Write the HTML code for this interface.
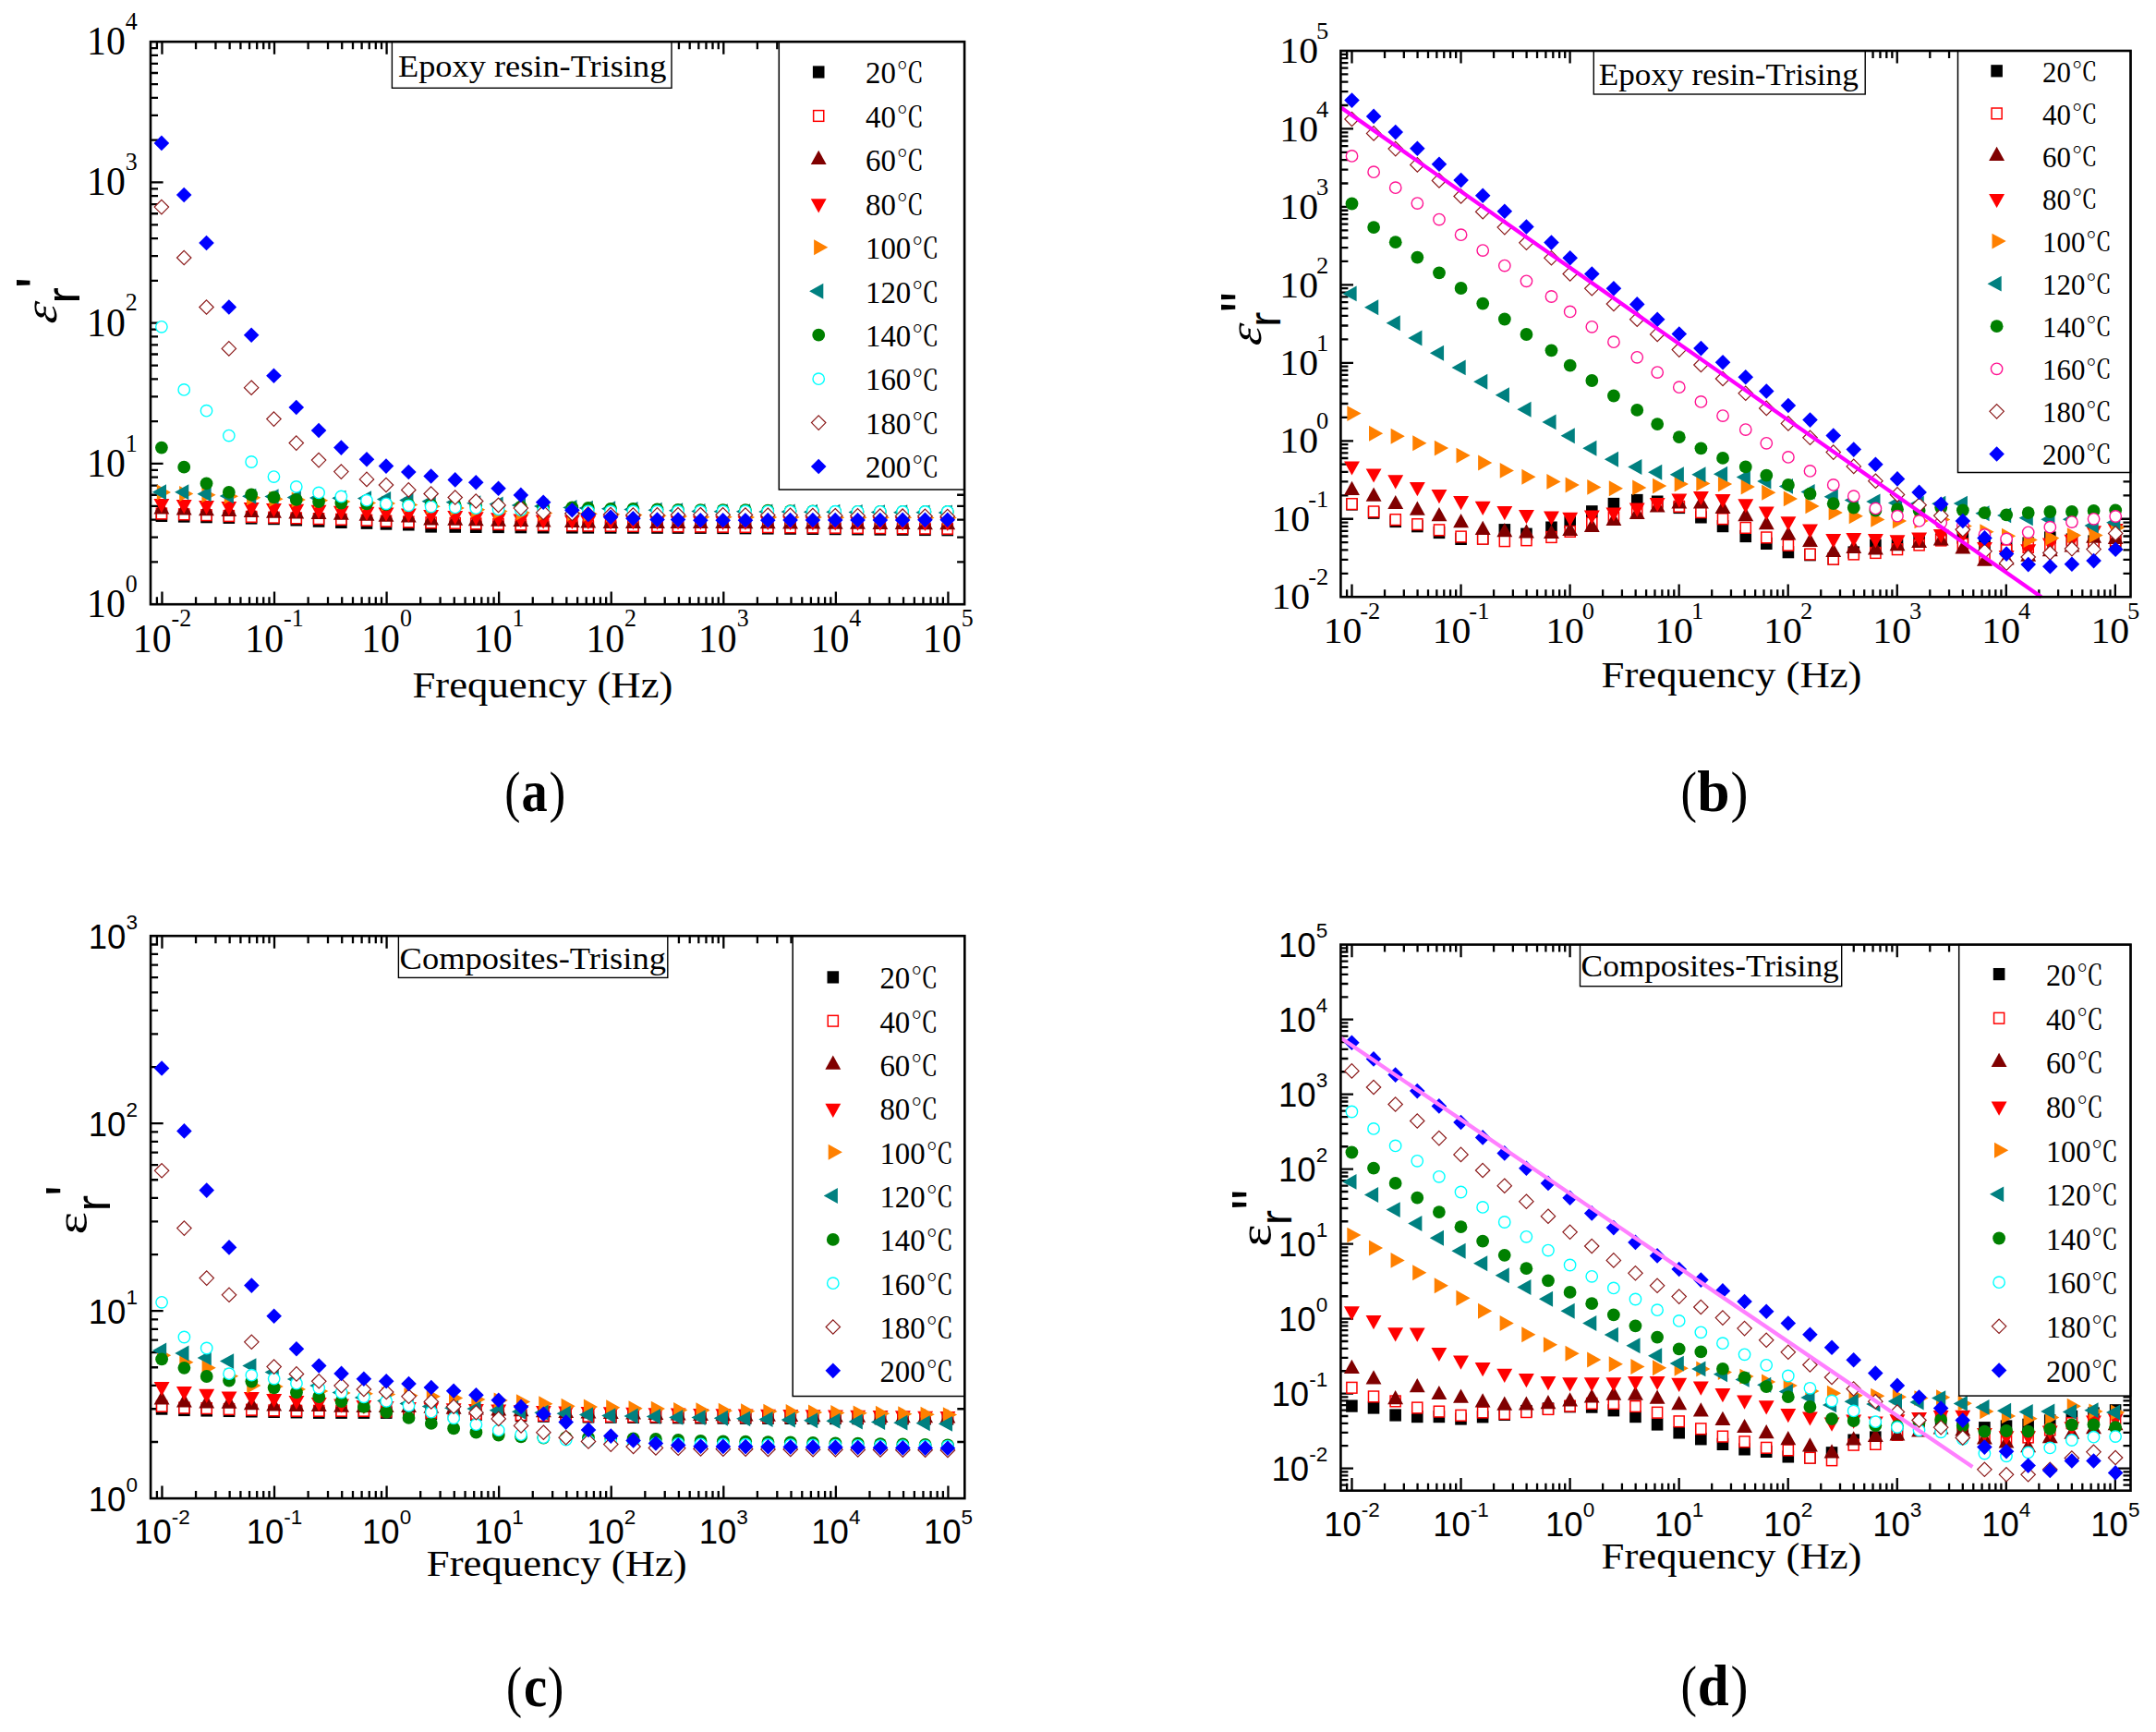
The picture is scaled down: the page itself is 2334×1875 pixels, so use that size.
<!DOCTYPE html>
<html lang="en"><head><meta charset="utf-8"><title>Dielectric spectra of epoxy resin and composites</title>
<style>html,body{margin:0;padding:0;background:#fff}svg{display:block}text{fill:#000}</style></head><body>
<svg xmlns="http://www.w3.org/2000/svg" width="2334" height="1875" viewBox="0 0 2334 1875">
<rect width="2334" height="1875" fill="#fff"/>
<g>
<path d="M169.89 654.2v-8M169.89 45.2v8M175.45 654.2v-13.6M175.45 45.2v13.6M212.05 654.2v-8M212.05 45.2v8M233.45 654.2v-8M233.45 45.2v8M248.64 654.2v-8M248.64 45.2v8M260.42 654.2v-8M260.42 45.2v8M270.05 654.2v-8M270.05 45.2v8M278.19 654.2v-8M278.19 45.2v8M285.24 654.2v-8M285.24 45.2v8M291.46 654.2v-8M291.46 45.2v8M297.02 654.2v-13.6M297.02 45.2v13.6M333.62 654.2v-8M333.62 45.2v8M355.02 654.2v-8M355.02 45.2v8M370.21 654.2v-8M370.21 45.2v8M381.99 654.2v-8M381.99 45.2v8M391.62 654.2v-8M391.62 45.2v8M399.76 654.2v-8M399.76 45.2v8M406.81 654.2v-8M406.81 45.2v8M413.03 654.2v-8M413.03 45.2v8M418.59 654.2v-13.6M418.59 45.2v13.6M455.19 654.2v-8M455.19 45.2v8M476.59 654.2v-8M476.59 45.2v8M491.78 654.2v-8M491.78 45.2v8M503.56 654.2v-8M503.56 45.2v8M513.19 654.2v-8M513.19 45.2v8M521.33 654.2v-8M521.33 45.2v8M528.38 654.2v-8M528.38 45.2v8M534.6 654.2v-8M534.6 45.2v8M540.16 654.2v-13.6M540.16 45.2v13.6M576.76 654.2v-8M576.76 45.2v8M598.16 654.2v-8M598.16 45.2v8M613.35 654.2v-8M613.35 45.2v8M625.13 654.2v-8M625.13 45.2v8M634.76 654.2v-8M634.76 45.2v8M642.9 654.2v-8M642.9 45.2v8M649.95 654.2v-8M649.95 45.2v8M656.17 654.2v-8M656.17 45.2v8M661.73 654.2v-13.6M661.73 45.2v13.6M698.33 654.2v-8M698.33 45.2v8M719.73 654.2v-8M719.73 45.2v8M734.92 654.2v-8M734.92 45.2v8M746.7 654.2v-8M746.7 45.2v8M756.33 654.2v-8M756.33 45.2v8M764.47 654.2v-8M764.47 45.2v8M771.52 654.2v-8M771.52 45.2v8M777.74 654.2v-8M777.74 45.2v8M783.3 654.2v-13.6M783.3 45.2v13.6M819.9 654.2v-8M819.9 45.2v8M841.3 654.2v-8M841.3 45.2v8M856.49 654.2v-8M856.49 45.2v8M868.27 654.2v-8M868.27 45.2v8M877.9 654.2v-8M877.9 45.2v8M886.04 654.2v-8M886.04 45.2v8M893.09 654.2v-8M893.09 45.2v8M899.31 654.2v-8M899.31 45.2v8M904.87 654.2v-13.6M904.87 45.2v13.6M941.47 654.2v-8M941.47 45.2v8M962.87 654.2v-8M962.87 45.2v8M978.06 654.2v-8M978.06 45.2v8M989.84 654.2v-8M989.84 45.2v8M999.47 654.2v-8M999.47 45.2v8M1007.61 654.2v-8M1007.61 45.2v8M1014.66 654.2v-8M1014.66 45.2v8M1020.88 654.2v-8M1020.88 45.2v8M1026.44 654.2v-13.6M1026.44 45.2v13.6M163 608.37h8M1044.1 608.37h-8M163 581.56h8M1044.1 581.56h-8M163 562.54h8M1044.1 562.54h-8M163 547.78h8M1044.1 547.78h-8M163 535.73h8M1044.1 535.73h-8M163 525.53h8M1044.1 525.53h-8M163 516.7h8M1044.1 516.7h-8M163 508.92h8M1044.1 508.92h-8M163 501.95h13.6M1044.1 501.95h-13.6M163 456.12h8M1044.1 456.12h-8M163 429.31h8M1044.1 429.31h-8M163 410.29h8M1044.1 410.29h-8M163 395.53h8M1044.1 395.53h-8M163 383.48h8M1044.1 383.48h-8M163 373.28h8M1044.1 373.28h-8M163 364.45h8M1044.1 364.45h-8M163 356.67h8M1044.1 356.67h-8M163 349.7h13.6M1044.1 349.7h-13.6M163 303.87h8M1044.1 303.87h-8M163 277.06h8M1044.1 277.06h-8M163 258.04h8M1044.1 258.04h-8M163 243.28h8M1044.1 243.28h-8M163 231.23h8M1044.1 231.23h-8M163 221.03h8M1044.1 221.03h-8M163 212.2h8M1044.1 212.2h-8M163 204.42h8M1044.1 204.42h-8M163 197.45h13.6M1044.1 197.45h-13.6M163 151.62h8M1044.1 151.62h-8M163 124.81h8M1044.1 124.81h-8M163 105.79h8M1044.1 105.79h-8M163 91.03h8M1044.1 91.03h-8M163 78.98h8M1044.1 78.98h-8M163 68.78h8M1044.1 68.78h-8M163 59.95h8M1044.1 59.95h-8M163 52.17h8M1044.1 52.17h-8" stroke="#000" stroke-width="2.3" fill="none"/>
<g><rect x="168.6" y="551.78" width="12.6" height="13.23" fill="#000000"/><rect x="192.91" y="552.42" width="12.6" height="13.23" fill="#000000"/><rect x="217.22" y="553.06" width="12.6" height="13.23" fill="#000000"/><rect x="241.53" y="553.71" width="12.6" height="13.23" fill="#000000"/><rect x="265.84" y="554.35" width="12.6" height="13.23" fill="#000000"/><rect x="290.15" y="554.99" width="12.6" height="13.23" fill="#000000"/><rect x="314.46" y="556.25" width="12.6" height="13.23" fill="#000000"/><rect x="338.77" y="557.52" width="12.6" height="13.23" fill="#000000"/><rect x="363.08" y="558.78" width="12.6" height="13.23" fill="#000000"/><rect x="390.69" y="559.62" width="12.6" height="13.23" fill="#000000"/><rect x="411.7" y="560.45" width="12.6" height="13.23" fill="#000000"/><rect x="436.01" y="561.28" width="12.6" height="13.23" fill="#000000"/><rect x="460.32" y="563.38" width="12.6" height="13.23" fill="#000000"/><rect x="486.43" y="563.56" width="12.6" height="13.23" fill="#000000"/><rect x="508.94" y="563.75" width="12.6" height="13.23" fill="#000000"/><rect x="533.25" y="563.92" width="12.6" height="13.23" fill="#000000"/><rect x="557.56" y="564.11" width="12.6" height="13.23" fill="#000000"/><rect x="581.87" y="564.28" width="12.6" height="13.23" fill="#000000"/><rect x="613.08" y="564.34" width="12.6" height="13.23" fill="#000000"/><rect x="630.49" y="564.4" width="12.6" height="13.23" fill="#000000"/><rect x="654.8" y="564.46" width="12.6" height="13.23" fill="#000000"/><rect x="679.11" y="564.51" width="12.6" height="13.23" fill="#000000"/><rect x="705.22" y="564.57" width="12.6" height="13.23" fill="#000000"/><rect x="727.73" y="564.63" width="12.6" height="13.23" fill="#000000"/><rect x="752.04" y="564.68" width="12.6" height="13.23" fill="#000000"/><rect x="776.35" y="564.9" width="12.6" height="13.23" fill="#000000"/><rect x="800.66" y="565.12" width="12.6" height="13.23" fill="#000000"/><rect x="824.97" y="565.34" width="12.6" height="13.23" fill="#000000"/><rect x="849.28" y="565.56" width="12.6" height="13.23" fill="#000000"/><rect x="873.59" y="565.78" width="12.6" height="13.23" fill="#000000"/><rect x="897.9" y="565.99" width="12.6" height="13.23" fill="#000000"/><rect x="922.21" y="566.21" width="12.6" height="13.23" fill="#000000"/><rect x="946.52" y="566.43" width="12.6" height="13.23" fill="#000000"/><rect x="970.83" y="566.65" width="12.6" height="13.23" fill="#000000"/><rect x="995.14" y="566.87" width="12.6" height="13.23" fill="#000000"/><rect x="1019.45" y="567.09" width="12.6" height="13.23" fill="#000000"/></g>
<g><rect x="169.35" y="550.13" width="11.1" height="11.73" fill="#fff" stroke="#ff0000" stroke-width="1.5"/><rect x="193.66" y="550.98" width="11.1" height="11.73" fill="#fff" stroke="#ff0000" stroke-width="1.5"/><rect x="217.97" y="551.82" width="11.1" height="11.73" fill="#fff" stroke="#ff0000" stroke-width="1.5"/><rect x="242.28" y="552.65" width="11.1" height="11.73" fill="#fff" stroke="#ff0000" stroke-width="1.5"/><rect x="266.59" y="553.5" width="11.1" height="11.73" fill="#fff" stroke="#ff0000" stroke-width="1.5"/><rect x="290.9" y="554.34" width="11.1" height="11.73" fill="#fff" stroke="#ff0000" stroke-width="1.5"/><rect x="315.21" y="555.03" width="11.1" height="11.73" fill="#fff" stroke="#ff0000" stroke-width="1.5"/><rect x="339.52" y="555.74" width="11.1" height="11.73" fill="#fff" stroke="#ff0000" stroke-width="1.5"/><rect x="363.83" y="556.43" width="11.1" height="11.73" fill="#fff" stroke="#ff0000" stroke-width="1.5"/><rect x="391.44" y="557.33" width="11.1" height="11.73" fill="#fff" stroke="#ff0000" stroke-width="1.5"/><rect x="412.45" y="558.24" width="11.1" height="11.73" fill="#fff" stroke="#ff0000" stroke-width="1.5"/><rect x="436.76" y="559.13" width="11.1" height="11.73" fill="#fff" stroke="#ff0000" stroke-width="1.5"/><rect x="461.07" y="559.93" width="11.1" height="11.73" fill="#fff" stroke="#ff0000" stroke-width="1.5"/><rect x="487.18" y="560.5" width="11.1" height="11.73" fill="#fff" stroke="#ff0000" stroke-width="1.5"/><rect x="509.69" y="561.05" width="11.1" height="11.73" fill="#fff" stroke="#ff0000" stroke-width="1.5"/><rect x="534" y="561.62" width="11.1" height="11.73" fill="#fff" stroke="#ff0000" stroke-width="1.5"/><rect x="558.31" y="562.17" width="11.1" height="11.73" fill="#fff" stroke="#ff0000" stroke-width="1.5"/><rect x="582.62" y="562.74" width="11.1" height="11.73" fill="#fff" stroke="#ff0000" stroke-width="1.5"/><rect x="613.83" y="562.97" width="11.1" height="11.73" fill="#fff" stroke="#ff0000" stroke-width="1.5"/><rect x="631.24" y="563.2" width="11.1" height="11.73" fill="#fff" stroke="#ff0000" stroke-width="1.5"/><rect x="655.55" y="563.43" width="11.1" height="11.73" fill="#fff" stroke="#ff0000" stroke-width="1.5"/><rect x="679.86" y="563.61" width="11.1" height="11.73" fill="#fff" stroke="#ff0000" stroke-width="1.5"/><rect x="705.97" y="563.78" width="11.1" height="11.73" fill="#fff" stroke="#ff0000" stroke-width="1.5"/><rect x="728.48" y="563.96" width="11.1" height="11.73" fill="#fff" stroke="#ff0000" stroke-width="1.5"/><rect x="752.79" y="564.13" width="11.1" height="11.73" fill="#fff" stroke="#ff0000" stroke-width="1.5"/><rect x="777.1" y="564.34" width="11.1" height="11.73" fill="#fff" stroke="#ff0000" stroke-width="1.5"/><rect x="801.41" y="564.55" width="11.1" height="11.73" fill="#fff" stroke="#ff0000" stroke-width="1.5"/><rect x="825.72" y="564.76" width="11.1" height="11.73" fill="#fff" stroke="#ff0000" stroke-width="1.5"/><rect x="850.03" y="564.97" width="11.1" height="11.73" fill="#fff" stroke="#ff0000" stroke-width="1.5"/><rect x="874.34" y="565.18" width="11.1" height="11.73" fill="#fff" stroke="#ff0000" stroke-width="1.5"/><rect x="898.65" y="565.39" width="11.1" height="11.73" fill="#fff" stroke="#ff0000" stroke-width="1.5"/><rect x="922.96" y="565.6" width="11.1" height="11.73" fill="#fff" stroke="#ff0000" stroke-width="1.5"/><rect x="947.27" y="565.81" width="11.1" height="11.73" fill="#fff" stroke="#ff0000" stroke-width="1.5"/><rect x="971.58" y="566.02" width="11.1" height="11.73" fill="#fff" stroke="#ff0000" stroke-width="1.5"/><rect x="995.89" y="566.23" width="11.1" height="11.73" fill="#fff" stroke="#ff0000" stroke-width="1.5"/><rect x="1020.2" y="566.43" width="11.1" height="11.73" fill="#fff" stroke="#ff0000" stroke-width="1.5"/></g>
<g><path d="M174.9 541.4L183.35 556.6L166.45 556.6Z" fill="#800000"/><path d="M199.21 542.22L207.66 557.42L190.76 557.42Z" fill="#800000"/><path d="M223.52 543.04L231.97 558.24L215.07 558.24Z" fill="#800000"/><path d="M247.83 543.86L256.28 559.06L239.38 559.06Z" fill="#800000"/><path d="M272.14 544.68L280.59 559.88L263.69 559.88Z" fill="#800000"/><path d="M296.45 545.5L304.9 560.7L288 560.7Z" fill="#800000"/><path d="M320.76 546.2L329.21 561.4L312.31 561.4Z" fill="#800000"/><path d="M345.07 546.9L353.52 562.1L336.62 562.1Z" fill="#800000"/><path d="M369.38 547.6L377.83 562.8L360.93 562.8Z" fill="#800000"/><path d="M396.99 548.53L405.44 563.73L388.54 563.73Z" fill="#800000"/><path d="M418 549.47L426.45 564.67L409.55 564.67Z" fill="#800000"/><path d="M442.31 550.4L450.76 565.6L433.86 565.6Z" fill="#800000"/><path d="M466.62 553.2L475.07 568.4L458.17 568.4Z" fill="#800000"/><path d="M492.73 553.62L501.18 568.82L484.28 568.82Z" fill="#800000"/><path d="M515.24 554.04L523.69 569.24L506.79 569.24Z" fill="#800000"/><path d="M539.55 554.46L548 569.66L531.1 569.66Z" fill="#800000"/><path d="M563.86 554.88L572.31 570.08L555.41 570.08Z" fill="#800000"/><path d="M588.17 555.3L596.62 570.5L579.72 570.5Z" fill="#800000"/><path d="M619.38 555.77L627.83 570.97L610.93 570.97Z" fill="#800000"/><path d="M636.79 556.23L645.24 571.43L628.34 571.43Z" fill="#800000"/><path d="M661.1 556.7L669.55 571.9L652.65 571.9Z" fill="#800000"/><path d="M685.41 556.7L693.86 571.9L676.96 571.9Z" fill="#800000"/><path d="M711.52 556.7L719.97 571.9L703.07 571.9Z" fill="#800000"/><path d="M734.03 556.7L742.48 571.9L725.58 571.9Z" fill="#800000"/><path d="M758.34 556.7L766.79 571.9L749.89 571.9Z" fill="#800000"/><path d="M782.65 556.83L791.1 572.03L774.2 572.03Z" fill="#800000"/><path d="M806.96 556.95L815.41 572.15L798.51 572.15Z" fill="#800000"/><path d="M831.27 557.08L839.72 572.28L822.82 572.28Z" fill="#800000"/><path d="M855.58 557.21L864.03 572.41L847.13 572.41Z" fill="#800000"/><path d="M879.89 557.34L888.34 572.54L871.44 572.54Z" fill="#800000"/><path d="M904.2 557.46L912.65 572.66L895.75 572.66Z" fill="#800000"/><path d="M928.51 557.59L936.96 572.79L920.06 572.79Z" fill="#800000"/><path d="M952.82 557.72L961.27 572.92L944.37 572.92Z" fill="#800000"/><path d="M977.13 557.85L985.58 573.05L968.68 573.05Z" fill="#800000"/><path d="M1001.44 557.97L1009.89 573.17L992.99 573.17Z" fill="#800000"/><path d="M1025.75 558.1L1034.2 573.3L1017.3 573.3Z" fill="#800000"/></g>
<g><path d="M174.9 555.3L183.35 540.1L166.45 540.1Z" fill="#ff0000"/><path d="M199.21 556.26L207.66 541.06L190.76 541.06Z" fill="#ff0000"/><path d="M223.52 557.22L231.97 542.02L215.07 542.02Z" fill="#ff0000"/><path d="M247.83 558.18L256.28 542.98L239.38 542.98Z" fill="#ff0000"/><path d="M272.14 559.14L280.59 543.94L263.69 543.94Z" fill="#ff0000"/><path d="M296.45 560.1L304.9 544.9L288 544.9Z" fill="#ff0000"/><path d="M320.76 561.07L329.21 545.87L312.31 545.87Z" fill="#ff0000"/><path d="M345.07 562.03L353.52 546.83L336.62 546.83Z" fill="#ff0000"/><path d="M369.38 563L377.83 547.8L360.93 547.8Z" fill="#ff0000"/><path d="M396.99 563.9L405.44 548.7L388.54 548.7Z" fill="#ff0000"/><path d="M418 564.8L426.45 549.6L409.55 549.6Z" fill="#ff0000"/><path d="M442.31 565.7L450.76 550.5L433.86 550.5Z" fill="#ff0000"/><path d="M466.62 567.1L475.07 551.9L458.17 551.9Z" fill="#ff0000"/><path d="M492.73 568.22L501.18 553.02L484.28 553.02Z" fill="#ff0000"/><path d="M515.24 569.34L523.69 554.14L506.79 554.14Z" fill="#ff0000"/><path d="M539.55 570.46L548 555.26L531.1 555.26Z" fill="#ff0000"/><path d="M563.86 571.58L572.31 556.38L555.41 556.38Z" fill="#ff0000"/><path d="M588.17 572.7L596.62 557.5L579.72 557.5Z" fill="#ff0000"/><path d="M619.38 572.93L627.83 557.73L610.93 557.73Z" fill="#ff0000"/><path d="M636.79 573.17L645.24 557.97L628.34 557.97Z" fill="#ff0000"/><path d="M661.1 573.4L669.55 558.2L652.65 558.2Z" fill="#ff0000"/><path d="M685.41 573.51L693.86 558.31L676.96 558.31Z" fill="#ff0000"/><path d="M711.52 573.63L719.97 558.43L703.07 558.43Z" fill="#ff0000"/><path d="M734.03 573.74L742.48 558.54L725.58 558.54Z" fill="#ff0000"/><path d="M758.34 573.85L766.79 558.65L749.89 558.65Z" fill="#ff0000"/><path d="M782.65 573.97L791.1 558.77L774.2 558.77Z" fill="#ff0000"/><path d="M806.96 574.08L815.41 558.88L798.51 558.88Z" fill="#ff0000"/><path d="M831.27 574.19L839.72 558.99L822.82 558.99Z" fill="#ff0000"/><path d="M855.58 574.31L864.03 559.11L847.13 559.11Z" fill="#ff0000"/><path d="M879.89 574.42L888.34 559.22L871.44 559.22Z" fill="#ff0000"/><path d="M904.2 574.53L912.65 559.33L895.75 559.33Z" fill="#ff0000"/><path d="M928.51 574.65L936.96 559.45L920.06 559.45Z" fill="#ff0000"/><path d="M952.82 574.76L961.27 559.56L944.37 559.56Z" fill="#ff0000"/><path d="M977.13 574.87L985.58 559.67L968.68 559.67Z" fill="#ff0000"/><path d="M1001.44 574.99L1009.89 559.79L992.99 559.79Z" fill="#ff0000"/><path d="M1025.75 575.1L1034.2 559.9L1017.3 559.9Z" fill="#ff0000"/></g>
<g><path d="M185 533L169.8 524.55L169.8 541.45Z" fill="#ff8000"/><path d="M209.31 534.43L194.11 525.98L194.11 542.88Z" fill="#ff8000"/><path d="M233.62 535.87L218.42 527.42L218.42 544.32Z" fill="#ff8000"/><path d="M257.93 537.3L242.73 528.85L242.73 545.75Z" fill="#ff8000"/><path d="M282.24 538.8L267.04 530.35L267.04 547.25Z" fill="#ff8000"/><path d="M306.55 540.3L291.35 531.85L291.35 548.75Z" fill="#ff8000"/><path d="M330.86 541L315.66 532.55L315.66 549.45Z" fill="#ff8000"/><path d="M355.17 541.7L339.97 533.25L339.97 550.15Z" fill="#ff8000"/><path d="M379.48 543.1L364.28 534.65L364.28 551.55Z" fill="#ff8000"/><path d="M407.09 544.5L391.89 536.05L391.89 552.95Z" fill="#ff8000"/><path d="M428.1 545L412.9 536.55L412.9 553.45Z" fill="#ff8000"/><path d="M452.41 546.6L437.21 538.15L437.21 555.05Z" fill="#ff8000"/><path d="M476.72 548.33L461.52 539.88L461.52 556.78Z" fill="#ff8000"/><path d="M502.83 550.05L487.63 541.6L487.63 558.5Z" fill="#ff8000"/><path d="M525.34 551.77L510.14 543.32L510.14 560.23Z" fill="#ff8000"/><path d="M549.65 553.5L534.45 545.05L534.45 561.95Z" fill="#ff8000"/><path d="M573.96 555L558.76 546.55L558.76 563.45Z" fill="#ff8000"/><path d="M598.27 555.42L583.07 546.97L583.07 563.88Z" fill="#ff8000"/><path d="M629.48 555.85L614.28 547.4L614.28 564.3Z" fill="#ff8000"/><path d="M646.89 556.28L631.69 547.83L631.69 564.73Z" fill="#ff8000"/><path d="M671.2 556.7L656 548.25L656 565.15Z" fill="#ff8000"/><path d="M695.51 557.48L680.31 549.02L680.31 565.93Z" fill="#ff8000"/><path d="M721.62 558.25L706.42 549.8L706.42 566.7Z" fill="#ff8000"/><path d="M744.13 559.02L728.93 550.57L728.93 567.48Z" fill="#ff8000"/><path d="M768.44 559.8L753.24 551.35L753.24 568.25Z" fill="#ff8000"/><path d="M792.75 559.86L777.55 551.41L777.55 568.31Z" fill="#ff8000"/><path d="M817.06 559.93L801.86 551.48L801.86 568.38Z" fill="#ff8000"/><path d="M841.37 559.99L826.17 551.54L826.17 568.44Z" fill="#ff8000"/><path d="M865.68 560.05L850.48 551.6L850.48 568.5Z" fill="#ff8000"/><path d="M889.99 560.12L874.79 551.67L874.79 568.57Z" fill="#ff8000"/><path d="M914.3 560.18L899.1 551.73L899.1 568.63Z" fill="#ff8000"/><path d="M938.61 560.25L923.41 551.8L923.41 568.7Z" fill="#ff8000"/><path d="M962.92 560.31L947.72 551.86L947.72 568.76Z" fill="#ff8000"/><path d="M987.23 560.37L972.03 551.92L972.03 568.82Z" fill="#ff8000"/><path d="M1011.54 560.44L996.34 551.99L996.34 568.89Z" fill="#ff8000"/><path d="M1035.85 560.5L1020.65 552.05L1020.65 568.95Z" fill="#ff8000"/></g>
<g><path d="M164.8 532.7L180 524.25L180 541.15Z" fill="#008080"/><path d="M189.11 532.7L204.31 524.25L204.31 541.15Z" fill="#008080"/><path d="M213.42 534.8L228.62 526.35L228.62 543.25Z" fill="#008080"/><path d="M237.73 536.9L252.93 528.45L252.93 545.35Z" fill="#008080"/><path d="M262.04 537.2L277.24 528.75L277.24 545.65Z" fill="#008080"/><path d="M286.35 537.6L301.55 529.15L301.55 546.05Z" fill="#008080"/><path d="M310.66 538.5L325.86 530.05L325.86 546.95Z" fill="#008080"/><path d="M334.97 539L350.17 530.55L350.17 547.45Z" fill="#008080"/><path d="M359.28 539.3L374.48 530.85L374.48 547.75Z" fill="#008080"/><path d="M386.89 539.6L402.09 531.15L402.09 548.05Z" fill="#008080"/><path d="M407.9 540.5L423.1 532.05L423.1 548.95Z" fill="#008080"/><path d="M432.21 541.57L447.41 533.12L447.41 550.02Z" fill="#008080"/><path d="M456.52 542.64L471.72 534.19L471.72 551.09Z" fill="#008080"/><path d="M482.63 543.71L497.83 535.26L497.83 552.16Z" fill="#008080"/><path d="M505.14 544.79L520.34 536.34L520.34 553.24Z" fill="#008080"/><path d="M529.45 545.86L544.65 537.41L544.65 554.31Z" fill="#008080"/><path d="M553.76 546.93L568.96 538.48L568.96 555.38Z" fill="#008080"/><path d="M578.07 548L593.27 539.55L593.27 556.45Z" fill="#008080"/><path d="M609.28 549.4L624.48 540.95L624.48 557.85Z" fill="#008080"/><path d="M626.69 550.08L641.89 541.63L641.89 558.53Z" fill="#008080"/><path d="M651 550.77L666.2 542.32L666.2 559.22Z" fill="#008080"/><path d="M675.31 551.45L690.51 543L690.51 559.9Z" fill="#008080"/><path d="M701.42 552.13L716.62 543.68L716.62 560.58Z" fill="#008080"/><path d="M723.93 552.82L739.13 544.37L739.13 561.27Z" fill="#008080"/><path d="M748.24 553.5L763.44 545.05L763.44 561.95Z" fill="#008080"/><path d="M772.55 553.64L787.75 545.19L787.75 562.09Z" fill="#008080"/><path d="M796.86 553.77L812.06 545.32L812.06 562.22Z" fill="#008080"/><path d="M821.17 553.91L836.37 545.46L836.37 562.36Z" fill="#008080"/><path d="M845.48 554.05L860.68 545.6L860.68 562.5Z" fill="#008080"/><path d="M869.79 554.18L884.99 545.73L884.99 562.63Z" fill="#008080"/><path d="M894.1 554.32L909.3 545.87L909.3 562.77Z" fill="#008080"/><path d="M918.41 554.45L933.61 546L933.61 562.9Z" fill="#008080"/><path d="M942.72 554.59L957.92 546.14L957.92 563.04Z" fill="#008080"/><path d="M967.03 554.73L982.23 546.28L982.23 563.18Z" fill="#008080"/><path d="M991.34 554.86L1006.54 546.41L1006.54 563.31Z" fill="#008080"/><path d="M1015.65 555L1030.85 546.55L1030.85 563.45Z" fill="#008080"/></g>
<g><circle cx="174.9" cy="484.6" r="6.9" fill="#008000"/><circle cx="199.21" cy="505.7" r="6.9" fill="#008000"/><circle cx="223.52" cy="523.4" r="6.9" fill="#008000"/><circle cx="247.83" cy="532.9" r="6.9" fill="#008000"/><circle cx="272.14" cy="535.5" r="6.9" fill="#008000"/><circle cx="296.45" cy="538.3" r="6.9" fill="#008000"/><circle cx="320.76" cy="540.9" r="6.9" fill="#008000"/><circle cx="345.07" cy="543" r="6.9" fill="#008000"/><circle cx="369.38" cy="544.5" r="6.9" fill="#008000"/><circle cx="396.99" cy="545.3" r="6.9" fill="#008000"/><circle cx="418" cy="546" r="6.9" fill="#008000"/><circle cx="442.31" cy="546.3" r="6.9" fill="#008000"/><circle cx="466.62" cy="546.6" r="6.9" fill="#008000"/><circle cx="492.73" cy="547.2" r="6.9" fill="#008000"/><circle cx="515.24" cy="547.8" r="6.9" fill="#008000"/><circle cx="539.55" cy="548.2" r="6.9" fill="#008000"/><circle cx="563.86" cy="548.7" r="6.9" fill="#008000"/><circle cx="588.17" cy="549" r="6.9" fill="#008000"/><circle cx="619.38" cy="549.4" r="6.9" fill="#008000"/><circle cx="636.79" cy="550" r="6.9" fill="#008000"/><circle cx="661.1" cy="550.8" r="6.9" fill="#008000"/><circle cx="685.41" cy="550.8" r="6.9" fill="#008000"/><circle cx="711.52" cy="551.5" r="6.9" fill="#008000"/><circle cx="734.03" cy="551.8" r="6.9" fill="#008000"/><circle cx="758.34" cy="552.2" r="6.9" fill="#008000"/><circle cx="782.65" cy="552.2" r="6.9" fill="#008000"/><circle cx="806.96" cy="552.2" r="6.9" fill="#008000"/><circle cx="831.27" cy="552.63" r="6.9" fill="#008000"/><circle cx="855.58" cy="553.07" r="6.9" fill="#008000"/><circle cx="879.89" cy="553.5" r="6.9" fill="#008000"/><circle cx="904.2" cy="554" r="6.9" fill="#008000"/><circle cx="928.51" cy="554" r="6.9" fill="#008000"/><circle cx="952.82" cy="554" r="6.9" fill="#008000"/><circle cx="977.13" cy="554" r="6.9" fill="#008000"/><circle cx="1001.44" cy="554" r="6.9" fill="#008000"/><circle cx="1025.75" cy="554" r="6.9" fill="#008000"/></g>
<g><circle cx="174.9" cy="353.8" r="6.2" fill="#fff" stroke="#00ffff" stroke-width="1.4"/><circle cx="199.21" cy="421.9" r="6.2" fill="#fff" stroke="#00ffff" stroke-width="1.4"/><circle cx="223.52" cy="444.7" r="6.2" fill="#fff" stroke="#00ffff" stroke-width="1.4"/><circle cx="247.83" cy="471.6" r="6.2" fill="#fff" stroke="#00ffff" stroke-width="1.4"/><circle cx="272.14" cy="500" r="6.2" fill="#fff" stroke="#00ffff" stroke-width="1.4"/><circle cx="296.45" cy="516.1" r="6.2" fill="#fff" stroke="#00ffff" stroke-width="1.4"/><circle cx="320.76" cy="526.9" r="6.2" fill="#fff" stroke="#00ffff" stroke-width="1.4"/><circle cx="345.07" cy="533.4" r="6.2" fill="#fff" stroke="#00ffff" stroke-width="1.4"/><circle cx="369.38" cy="537.5" r="6.2" fill="#fff" stroke="#00ffff" stroke-width="1.4"/><circle cx="396.99" cy="541.7" r="6.2" fill="#fff" stroke="#00ffff" stroke-width="1.4"/><circle cx="418" cy="545.3" r="6.2" fill="#fff" stroke="#00ffff" stroke-width="1.4"/><circle cx="442.31" cy="547.3" r="6.2" fill="#fff" stroke="#00ffff" stroke-width="1.4"/><circle cx="466.62" cy="548.5" r="6.2" fill="#fff" stroke="#00ffff" stroke-width="1.4"/><circle cx="492.73" cy="549.4" r="6.2" fill="#fff" stroke="#00ffff" stroke-width="1.4"/><circle cx="515.24" cy="550.2" r="6.2" fill="#fff" stroke="#00ffff" stroke-width="1.4"/><circle cx="539.55" cy="551.4" r="6.2" fill="#fff" stroke="#00ffff" stroke-width="1.4"/><circle cx="563.86" cy="552" r="6.2" fill="#fff" stroke="#00ffff" stroke-width="1.4"/><circle cx="588.17" cy="553" r="6.2" fill="#fff" stroke="#00ffff" stroke-width="1.4"/><circle cx="619.38" cy="553.3" r="6.2" fill="#fff" stroke="#00ffff" stroke-width="1.4"/><circle cx="636.79" cy="553.5" r="6.2" fill="#fff" stroke="#00ffff" stroke-width="1.4"/><circle cx="661.1" cy="553.48" r="6.2" fill="#fff" stroke="#00ffff" stroke-width="1.4"/><circle cx="685.41" cy="553.46" r="6.2" fill="#fff" stroke="#00ffff" stroke-width="1.4"/><circle cx="711.52" cy="553.44" r="6.2" fill="#fff" stroke="#00ffff" stroke-width="1.4"/><circle cx="734.03" cy="553.42" r="6.2" fill="#fff" stroke="#00ffff" stroke-width="1.4"/><circle cx="758.34" cy="553.4" r="6.2" fill="#fff" stroke="#00ffff" stroke-width="1.4"/><circle cx="782.65" cy="553.45" r="6.2" fill="#fff" stroke="#00ffff" stroke-width="1.4"/><circle cx="806.96" cy="553.51" r="6.2" fill="#fff" stroke="#00ffff" stroke-width="1.4"/><circle cx="831.27" cy="553.56" r="6.2" fill="#fff" stroke="#00ffff" stroke-width="1.4"/><circle cx="855.58" cy="553.62" r="6.2" fill="#fff" stroke="#00ffff" stroke-width="1.4"/><circle cx="879.89" cy="553.67" r="6.2" fill="#fff" stroke="#00ffff" stroke-width="1.4"/><circle cx="904.2" cy="553.73" r="6.2" fill="#fff" stroke="#00ffff" stroke-width="1.4"/><circle cx="928.51" cy="553.78" r="6.2" fill="#fff" stroke="#00ffff" stroke-width="1.4"/><circle cx="952.82" cy="553.84" r="6.2" fill="#fff" stroke="#00ffff" stroke-width="1.4"/><circle cx="977.13" cy="553.89" r="6.2" fill="#fff" stroke="#00ffff" stroke-width="1.4"/><circle cx="1001.44" cy="553.95" r="6.2" fill="#fff" stroke="#00ffff" stroke-width="1.4"/><circle cx="1025.75" cy="554" r="6.2" fill="#fff" stroke="#00ffff" stroke-width="1.4"/></g>
<g><path d="M174.9 216.4L182.6 224.1L174.9 231.8L167.2 224.1Z" fill="#fff" stroke="#8b1a1a" stroke-width="1.2"/><path d="M199.21 271.3L206.91 279L199.21 286.7L191.51 279Z" fill="#fff" stroke="#8b1a1a" stroke-width="1.2"/><path d="M223.52 324.8L231.22 332.5L223.52 340.2L215.82 332.5Z" fill="#fff" stroke="#8b1a1a" stroke-width="1.2"/><path d="M247.83 369.7L255.53 377.4L247.83 385.1L240.13 377.4Z" fill="#fff" stroke="#8b1a1a" stroke-width="1.2"/><path d="M272.14 412L279.84 419.7L272.14 427.4L264.44 419.7Z" fill="#fff" stroke="#8b1a1a" stroke-width="1.2"/><path d="M296.45 445.9L304.15 453.6L296.45 461.3L288.75 453.6Z" fill="#fff" stroke="#8b1a1a" stroke-width="1.2"/><path d="M320.76 471.9L328.46 479.6L320.76 487.3L313.06 479.6Z" fill="#fff" stroke="#8b1a1a" stroke-width="1.2"/><path d="M345.07 490.4L352.77 498.1L345.07 505.8L337.37 498.1Z" fill="#fff" stroke="#8b1a1a" stroke-width="1.2"/><path d="M369.38 502.9L377.08 510.6L369.38 518.3L361.68 510.6Z" fill="#fff" stroke="#8b1a1a" stroke-width="1.2"/><path d="M396.99 511.2L404.69 518.9L396.99 526.6L389.29 518.9Z" fill="#fff" stroke="#8b1a1a" stroke-width="1.2"/><path d="M418 517.3L425.7 525L418 532.7L410.3 525Z" fill="#fff" stroke="#8b1a1a" stroke-width="1.2"/><path d="M442.31 522.7L450.01 530.4L442.31 538.1L434.61 530.4Z" fill="#fff" stroke="#8b1a1a" stroke-width="1.2"/><path d="M466.62 526.8L474.32 534.5L466.62 542.2L458.92 534.5Z" fill="#fff" stroke="#8b1a1a" stroke-width="1.2"/><path d="M492.73 530.8L500.43 538.5L492.73 546.2L485.03 538.5Z" fill="#fff" stroke="#8b1a1a" stroke-width="1.2"/><path d="M515.24 534.8L522.94 542.5L515.24 550.2L507.54 542.5Z" fill="#fff" stroke="#8b1a1a" stroke-width="1.2"/><path d="M539.55 539.2L547.25 546.9L539.55 554.6L531.85 546.9Z" fill="#fff" stroke="#8b1a1a" stroke-width="1.2"/><path d="M563.86 542.4L571.56 550.1L563.86 557.8L556.16 550.1Z" fill="#fff" stroke="#8b1a1a" stroke-width="1.2"/><path d="M588.17 547.2L595.87 554.9L588.17 562.6L580.47 554.9Z" fill="#fff" stroke="#8b1a1a" stroke-width="1.2"/><path d="M619.38 548.3L627.08 556L619.38 563.7L611.68 556Z" fill="#fff" stroke="#8b1a1a" stroke-width="1.2"/><path d="M636.79 548.8L644.49 556.5L636.79 564.2L629.09 556.5Z" fill="#fff" stroke="#8b1a1a" stroke-width="1.2"/><path d="M661.1 549.3L668.8 557L661.1 564.7L653.4 557Z" fill="#fff" stroke="#8b1a1a" stroke-width="1.2"/><path d="M685.41 549.8L693.11 557.5L685.41 565.2L677.71 557.5Z" fill="#fff" stroke="#8b1a1a" stroke-width="1.2"/><path d="M711.52 549.7L719.22 557.4L711.52 565.1L703.82 557.4Z" fill="#fff" stroke="#8b1a1a" stroke-width="1.2"/><path d="M734.03 549.6L741.73 557.3L734.03 565L726.33 557.3Z" fill="#fff" stroke="#8b1a1a" stroke-width="1.2"/><path d="M758.34 549.5L766.04 557.2L758.34 564.9L750.64 557.2Z" fill="#fff" stroke="#8b1a1a" stroke-width="1.2"/><path d="M782.65 549.66L790.35 557.36L782.65 565.06L774.95 557.36Z" fill="#fff" stroke="#8b1a1a" stroke-width="1.2"/><path d="M806.96 549.83L814.66 557.53L806.96 565.23L799.26 557.53Z" fill="#fff" stroke="#8b1a1a" stroke-width="1.2"/><path d="M831.27 549.99L838.97 557.69L831.27 565.39L823.57 557.69Z" fill="#fff" stroke="#8b1a1a" stroke-width="1.2"/><path d="M855.58 550.15L863.28 557.85L855.58 565.55L847.88 557.85Z" fill="#fff" stroke="#8b1a1a" stroke-width="1.2"/><path d="M879.89 550.32L887.59 558.02L879.89 565.72L872.19 558.02Z" fill="#fff" stroke="#8b1a1a" stroke-width="1.2"/><path d="M904.2 550.48L911.9 558.18L904.2 565.88L896.5 558.18Z" fill="#fff" stroke="#8b1a1a" stroke-width="1.2"/><path d="M928.51 550.65L936.21 558.35L928.51 566.05L920.81 558.35Z" fill="#fff" stroke="#8b1a1a" stroke-width="1.2"/><path d="M952.82 550.81L960.52 558.51L952.82 566.21L945.12 558.51Z" fill="#fff" stroke="#8b1a1a" stroke-width="1.2"/><path d="M977.13 550.97L984.83 558.67L977.13 566.37L969.43 558.67Z" fill="#fff" stroke="#8b1a1a" stroke-width="1.2"/><path d="M1001.44 551.14L1009.14 558.84L1001.44 566.54L993.74 558.84Z" fill="#fff" stroke="#8b1a1a" stroke-width="1.2"/><path d="M1025.75 551.3L1033.45 559L1025.75 566.7L1018.05 559Z" fill="#fff" stroke="#8b1a1a" stroke-width="1.2"/></g>
<g><path d="M174.9 146.6L183.2 154.9L174.9 163.2L166.6 154.9Z" fill="#0000ff"/><path d="M199.21 202.7L207.51 211L199.21 219.3L190.91 211Z" fill="#0000ff"/><path d="M223.52 254.7L231.82 263L223.52 271.3L215.22 263Z" fill="#0000ff"/><path d="M247.83 324.2L256.13 332.5L247.83 340.8L239.53 332.5Z" fill="#0000ff"/><path d="M272.14 354.4L280.44 362.7L272.14 371L263.84 362.7Z" fill="#0000ff"/><path d="M296.45 398.4L304.75 406.7L296.45 415L288.15 406.7Z" fill="#0000ff"/><path d="M320.76 432.7L329.06 441L320.76 449.3L312.46 441Z" fill="#0000ff"/><path d="M345.07 457.7L353.37 466L345.07 474.3L336.77 466Z" fill="#0000ff"/><path d="M369.38 476.3L377.68 484.6L369.38 492.9L361.08 484.6Z" fill="#0000ff"/><path d="M396.99 488.9L405.29 497.2L396.99 505.5L388.69 497.2Z" fill="#0000ff"/><path d="M418 496.3L426.3 504.6L418 512.9L409.7 504.6Z" fill="#0000ff"/><path d="M442.31 502.7L450.61 511L442.31 519.3L434.01 511Z" fill="#0000ff"/><path d="M466.62 507.2L474.92 515.5L466.62 523.8L458.32 515.5Z" fill="#0000ff"/><path d="M492.73 511.1L501.03 519.4L492.73 527.7L484.43 519.4Z" fill="#0000ff"/><path d="M515.24 513.9L523.54 522.2L515.24 530.5L506.94 522.2Z" fill="#0000ff"/><path d="M539.55 520.5L547.85 528.8L539.55 537.1L531.25 528.8Z" fill="#0000ff"/><path d="M563.86 527.6L572.16 535.9L563.86 544.2L555.56 535.9Z" fill="#0000ff"/><path d="M588.17 535.5L596.47 543.8L588.17 552.1L579.87 543.8Z" fill="#0000ff"/><path d="M619.38 543.9L627.68 552.2L619.38 560.5L611.08 552.2Z" fill="#0000ff"/><path d="M636.79 548.7L645.09 557L636.79 565.3L628.49 557Z" fill="#0000ff"/><path d="M661.1 551.5L669.4 559.8L661.1 568.1L652.8 559.8Z" fill="#0000ff"/><path d="M685.41 552.9L693.71 561.2L685.41 569.5L677.11 561.2Z" fill="#0000ff"/><path d="M711.52 554.3L719.82 562.6L711.52 570.9L703.22 562.6Z" fill="#0000ff"/><path d="M734.03 554.3L742.33 562.6L734.03 570.9L725.73 562.6Z" fill="#0000ff"/><path d="M758.34 555L766.64 563.3L758.34 571.6L750.04 563.3Z" fill="#0000ff"/><path d="M782.65 554.95L790.95 563.25L782.65 571.55L774.35 563.25Z" fill="#0000ff"/><path d="M806.96 554.91L815.26 563.21L806.96 571.51L798.66 563.21Z" fill="#0000ff"/><path d="M831.27 554.86L839.57 563.16L831.27 571.46L822.97 563.16Z" fill="#0000ff"/><path d="M855.58 554.82L863.88 563.12L855.58 571.42L847.28 563.12Z" fill="#0000ff"/><path d="M879.89 554.77L888.19 563.07L879.89 571.37L871.59 563.07Z" fill="#0000ff"/><path d="M904.2 554.73L912.5 563.03L904.2 571.33L895.9 563.03Z" fill="#0000ff"/><path d="M928.51 554.68L936.81 562.98L928.51 571.28L920.21 562.98Z" fill="#0000ff"/><path d="M952.82 554.64L961.12 562.94L952.82 571.24L944.52 562.94Z" fill="#0000ff"/><path d="M977.13 554.59L985.43 562.89L977.13 571.19L968.83 562.89Z" fill="#0000ff"/><path d="M1001.44 554.55L1009.74 562.85L1001.44 571.15L993.14 562.85Z" fill="#0000ff"/><path d="M1025.75 554.5L1034.05 562.8L1025.75 571.1L1017.45 562.8Z" fill="#0000ff"/></g>
<rect x="424.4" y="45.2" width="302.6" height="50.1" fill="#fff" stroke="#000" stroke-width="1.4"/>
<text x="431" y="82.9" font-family='"Liberation Serif", serif' font-size="34.5" textLength="290.4" lengthAdjust="spacingAndGlyphs">Epoxy resin-Trising</text>
<rect x="843.3" y="45.2" width="200.8" height="484.8" fill="#fff" stroke="#000" stroke-width="1.5"/>
<rect x="879.9" y="71.39" width="12.6" height="13.23" fill="#000000"/>
<text transform="translate(937,90.3) scale(0.95,1)" font-family='"Liberation Serif", serif' font-size="34.6">20</text>
<text x="970.57" y="89.4" font-family='"Liberation Serif", "Noto Serif CJK SC", serif' font-size="29.7">℃</text>
<rect x="880.65" y="119.59" width="11.1" height="11.73" fill="#fff" stroke="#ff0000" stroke-width="1.5"/>
<text transform="translate(937,137.75) scale(0.95,1)" font-family='"Liberation Serif", serif' font-size="34.6">40</text>
<text x="970.57" y="136.85" font-family='"Liberation Serif", "Noto Serif CJK SC", serif' font-size="29.7">℃</text>
<path d="M886.2 162.8L894.65 178L877.75 178Z" fill="#800000"/>
<text transform="translate(937,185.2) scale(0.95,1)" font-family='"Liberation Serif", serif' font-size="34.6">60</text>
<text x="970.57" y="184.3" font-family='"Liberation Serif", "Noto Serif CJK SC", serif' font-size="29.7">℃</text>
<path d="M886.2 230.45L894.65 215.25L877.75 215.25Z" fill="#ff0000"/>
<text transform="translate(937,232.65) scale(0.95,1)" font-family='"Liberation Serif", serif' font-size="34.6">80</text>
<text x="970.57" y="231.75" font-family='"Liberation Serif", "Noto Serif CJK SC", serif' font-size="29.7">℃</text>
<path d="M896.3 267.8L881.1 259.35L881.1 276.25Z" fill="#ff8000"/>
<text transform="translate(937,280.1) scale(0.95,1)" font-family='"Liberation Serif", serif' font-size="34.6">100</text>
<text x="987" y="279.2" font-family='"Liberation Serif", "Noto Serif CJK SC", serif' font-size="29.7">℃</text>
<path d="M876.1 315.25L891.3 306.8L891.3 323.7Z" fill="#008080"/>
<text transform="translate(937,327.55) scale(0.95,1)" font-family='"Liberation Serif", serif' font-size="34.6">120</text>
<text x="987" y="326.65" font-family='"Liberation Serif", "Noto Serif CJK SC", serif' font-size="29.7">℃</text>
<circle cx="886.2" cy="362.7" r="6.9" fill="#008000"/>
<text transform="translate(937,375) scale(0.95,1)" font-family='"Liberation Serif", serif' font-size="34.6">140</text>
<text x="987" y="374.1" font-family='"Liberation Serif", "Noto Serif CJK SC", serif' font-size="29.7">℃</text>
<circle cx="886.2" cy="410.15" r="6.2" fill="#fff" stroke="#00ffff" stroke-width="1.4"/>
<text transform="translate(937,422.45) scale(0.95,1)" font-family='"Liberation Serif", serif' font-size="34.6">160</text>
<text x="987" y="421.55" font-family='"Liberation Serif", "Noto Serif CJK SC", serif' font-size="29.7">℃</text>
<path d="M886.2 449.9L893.9 457.6L886.2 465.3L878.5 457.6Z" fill="#fff" stroke="#8b1a1a" stroke-width="1.2"/>
<text transform="translate(937,469.9) scale(0.95,1)" font-family='"Liberation Serif", serif' font-size="34.6">180</text>
<text x="987" y="469" font-family='"Liberation Serif", "Noto Serif CJK SC", serif' font-size="29.7">℃</text>
<path d="M886.2 496.75L894.5 505.05L886.2 513.35L877.9 505.05Z" fill="#0000ff"/>
<text transform="translate(937,517.35) scale(0.95,1)" font-family='"Liberation Serif", serif' font-size="34.6">200</text>
<text x="987" y="516.45" font-family='"Liberation Serif", "Noto Serif CJK SC", serif' font-size="29.7">℃</text>
<rect x="163" y="45.2" width="881.1" height="609" fill="none" stroke="#000" stroke-width="2.6"/>
<text transform="translate(175.45,705.5) scale(0.96,1)" text-anchor="middle" font-family='"Liberation Serif", serif' font-size="43.5">10<tspan dx="0" dy="-27.3" font-size="27">-2</tspan></text>
<text transform="translate(297.02,705.5) scale(0.96,1)" text-anchor="middle" font-family='"Liberation Serif", serif' font-size="43.5">10<tspan dx="0" dy="-27.3" font-size="27">-1</tspan></text>
<text transform="translate(418.59,705.5) scale(0.96,1)" text-anchor="middle" font-family='"Liberation Serif", serif' font-size="43.5">10<tspan dx="0" dy="-27.3" font-size="27">0</tspan></text>
<text transform="translate(540.16,705.5) scale(0.96,1)" text-anchor="middle" font-family='"Liberation Serif", serif' font-size="43.5">10<tspan dx="0" dy="-27.3" font-size="27">1</tspan></text>
<text transform="translate(661.73,705.5) scale(0.96,1)" text-anchor="middle" font-family='"Liberation Serif", serif' font-size="43.5">10<tspan dx="0" dy="-27.3" font-size="27">2</tspan></text>
<text transform="translate(783.3,705.5) scale(0.96,1)" text-anchor="middle" font-family='"Liberation Serif", serif' font-size="43.5">10<tspan dx="0" dy="-27.3" font-size="27">3</tspan></text>
<text transform="translate(904.87,705.5) scale(0.96,1)" text-anchor="middle" font-family='"Liberation Serif", serif' font-size="43.5">10<tspan dx="0" dy="-27.3" font-size="27">4</tspan></text>
<text transform="translate(1026.44,705.5) scale(0.96,1)" text-anchor="middle" font-family='"Liberation Serif", serif' font-size="43.5">10<tspan dx="0" dy="-27.3" font-size="27">5</tspan></text>
<text transform="translate(148.8,668.2) scale(0.96,1)" text-anchor="end" font-family='"Liberation Serif", serif' font-size="43.5">10<tspan dx="0" dy="-27.3" font-size="27">0</tspan></text>
<text transform="translate(148.8,515.95) scale(0.96,1)" text-anchor="end" font-family='"Liberation Serif", serif' font-size="43.5">10<tspan dx="0" dy="-27.3" font-size="27">1</tspan></text>
<text transform="translate(148.8,363.7) scale(0.96,1)" text-anchor="end" font-family='"Liberation Serif", serif' font-size="43.5">10<tspan dx="0" dy="-27.3" font-size="27">2</tspan></text>
<text transform="translate(148.8,211.45) scale(0.96,1)" text-anchor="end" font-family='"Liberation Serif", serif' font-size="43.5">10<tspan dx="0" dy="-27.3" font-size="27">3</tspan></text>
<text transform="translate(148.8,59.2) scale(0.96,1)" text-anchor="end" font-family='"Liberation Serif", serif' font-size="43.5">10<tspan dx="0" dy="-27.3" font-size="27">4</tspan></text>
<text x="446.5" y="754.9" font-family='"Liberation Serif", serif' font-size="40" textLength="281.9" lengthAdjust="spacingAndGlyphs">Frequency (Hz)</text>
<text transform="translate(61,351.5) rotate(-90) skewX(-12) scale(1.08,1)" font-family='"Liberation Serif", serif' font-size="50" font-style="italic">ε</text>
<text transform="translate(85.8,328.5) rotate(-90)" font-family='"Liberation Sans", sans-serif' font-size="52">r</text>
<text transform="translate(63.9,312.4) rotate(-90)" font-family='"Liberation Sans", sans-serif' font-size="67">'</text>
<text transform="translate(546.14,877.5) scale(0.844,1)" font-family='"Liberation Serif", serif' font-size="61">(</text>
<text transform="translate(564.6,877.5) scale(0.904,1)" font-family='"Liberation Serif", serif' font-size="62.5" font-weight="bold">a</text>
<text transform="translate(594.4,877.5) scale(0.876,1)" font-family='"Liberation Serif", serif' font-size="61">)</text>
</g>
<g>
<path d="M1458.1 646.2v-8M1458.1 55v8M1463.5 646.2v-13.6M1463.5 55v13.6M1499.04 646.2v-8M1499.04 55v8M1519.82 646.2v-8M1519.82 55v8M1534.57 646.2v-8M1534.57 55v8M1546.01 646.2v-8M1546.01 55v8M1555.36 646.2v-8M1555.36 55v8M1563.26 646.2v-8M1563.26 55v8M1570.11 646.2v-8M1570.11 55v8M1576.15 646.2v-8M1576.15 55v8M1581.55 646.2v-13.6M1581.55 55v13.6M1617.09 646.2v-8M1617.09 55v8M1637.87 646.2v-8M1637.87 55v8M1652.62 646.2v-8M1652.62 55v8M1664.06 646.2v-8M1664.06 55v8M1673.41 646.2v-8M1673.41 55v8M1681.31 646.2v-8M1681.31 55v8M1688.16 646.2v-8M1688.16 55v8M1694.2 646.2v-8M1694.2 55v8M1699.6 646.2v-13.6M1699.6 55v13.6M1735.14 646.2v-8M1735.14 55v8M1755.92 646.2v-8M1755.92 55v8M1770.67 646.2v-8M1770.67 55v8M1782.11 646.2v-8M1782.11 55v8M1791.46 646.2v-8M1791.46 55v8M1799.36 646.2v-8M1799.36 55v8M1806.21 646.2v-8M1806.21 55v8M1812.25 646.2v-8M1812.25 55v8M1817.65 646.2v-13.6M1817.65 55v13.6M1853.19 646.2v-8M1853.19 55v8M1873.97 646.2v-8M1873.97 55v8M1888.72 646.2v-8M1888.72 55v8M1900.16 646.2v-8M1900.16 55v8M1909.51 646.2v-8M1909.51 55v8M1917.41 646.2v-8M1917.41 55v8M1924.26 646.2v-8M1924.26 55v8M1930.3 646.2v-8M1930.3 55v8M1935.7 646.2v-13.6M1935.7 55v13.6M1971.24 646.2v-8M1971.24 55v8M1992.02 646.2v-8M1992.02 55v8M2006.77 646.2v-8M2006.77 55v8M2018.21 646.2v-8M2018.21 55v8M2027.56 646.2v-8M2027.56 55v8M2035.46 646.2v-8M2035.46 55v8M2042.31 646.2v-8M2042.31 55v8M2048.35 646.2v-8M2048.35 55v8M2053.75 646.2v-13.6M2053.75 55v13.6M2089.29 646.2v-8M2089.29 55v8M2110.07 646.2v-8M2110.07 55v8M2124.82 646.2v-8M2124.82 55v8M2136.26 646.2v-8M2136.26 55v8M2145.61 646.2v-8M2145.61 55v8M2153.51 646.2v-8M2153.51 55v8M2160.36 646.2v-8M2160.36 55v8M2166.4 646.2v-8M2166.4 55v8M2171.8 646.2v-13.6M2171.8 55v13.6M2207.34 646.2v-8M2207.34 55v8M2228.12 646.2v-8M2228.12 55v8M2242.87 646.2v-8M2242.87 55v8M2254.31 646.2v-8M2254.31 55v8M2263.66 646.2v-8M2263.66 55v8M2271.56 646.2v-8M2271.56 55v8M2278.41 646.2v-8M2278.41 55v8M2284.45 646.2v-8M2284.45 55v8M2289.85 646.2v-13.6M2289.85 55v13.6M1451.4 620.78h8M2306.5 620.78h-8M1451.4 605.9h8M2306.5 605.9h-8M1451.4 595.35h8M2306.5 595.35h-8M1451.4 587.16h8M2306.5 587.16h-8M1451.4 580.48h8M2306.5 580.48h-8M1451.4 574.82h8M2306.5 574.82h-8M1451.4 569.93h8M2306.5 569.93h-8M1451.4 565.6h8M2306.5 565.6h-8M1451.4 561.74h13.6M2306.5 561.74h-13.6M1451.4 536.32h8M2306.5 536.32h-8M1451.4 521.44h8M2306.5 521.44h-8M1451.4 510.89h8M2306.5 510.89h-8M1451.4 502.7h8M2306.5 502.7h-8M1451.4 496.02h8M2306.5 496.02h-8M1451.4 490.36h8M2306.5 490.36h-8M1451.4 485.47h8M2306.5 485.47h-8M1451.4 481.14h8M2306.5 481.14h-8M1451.4 477.28h13.6M2306.5 477.28h-13.6M1451.4 451.86h8M2306.5 451.86h-8M1451.4 436.98h8M2306.5 436.98h-8M1451.4 426.43h8M2306.5 426.43h-8M1451.4 418.24h8M2306.5 418.24h-8M1451.4 411.56h8M2306.5 411.56h-8M1451.4 405.9h8M2306.5 405.9h-8M1451.4 401.01h8M2306.5 401.01h-8M1451.4 396.68h8M2306.5 396.68h-8M1451.4 392.82h13.6M2306.5 392.82h-13.6M1451.4 367.4h8M2306.5 367.4h-8M1451.4 352.52h8M2306.5 352.52h-8M1451.4 341.97h8M2306.5 341.97h-8M1451.4 333.78h8M2306.5 333.78h-8M1451.4 327.1h8M2306.5 327.1h-8M1451.4 321.44h8M2306.5 321.44h-8M1451.4 316.55h8M2306.5 316.55h-8M1451.4 312.22h8M2306.5 312.22h-8M1451.4 308.36h13.6M2306.5 308.36h-13.6M1451.4 282.94h8M2306.5 282.94h-8M1451.4 268.06h8M2306.5 268.06h-8M1451.4 257.51h8M2306.5 257.51h-8M1451.4 249.32h8M2306.5 249.32h-8M1451.4 242.64h8M2306.5 242.64h-8M1451.4 236.98h8M2306.5 236.98h-8M1451.4 232.09h8M2306.5 232.09h-8M1451.4 227.76h8M2306.5 227.76h-8M1451.4 223.9h13.6M2306.5 223.9h-13.6M1451.4 198.48h8M2306.5 198.48h-8M1451.4 183.6h8M2306.5 183.6h-8M1451.4 173.05h8M2306.5 173.05h-8M1451.4 164.86h8M2306.5 164.86h-8M1451.4 158.18h8M2306.5 158.18h-8M1451.4 152.52h8M2306.5 152.52h-8M1451.4 147.63h8M2306.5 147.63h-8M1451.4 143.3h8M2306.5 143.3h-8M1451.4 139.44h13.6M2306.5 139.44h-13.6M1451.4 114.02h8M2306.5 114.02h-8M1451.4 99.14h8M2306.5 99.14h-8M1451.4 88.59h8M2306.5 88.59h-8M1451.4 80.4h8M2306.5 80.4h-8M1451.4 73.72h8M2306.5 73.72h-8M1451.4 68.06h8M2306.5 68.06h-8M1451.4 63.17h8M2306.5 63.17h-8M1451.4 58.84h8M2306.5 58.84h-8" stroke="#000" stroke-width="2.3" fill="none"/>
<g><rect x="1457.2" y="539.38" width="12.6" height="13.23" fill="#000000"/><rect x="1480.82" y="548.59" width="12.6" height="13.23" fill="#000000"/><rect x="1504.44" y="557.88" width="12.6" height="13.23" fill="#000000"/><rect x="1528.06" y="563.09" width="12.6" height="13.23" fill="#000000"/><rect x="1551.68" y="569.88" width="12.6" height="13.23" fill="#000000"/><rect x="1575.3" y="576.78" width="12.6" height="13.23" fill="#000000"/><rect x="1598.92" y="576.38" width="12.6" height="13.23" fill="#000000"/><rect x="1622.54" y="567.09" width="12.6" height="13.23" fill="#000000"/><rect x="1646.16" y="571.59" width="12.6" height="13.23" fill="#000000"/><rect x="1673.18" y="564.49" width="12.6" height="13.23" fill="#000000"/><rect x="1693.4" y="558.88" width="12.6" height="13.23" fill="#000000"/><rect x="1717.02" y="547.18" width="12.6" height="13.23" fill="#000000"/><rect x="1740.64" y="538.88" width="12.6" height="13.23" fill="#000000"/><rect x="1765.96" y="534.88" width="12.6" height="13.23" fill="#000000"/><rect x="1787.88" y="536.49" width="12.6" height="13.23" fill="#000000"/><rect x="1811.5" y="542.88" width="12.6" height="13.23" fill="#000000"/><rect x="1835.12" y="553.28" width="12.6" height="13.23" fill="#000000"/><rect x="1858.74" y="562.99" width="12.6" height="13.23" fill="#000000"/><rect x="1883.46" y="573.88" width="12.6" height="13.23" fill="#000000"/><rect x="1905.98" y="581.78" width="12.6" height="13.23" fill="#000000"/><rect x="1929.6" y="591.09" width="12.6" height="13.23" fill="#000000"/><rect x="1953.22" y="594.09" width="12.6" height="13.23" fill="#000000"/><rect x="1978.44" y="598.38" width="12.6" height="13.23" fill="#000000"/><rect x="2000.46" y="591.38" width="12.6" height="13.23" fill="#000000"/><rect x="2024.08" y="583.59" width="12.6" height="13.23" fill="#000000"/><rect x="2047.7" y="583.38" width="12.6" height="13.23" fill="#000000"/><rect x="2071.32" y="579.38" width="12.6" height="13.23" fill="#000000"/><rect x="2094.94" y="577.38" width="12.6" height="13.23" fill="#000000"/><rect x="2118.56" y="575.38" width="12.6" height="13.23" fill="#000000"/><rect x="2142.18" y="582.38" width="12.6" height="13.23" fill="#000000"/><rect x="2165.8" y="583.38" width="12.6" height="13.23" fill="#000000"/><rect x="2189.42" y="581.38" width="12.6" height="13.23" fill="#000000"/><rect x="2213.04" y="575.38" width="12.6" height="13.23" fill="#000000"/><rect x="2236.66" y="577.38" width="12.6" height="13.23" fill="#000000"/><rect x="2260.28" y="579.38" width="12.6" height="13.23" fill="#000000"/><rect x="2283.9" y="580.18" width="12.6" height="13.23" fill="#000000"/></g>
<g><rect x="1457.95" y="539.74" width="11.1" height="11.73" fill="#fff" stroke="#ff0000" stroke-width="1.5"/><rect x="1481.57" y="548.03" width="11.1" height="11.73" fill="#fff" stroke="#ff0000" stroke-width="1.5"/><rect x="1505.19" y="556.74" width="11.1" height="11.73" fill="#fff" stroke="#ff0000" stroke-width="1.5"/><rect x="1528.81" y="561.74" width="11.1" height="11.73" fill="#fff" stroke="#ff0000" stroke-width="1.5"/><rect x="1552.43" y="567.93" width="11.1" height="11.73" fill="#fff" stroke="#ff0000" stroke-width="1.5"/><rect x="1576.05" y="575.13" width="11.1" height="11.73" fill="#fff" stroke="#ff0000" stroke-width="1.5"/><rect x="1599.67" y="577.34" width="11.1" height="11.73" fill="#fff" stroke="#ff0000" stroke-width="1.5"/><rect x="1623.29" y="579.84" width="11.1" height="11.73" fill="#fff" stroke="#ff0000" stroke-width="1.5"/><rect x="1646.91" y="578.93" width="11.1" height="11.73" fill="#fff" stroke="#ff0000" stroke-width="1.5"/><rect x="1673.93" y="575.63" width="11.1" height="11.73" fill="#fff" stroke="#ff0000" stroke-width="1.5"/><rect x="1694.15" y="569.53" width="11.1" height="11.73" fill="#fff" stroke="#ff0000" stroke-width="1.5"/><rect x="1717.77" y="560.34" width="11.1" height="11.73" fill="#fff" stroke="#ff0000" stroke-width="1.5"/><rect x="1741.39" y="554.63" width="11.1" height="11.73" fill="#fff" stroke="#ff0000" stroke-width="1.5"/><rect x="1766.71" y="547.34" width="11.1" height="11.73" fill="#fff" stroke="#ff0000" stroke-width="1.5"/><rect x="1788.63" y="540.93" width="11.1" height="11.73" fill="#fff" stroke="#ff0000" stroke-width="1.5"/><rect x="1812.25" y="542.43" width="11.1" height="11.73" fill="#fff" stroke="#ff0000" stroke-width="1.5"/><rect x="1835.87" y="548.74" width="11.1" height="11.73" fill="#fff" stroke="#ff0000" stroke-width="1.5"/><rect x="1859.49" y="555.84" width="11.1" height="11.73" fill="#fff" stroke="#ff0000" stroke-width="1.5"/><rect x="1884.21" y="565.53" width="11.1" height="11.73" fill="#fff" stroke="#ff0000" stroke-width="1.5"/><rect x="1906.73" y="576.03" width="11.1" height="11.73" fill="#fff" stroke="#ff0000" stroke-width="1.5"/><rect x="1930.35" y="584.34" width="11.1" height="11.73" fill="#fff" stroke="#ff0000" stroke-width="1.5"/><rect x="1953.97" y="594.13" width="11.1" height="11.73" fill="#fff" stroke="#ff0000" stroke-width="1.5"/><rect x="1979.19" y="599.34" width="11.1" height="11.73" fill="#fff" stroke="#ff0000" stroke-width="1.5"/><rect x="2001.21" y="594.13" width="11.1" height="11.73" fill="#fff" stroke="#ff0000" stroke-width="1.5"/><rect x="2024.83" y="592.63" width="11.1" height="11.73" fill="#fff" stroke="#ff0000" stroke-width="1.5"/><rect x="2048.45" y="588.84" width="11.1" height="11.73" fill="#fff" stroke="#ff0000" stroke-width="1.5"/><rect x="2072.07" y="584.13" width="11.1" height="11.73" fill="#fff" stroke="#ff0000" stroke-width="1.5"/><rect x="2095.69" y="579.13" width="11.1" height="11.73" fill="#fff" stroke="#ff0000" stroke-width="1.5"/><rect x="2119.31" y="583.13" width="11.1" height="11.73" fill="#fff" stroke="#ff0000" stroke-width="1.5"/><rect x="2142.93" y="597.63" width="11.1" height="11.73" fill="#fff" stroke="#ff0000" stroke-width="1.5"/><rect x="2166.55" y="589.84" width="11.1" height="11.73" fill="#fff" stroke="#ff0000" stroke-width="1.5"/><rect x="2190.17" y="586.53" width="11.1" height="11.73" fill="#fff" stroke="#ff0000" stroke-width="1.5"/><rect x="2213.79" y="584.13" width="11.1" height="11.73" fill="#fff" stroke="#ff0000" stroke-width="1.5"/><rect x="2237.41" y="584.13" width="11.1" height="11.73" fill="#fff" stroke="#ff0000" stroke-width="1.5"/><rect x="2261.03" y="583.13" width="11.1" height="11.73" fill="#fff" stroke="#ff0000" stroke-width="1.5"/><rect x="2284.65" y="579.13" width="11.1" height="11.73" fill="#fff" stroke="#ff0000" stroke-width="1.5"/></g>
<g><path d="M1463.5 520.7L1471.95 535.9L1455.05 535.9Z" fill="#800000"/><path d="M1487.12 527.6L1495.57 542.8L1478.67 542.8Z" fill="#800000"/><path d="M1510.74 535.9L1519.19 551.1L1502.29 551.1Z" fill="#800000"/><path d="M1534.36 542.6L1542.81 557.8L1525.91 557.8Z" fill="#800000"/><path d="M1557.98 549.1L1566.43 564.3L1549.53 564.3Z" fill="#800000"/><path d="M1581.6 556L1590.05 571.2L1573.15 571.2Z" fill="#800000"/><path d="M1605.22 563.7L1613.67 578.9L1596.77 578.9Z" fill="#800000"/><path d="M1628.84 566L1637.29 581.2L1620.39 581.2Z" fill="#800000"/><path d="M1652.46 567.2L1660.91 582.4L1644.01 582.4Z" fill="#800000"/><path d="M1679.48 567.9L1687.93 583.1L1671.03 583.1Z" fill="#800000"/><path d="M1699.7 564.9L1708.15 580.1L1691.25 580.1Z" fill="#800000"/><path d="M1723.32 560.8L1731.77 576L1714.87 576Z" fill="#800000"/><path d="M1746.94 553.9L1755.39 569.1L1738.49 569.1Z" fill="#800000"/><path d="M1772.26 546.9L1780.71 562.1L1763.81 562.1Z" fill="#800000"/><path d="M1794.18 539.2L1802.63 554.4L1785.73 554.4Z" fill="#800000"/><path d="M1817.8 535.4L1826.25 550.6L1809.35 550.6Z" fill="#800000"/><path d="M1841.42 535.4L1849.87 550.6L1832.97 550.6Z" fill="#800000"/><path d="M1865.04 540.9L1873.49 556.1L1856.59 556.1Z" fill="#800000"/><path d="M1889.76 549.1L1898.21 564.3L1881.31 564.3Z" fill="#800000"/><path d="M1912.28 558.1L1920.73 573.3L1903.83 573.3Z" fill="#800000"/><path d="M1935.9 569.4L1944.35 584.6L1927.45 584.6Z" fill="#800000"/><path d="M1959.52 576.9L1967.97 592.1L1951.07 592.1Z" fill="#800000"/><path d="M1984.74 587.9L1993.19 603.1L1976.29 603.1Z" fill="#800000"/><path d="M2006.76 583.7L2015.21 598.9L1998.31 598.9Z" fill="#800000"/><path d="M2030.38 585.2L2038.83 600.4L2021.93 600.4Z" fill="#800000"/><path d="M2054 581L2062.45 596.2L2045.55 596.2Z" fill="#800000"/><path d="M2077.62 577.7L2086.07 592.9L2069.17 592.9Z" fill="#800000"/><path d="M2101.24 575.4L2109.69 590.6L2092.79 590.6Z" fill="#800000"/><path d="M2124.86 584.2L2133.31 599.4L2116.41 599.4Z" fill="#800000"/><path d="M2148.48 597.6L2156.93 612.8L2140.03 612.8Z" fill="#800000"/><path d="M2172.1 596.4L2180.55 611.6L2163.65 611.6Z" fill="#800000"/><path d="M2195.72 592.6L2204.17 607.8L2187.27 607.8Z" fill="#800000"/><path d="M2219.34 587L2227.79 602.2L2210.89 602.2Z" fill="#800000"/><path d="M2242.96 582.4L2251.41 597.6L2234.51 597.6Z" fill="#800000"/><path d="M2266.58 572.6L2275.03 587.8L2258.13 587.8Z" fill="#800000"/><path d="M2290.2 573.7L2298.65 588.9L2281.75 588.9Z" fill="#800000"/></g>
<g><path d="M1463.5 514.6L1471.95 499.4L1455.05 499.4Z" fill="#ff0000"/><path d="M1487.12 522.6L1495.57 507.4L1478.67 507.4Z" fill="#ff0000"/><path d="M1510.74 529.4L1519.19 514.2L1502.29 514.2Z" fill="#ff0000"/><path d="M1534.36 537.2L1542.81 522L1525.91 522Z" fill="#ff0000"/><path d="M1557.98 545.2L1566.43 530L1549.53 530Z" fill="#ff0000"/><path d="M1581.6 552.3L1590.05 537.1L1573.15 537.1Z" fill="#ff0000"/><path d="M1605.22 557.9L1613.67 542.7L1596.77 542.7Z" fill="#ff0000"/><path d="M1628.84 563.3L1637.29 548.1L1620.39 548.1Z" fill="#ff0000"/><path d="M1652.46 567.3L1660.91 552.1L1644.01 552.1Z" fill="#ff0000"/><path d="M1679.48 568.8L1687.93 553.6L1671.03 553.6Z" fill="#ff0000"/><path d="M1699.7 570L1708.15 554.8L1691.25 554.8Z" fill="#ff0000"/><path d="M1723.32 567.6L1731.77 552.4L1714.87 552.4Z" fill="#ff0000"/><path d="M1746.94 564.6L1755.39 549.4L1738.49 549.4Z" fill="#ff0000"/><path d="M1772.26 559.8L1780.71 544.6L1763.81 544.6Z" fill="#ff0000"/><path d="M1794.18 554.3L1802.63 539.1L1785.73 539.1Z" fill="#ff0000"/><path d="M1817.8 549.7L1826.25 534.5L1809.35 534.5Z" fill="#ff0000"/><path d="M1841.42 547.1L1849.87 531.9L1832.97 531.9Z" fill="#ff0000"/><path d="M1865.04 550.1L1873.49 534.9L1856.59 534.9Z" fill="#ff0000"/><path d="M1889.76 555.5L1898.21 540.3L1881.31 540.3Z" fill="#ff0000"/><path d="M1912.28 563.6L1920.73 548.4L1903.83 548.4Z" fill="#ff0000"/><path d="M1935.9 574.5L1944.35 559.3L1927.45 559.3Z" fill="#ff0000"/><path d="M1959.52 582.8L1967.97 567.6L1951.07 567.6Z" fill="#ff0000"/><path d="M1984.74 593.3L1993.19 578.1L1976.29 578.1Z" fill="#ff0000"/><path d="M2006.76 592.1L2015.21 576.9L1998.31 576.9Z" fill="#ff0000"/><path d="M2030.38 593.2L2038.83 578L2021.93 578Z" fill="#ff0000"/><path d="M2054 594.4L2062.45 579.2L2045.55 579.2Z" fill="#ff0000"/><path d="M2077.62 591.8L2086.07 576.6L2069.17 576.6Z" fill="#ff0000"/><path d="M2101.24 588.1L2109.69 572.9L2092.79 572.9Z" fill="#ff0000"/><path d="M2124.86 587.8L2133.31 572.6L2116.41 572.6Z" fill="#ff0000"/><path d="M2148.48 602.2L2156.93 587L2140.03 587Z" fill="#ff0000"/><path d="M2172.1 611.1L2180.55 595.9L2163.65 595.9Z" fill="#ff0000"/><path d="M2195.72 604.4L2204.17 589.2L2187.27 589.2Z" fill="#ff0000"/><path d="M2219.34 597.8L2227.79 582.6L2210.89 582.6Z" fill="#ff0000"/><path d="M2242.96 593.9L2251.41 578.7L2234.51 578.7Z" fill="#ff0000"/><path d="M2266.58 584.4L2275.03 569.2L2258.13 569.2Z" fill="#ff0000"/><path d="M2290.2 582.2L2298.65 567L2281.75 567Z" fill="#ff0000"/></g>
<g><path d="M1473.6 447.6L1458.4 439.15L1458.4 456.05Z" fill="#ff8000"/><path d="M1497.22 469.3L1482.02 460.85L1482.02 477.75Z" fill="#ff8000"/><path d="M1520.84 472.3L1505.64 463.85L1505.64 480.75Z" fill="#ff8000"/><path d="M1544.46 479.7L1529.26 471.25L1529.26 488.15Z" fill="#ff8000"/><path d="M1568.08 485.1L1552.88 476.65L1552.88 493.55Z" fill="#ff8000"/><path d="M1591.7 493.1L1576.5 484.65L1576.5 501.55Z" fill="#ff8000"/><path d="M1615.32 501L1600.12 492.55L1600.12 509.45Z" fill="#ff8000"/><path d="M1638.94 509.4L1623.74 500.95L1623.74 517.85Z" fill="#ff8000"/><path d="M1662.56 516.3L1647.36 507.85L1647.36 524.75Z" fill="#ff8000"/><path d="M1689.58 521.4L1674.38 512.95L1674.38 529.85Z" fill="#ff8000"/><path d="M1709.8 525L1694.6 516.55L1694.6 533.45Z" fill="#ff8000"/><path d="M1733.42 527.4L1718.22 518.95L1718.22 535.85Z" fill="#ff8000"/><path d="M1757.04 528.7L1741.84 520.25L1741.84 537.15Z" fill="#ff8000"/><path d="M1782.36 527.9L1767.16 519.45L1767.16 536.35Z" fill="#ff8000"/><path d="M1804.28 526.1L1789.08 517.65L1789.08 534.55Z" fill="#ff8000"/><path d="M1827.9 524L1812.7 515.55L1812.7 532.45Z" fill="#ff8000"/><path d="M1851.52 523.4L1836.32 514.95L1836.32 531.85Z" fill="#ff8000"/><path d="M1875.14 524.1L1859.94 515.65L1859.94 532.55Z" fill="#ff8000"/><path d="M1899.86 527.1L1884.66 518.65L1884.66 535.55Z" fill="#ff8000"/><path d="M1922.38 533.2L1907.18 524.75L1907.18 541.65Z" fill="#ff8000"/><path d="M1946 539.9L1930.8 531.45L1930.8 548.35Z" fill="#ff8000"/><path d="M1969.62 547.9L1954.42 539.45L1954.42 556.35Z" fill="#ff8000"/><path d="M1994.84 554.9L1979.64 546.45L1979.64 563.35Z" fill="#ff8000"/><path d="M2016.86 558.7L2001.66 550.25L2001.66 567.15Z" fill="#ff8000"/><path d="M2040.48 562.4L2025.28 553.95L2025.28 570.85Z" fill="#ff8000"/><path d="M2064.1 563.9L2048.9 555.45L2048.9 572.35Z" fill="#ff8000"/><path d="M2087.72 563.9L2072.52 555.45L2072.52 572.35Z" fill="#ff8000"/><path d="M2111.34 562.4L2096.14 553.95L2096.14 570.85Z" fill="#ff8000"/><path d="M2134.96 569.6L2119.76 561.15L2119.76 578.05Z" fill="#ff8000"/><path d="M2158.58 575.7L2143.38 567.25L2143.38 584.15Z" fill="#ff8000"/><path d="M2182.2 580.2L2167 571.75L2167 588.65Z" fill="#ff8000"/><path d="M2205.82 584.6L2190.62 576.15L2190.62 593.05Z" fill="#ff8000"/><path d="M2229.44 582.4L2214.24 573.95L2214.24 590.85Z" fill="#ff8000"/><path d="M2253.06 579.6L2237.86 571.15L2237.86 588.05Z" fill="#ff8000"/><path d="M2276.68 579.6L2261.48 571.15L2261.48 588.05Z" fill="#ff8000"/><path d="M2300.3 571.2L2285.1 562.75L2285.1 579.65Z" fill="#ff8000"/></g>
<g><path d="M1453.4 317.9L1468.6 309.45L1468.6 326.35Z" fill="#008080"/><path d="M1477.02 332.7L1492.22 324.25L1492.22 341.15Z" fill="#008080"/><path d="M1500.64 349.7L1515.84 341.25L1515.84 358.15Z" fill="#008080"/><path d="M1524.26 366L1539.46 357.55L1539.46 374.45Z" fill="#008080"/><path d="M1547.88 382.3L1563.08 373.85L1563.08 390.75Z" fill="#008080"/><path d="M1571.5 397.9L1586.7 389.45L1586.7 406.35Z" fill="#008080"/><path d="M1595.12 413.3L1610.32 404.85L1610.32 421.75Z" fill="#008080"/><path d="M1618.74 427.8L1633.94 419.35L1633.94 436.25Z" fill="#008080"/><path d="M1642.36 443.3L1657.56 434.85L1657.56 451.75Z" fill="#008080"/><path d="M1669.38 456.9L1684.58 448.45L1684.58 465.35Z" fill="#008080"/><path d="M1689.6 471.7L1704.8 463.25L1704.8 480.15Z" fill="#008080"/><path d="M1713.22 485.3L1728.42 476.85L1728.42 493.75Z" fill="#008080"/><path d="M1736.84 497.3L1752.04 488.85L1752.04 505.75Z" fill="#008080"/><path d="M1762.16 505.5L1777.36 497.05L1777.36 513.95Z" fill="#008080"/><path d="M1784.08 511.2L1799.28 502.75L1799.28 519.65Z" fill="#008080"/><path d="M1807.7 513.8L1822.9 505.35L1822.9 522.25Z" fill="#008080"/><path d="M1831.32 513.7L1846.52 505.25L1846.52 522.15Z" fill="#008080"/><path d="M1854.94 513.3L1870.14 504.85L1870.14 521.75Z" fill="#008080"/><path d="M1879.66 516.6L1894.86 508.15L1894.86 525.05Z" fill="#008080"/><path d="M1902.18 521.1L1917.38 512.65L1917.38 529.55Z" fill="#008080"/><path d="M1925.8 526.4L1941 517.95L1941 534.85Z" fill="#008080"/><path d="M1949.42 532.4L1964.62 523.95L1964.62 540.85Z" fill="#008080"/><path d="M1974.64 537.7L1989.84 529.25L1989.84 546.15Z" fill="#008080"/><path d="M1996.66 541.4L2011.86 532.95L2011.86 549.85Z" fill="#008080"/><path d="M2020.28 542.9L2035.48 534.45L2035.48 551.35Z" fill="#008080"/><path d="M2043.9 544.4L2059.1 535.95L2059.1 552.85Z" fill="#008080"/><path d="M2067.52 545.2L2082.72 536.75L2082.72 553.65Z" fill="#008080"/><path d="M2091.14 545.2L2106.34 536.75L2106.34 553.65Z" fill="#008080"/><path d="M2114.76 545.1L2129.96 536.65L2129.96 553.55Z" fill="#008080"/><path d="M2138.38 555.7L2153.58 547.25L2153.58 564.15Z" fill="#008080"/><path d="M2162 557.9L2177.2 549.45L2177.2 566.35Z" fill="#008080"/><path d="M2185.62 560.7L2200.82 552.25L2200.82 569.15Z" fill="#008080"/><path d="M2209.24 562.3L2224.44 553.85L2224.44 570.75Z" fill="#008080"/><path d="M2232.86 562.3L2248.06 553.85L2248.06 570.75Z" fill="#008080"/><path d="M2256.48 569L2271.68 560.55L2271.68 577.45Z" fill="#008080"/><path d="M2280.1 565.7L2295.3 557.25L2295.3 574.15Z" fill="#008080"/></g>
<g><circle cx="1463.5" cy="220.5" r="6.9" fill="#008000"/><circle cx="1487.12" cy="246.1" r="6.9" fill="#008000"/><circle cx="1510.74" cy="262.2" r="6.9" fill="#008000"/><circle cx="1534.36" cy="278.6" r="6.9" fill="#008000"/><circle cx="1557.98" cy="295.3" r="6.9" fill="#008000"/><circle cx="1581.6" cy="312" r="6.9" fill="#008000"/><circle cx="1605.22" cy="328.6" r="6.9" fill="#008000"/><circle cx="1628.84" cy="345.5" r="6.9" fill="#008000"/><circle cx="1652.46" cy="362" r="6.9" fill="#008000"/><circle cx="1679.48" cy="379.3" r="6.9" fill="#008000"/><circle cx="1699.7" cy="395.7" r="6.9" fill="#008000"/><circle cx="1723.32" cy="412" r="6.9" fill="#008000"/><circle cx="1746.94" cy="428.5" r="6.9" fill="#008000"/><circle cx="1772.26" cy="443.9" r="6.9" fill="#008000"/><circle cx="1794.18" cy="459.1" r="6.9" fill="#008000"/><circle cx="1817.8" cy="473.2" r="6.9" fill="#008000"/><circle cx="1841.42" cy="485.3" r="6.9" fill="#008000"/><circle cx="1865.04" cy="495.9" r="6.9" fill="#008000"/><circle cx="1889.76" cy="505.4" r="6.9" fill="#008000"/><circle cx="1912.28" cy="514.7" r="6.9" fill="#008000"/><circle cx="1935.9" cy="524.9" r="6.9" fill="#008000"/><circle cx="1959.52" cy="534.7" r="6.9" fill="#008000"/><circle cx="1984.74" cy="545.2" r="6.9" fill="#008000"/><circle cx="2006.76" cy="549.7" r="6.9" fill="#008000"/><circle cx="2030.38" cy="552.7" r="6.9" fill="#008000"/><circle cx="2054" cy="551.2" r="6.9" fill="#008000"/><circle cx="2077.62" cy="552.7" r="6.9" fill="#008000"/><circle cx="2101.24" cy="549.5" r="6.9" fill="#008000"/><circle cx="2124.86" cy="552.3" r="6.9" fill="#008000"/><circle cx="2148.48" cy="555.1" r="6.9" fill="#008000"/><circle cx="2172.1" cy="557.3" r="6.9" fill="#008000"/><circle cx="2195.72" cy="555.1" r="6.9" fill="#008000"/><circle cx="2219.34" cy="554" r="6.9" fill="#008000"/><circle cx="2242.96" cy="554" r="6.9" fill="#008000"/><circle cx="2266.58" cy="552.9" r="6.9" fill="#008000"/><circle cx="2290.2" cy="552.3" r="6.9" fill="#008000"/></g>
<g><circle cx="1463.5" cy="168.9" r="6.2" fill="#fff" stroke="#ff1493" stroke-width="1.4"/><circle cx="1487.12" cy="186.2" r="6.2" fill="#fff" stroke="#ff1493" stroke-width="1.4"/><circle cx="1510.74" cy="203.2" r="6.2" fill="#fff" stroke="#ff1493" stroke-width="1.4"/><circle cx="1534.36" cy="220.1" r="6.2" fill="#fff" stroke="#ff1493" stroke-width="1.4"/><circle cx="1557.98" cy="237.6" r="6.2" fill="#fff" stroke="#ff1493" stroke-width="1.4"/><circle cx="1581.6" cy="254.2" r="6.2" fill="#fff" stroke="#ff1493" stroke-width="1.4"/><circle cx="1605.22" cy="271.1" r="6.2" fill="#fff" stroke="#ff1493" stroke-width="1.4"/><circle cx="1628.84" cy="287.6" r="6.2" fill="#fff" stroke="#ff1493" stroke-width="1.4"/><circle cx="1652.46" cy="304.3" r="6.2" fill="#fff" stroke="#ff1493" stroke-width="1.4"/><circle cx="1679.48" cy="321" r="6.2" fill="#fff" stroke="#ff1493" stroke-width="1.4"/><circle cx="1699.7" cy="337.4" r="6.2" fill="#fff" stroke="#ff1493" stroke-width="1.4"/><circle cx="1723.32" cy="353.8" r="6.2" fill="#fff" stroke="#ff1493" stroke-width="1.4"/><circle cx="1746.94" cy="370.2" r="6.2" fill="#fff" stroke="#ff1493" stroke-width="1.4"/><circle cx="1772.26" cy="386.8" r="6.2" fill="#fff" stroke="#ff1493" stroke-width="1.4"/><circle cx="1794.18" cy="403.1" r="6.2" fill="#fff" stroke="#ff1493" stroke-width="1.4"/><circle cx="1817.8" cy="419.2" r="6.2" fill="#fff" stroke="#ff1493" stroke-width="1.4"/><circle cx="1841.42" cy="434.9" r="6.2" fill="#fff" stroke="#ff1493" stroke-width="1.4"/><circle cx="1865.04" cy="450.1" r="6.2" fill="#fff" stroke="#ff1493" stroke-width="1.4"/><circle cx="1889.76" cy="465.1" r="6.2" fill="#fff" stroke="#ff1493" stroke-width="1.4"/><circle cx="1912.28" cy="479.8" r="6.2" fill="#fff" stroke="#ff1493" stroke-width="1.4"/><circle cx="1935.9" cy="494.9" r="6.2" fill="#fff" stroke="#ff1493" stroke-width="1.4"/><circle cx="1959.52" cy="509.9" r="6.2" fill="#fff" stroke="#ff1493" stroke-width="1.4"/><circle cx="1984.74" cy="524.9" r="6.2" fill="#fff" stroke="#ff1493" stroke-width="1.4"/><circle cx="2006.76" cy="537.2" r="6.2" fill="#fff" stroke="#ff1493" stroke-width="1.4"/><circle cx="2030.38" cy="550.4" r="6.2" fill="#fff" stroke="#ff1493" stroke-width="1.4"/><circle cx="2054" cy="558.7" r="6.2" fill="#fff" stroke="#ff1493" stroke-width="1.4"/><circle cx="2077.62" cy="563.9" r="6.2" fill="#fff" stroke="#ff1493" stroke-width="1.4"/><circle cx="2101.24" cy="565.8" r="6.2" fill="#fff" stroke="#ff1493" stroke-width="1.4"/><circle cx="2124.86" cy="569" r="6.2" fill="#fff" stroke="#ff1493" stroke-width="1.4"/><circle cx="2148.48" cy="579" r="6.2" fill="#fff" stroke="#ff1493" stroke-width="1.4"/><circle cx="2172.1" cy="583.5" r="6.2" fill="#fff" stroke="#ff1493" stroke-width="1.4"/><circle cx="2195.72" cy="576.3" r="6.2" fill="#fff" stroke="#ff1493" stroke-width="1.4"/><circle cx="2219.34" cy="570.7" r="6.2" fill="#fff" stroke="#ff1493" stroke-width="1.4"/><circle cx="2242.96" cy="565.1" r="6.2" fill="#fff" stroke="#ff1493" stroke-width="1.4"/><circle cx="2266.58" cy="561.8" r="6.2" fill="#fff" stroke="#ff1493" stroke-width="1.4"/><circle cx="2290.2" cy="559" r="6.2" fill="#fff" stroke="#ff1493" stroke-width="1.4"/></g>
<g><path d="M1463.5 121.3L1471.2 129L1463.5 136.7L1455.8 129Z" fill="#fff" stroke="#8b1a1a" stroke-width="1.2"/><path d="M1487.12 136.7L1494.82 144.4L1487.12 152.1L1479.42 144.4Z" fill="#fff" stroke="#8b1a1a" stroke-width="1.2"/><path d="M1510.74 153.4L1518.44 161.1L1510.74 168.8L1503.04 161.1Z" fill="#fff" stroke="#8b1a1a" stroke-width="1.2"/><path d="M1534.36 170.7L1542.06 178.4L1534.36 186.1L1526.66 178.4Z" fill="#fff" stroke="#8b1a1a" stroke-width="1.2"/><path d="M1557.98 187.7L1565.68 195.4L1557.98 203.1L1550.28 195.4Z" fill="#fff" stroke="#8b1a1a" stroke-width="1.2"/><path d="M1581.6 204.8L1589.3 212.5L1581.6 220.2L1573.9 212.5Z" fill="#fff" stroke="#8b1a1a" stroke-width="1.2"/><path d="M1605.22 221.5L1612.92 229.2L1605.22 236.9L1597.52 229.2Z" fill="#fff" stroke="#8b1a1a" stroke-width="1.2"/><path d="M1628.84 238.4L1636.54 246.1L1628.84 253.8L1621.14 246.1Z" fill="#fff" stroke="#8b1a1a" stroke-width="1.2"/><path d="M1652.46 255.1L1660.16 262.8L1652.46 270.5L1644.76 262.8Z" fill="#fff" stroke="#8b1a1a" stroke-width="1.2"/><path d="M1679.48 271.6L1687.18 279.3L1679.48 287L1671.78 279.3Z" fill="#fff" stroke="#8b1a1a" stroke-width="1.2"/><path d="M1699.7 288.8L1707.4 296.5L1699.7 304.2L1692 296.5Z" fill="#fff" stroke="#8b1a1a" stroke-width="1.2"/><path d="M1723.32 304.6L1731.02 312.3L1723.32 320L1715.62 312.3Z" fill="#fff" stroke="#8b1a1a" stroke-width="1.2"/><path d="M1746.94 321.3L1754.64 329L1746.94 336.7L1739.24 329Z" fill="#fff" stroke="#8b1a1a" stroke-width="1.2"/><path d="M1772.26 338L1779.96 345.7L1772.26 353.4L1764.56 345.7Z" fill="#fff" stroke="#8b1a1a" stroke-width="1.2"/><path d="M1794.18 354.2L1801.88 361.9L1794.18 369.6L1786.48 361.9Z" fill="#fff" stroke="#8b1a1a" stroke-width="1.2"/><path d="M1817.8 370.9L1825.5 378.6L1817.8 386.3L1810.1 378.6Z" fill="#fff" stroke="#8b1a1a" stroke-width="1.2"/><path d="M1841.42 387.3L1849.12 395L1841.42 402.7L1833.72 395Z" fill="#fff" stroke="#8b1a1a" stroke-width="1.2"/><path d="M1865.04 402.3L1872.74 410L1865.04 417.7L1857.34 410Z" fill="#fff" stroke="#8b1a1a" stroke-width="1.2"/><path d="M1889.76 418.1L1897.46 425.8L1889.76 433.5L1882.06 425.8Z" fill="#fff" stroke="#8b1a1a" stroke-width="1.2"/><path d="M1912.28 434.2L1919.98 441.9L1912.28 449.6L1904.58 441.9Z" fill="#fff" stroke="#8b1a1a" stroke-width="1.2"/><path d="M1935.9 450.7L1943.6 458.4L1935.9 466.1L1928.2 458.4Z" fill="#fff" stroke="#8b1a1a" stroke-width="1.2"/><path d="M1959.52 466.1L1967.22 473.8L1959.52 481.5L1951.82 473.8Z" fill="#fff" stroke="#8b1a1a" stroke-width="1.2"/><path d="M1984.74 481.9L1992.44 489.6L1984.74 497.3L1977.04 489.6Z" fill="#fff" stroke="#8b1a1a" stroke-width="1.2"/><path d="M2006.76 497.2L2014.46 504.9L2006.76 512.6L1999.06 504.9Z" fill="#fff" stroke="#8b1a1a" stroke-width="1.2"/><path d="M2030.38 513L2038.08 520.7L2030.38 528.4L2022.68 520.7Z" fill="#fff" stroke="#8b1a1a" stroke-width="1.2"/><path d="M2054 527.7L2061.7 535.4L2054 543.1L2046.3 535.4Z" fill="#fff" stroke="#8b1a1a" stroke-width="1.2"/><path d="M2077.62 539L2085.32 546.7L2077.62 554.4L2069.92 546.7Z" fill="#fff" stroke="#8b1a1a" stroke-width="1.2"/><path d="M2101.24 550.6L2108.94 558.3L2101.24 566L2093.54 558.3Z" fill="#fff" stroke="#8b1a1a" stroke-width="1.2"/><path d="M2124.86 565.6L2132.56 573.3L2124.86 581L2117.16 573.3Z" fill="#fff" stroke="#8b1a1a" stroke-width="1.2"/><path d="M2148.48 589.1L2156.18 596.8L2148.48 604.5L2140.78 596.8Z" fill="#fff" stroke="#8b1a1a" stroke-width="1.2"/><path d="M2172.1 602L2179.8 609.7L2172.1 617.4L2164.4 609.7Z" fill="#fff" stroke="#8b1a1a" stroke-width="1.2"/><path d="M2195.72 595.3L2203.42 603L2195.72 610.7L2188.02 603Z" fill="#fff" stroke="#8b1a1a" stroke-width="1.2"/><path d="M2219.34 590.8L2227.04 598.5L2219.34 606.2L2211.64 598.5Z" fill="#fff" stroke="#8b1a1a" stroke-width="1.2"/><path d="M2242.96 586.4L2250.66 594.1L2242.96 601.8L2235.26 594.1Z" fill="#fff" stroke="#8b1a1a" stroke-width="1.2"/><path d="M2266.58 586.9L2274.28 594.6L2266.58 602.3L2258.88 594.6Z" fill="#fff" stroke="#8b1a1a" stroke-width="1.2"/><path d="M2290.2 569.7L2297.9 577.4L2290.2 585.1L2282.5 577.4Z" fill="#fff" stroke="#8b1a1a" stroke-width="1.2"/></g>
<g><path d="M1463.5 100.3L1471.8 108.6L1463.5 116.9L1455.2 108.6Z" fill="#0000ff"/><path d="M1487.12 117.6L1495.42 125.9L1487.12 134.2L1478.82 125.9Z" fill="#0000ff"/><path d="M1510.74 134.8L1519.04 143.1L1510.74 151.4L1502.44 143.1Z" fill="#0000ff"/><path d="M1534.36 152.4L1542.66 160.7L1534.36 169L1526.06 160.7Z" fill="#0000ff"/><path d="M1557.98 169.5L1566.28 177.8L1557.98 186.1L1549.68 177.8Z" fill="#0000ff"/><path d="M1581.6 186.8L1589.9 195.1L1581.6 203.4L1573.3 195.1Z" fill="#0000ff"/><path d="M1605.22 203.5L1613.52 211.8L1605.22 220.1L1596.92 211.8Z" fill="#0000ff"/><path d="M1628.84 220.5L1637.14 228.8L1628.84 237.1L1620.54 228.8Z" fill="#0000ff"/><path d="M1652.46 237.2L1660.76 245.5L1652.46 253.8L1644.16 245.5Z" fill="#0000ff"/><path d="M1679.48 254.3L1687.78 262.6L1679.48 270.9L1671.18 262.6Z" fill="#0000ff"/><path d="M1699.7 271L1708 279.3L1699.7 287.6L1691.4 279.3Z" fill="#0000ff"/><path d="M1723.32 288.2L1731.62 296.5L1723.32 304.8L1715.02 296.5Z" fill="#0000ff"/><path d="M1746.94 304L1755.24 312.3L1746.94 320.6L1738.64 312.3Z" fill="#0000ff"/><path d="M1772.26 321.1L1780.56 329.4L1772.26 337.7L1763.96 329.4Z" fill="#0000ff"/><path d="M1794.18 337.4L1802.48 345.7L1794.18 354L1785.88 345.7Z" fill="#0000ff"/><path d="M1817.8 353.2L1826.1 361.5L1817.8 369.8L1809.5 361.5Z" fill="#0000ff"/><path d="M1841.42 368.8L1849.72 377.1L1841.42 385.4L1833.12 377.1Z" fill="#0000ff"/><path d="M1865.04 384L1873.34 392.3L1865.04 400.6L1856.74 392.3Z" fill="#0000ff"/><path d="M1889.76 399.9L1898.06 408.2L1889.76 416.5L1881.46 408.2Z" fill="#0000ff"/><path d="M1912.28 415.2L1920.58 423.5L1912.28 431.8L1903.98 423.5Z" fill="#0000ff"/><path d="M1935.9 430.7L1944.2 439L1935.9 447.3L1927.6 439Z" fill="#0000ff"/><path d="M1959.52 446.3L1967.82 454.6L1959.52 462.9L1951.22 454.6Z" fill="#0000ff"/><path d="M1984.74 463.3L1993.04 471.6L1984.74 479.9L1976.44 471.6Z" fill="#0000ff"/><path d="M2006.76 478.3L2015.06 486.6L2006.76 494.9L1998.46 486.6Z" fill="#0000ff"/><path d="M2030.38 494.5L2038.68 502.8L2030.38 511.1L2022.08 502.8Z" fill="#0000ff"/><path d="M2054 510.1L2062.3 518.4L2054 526.7L2045.7 518.4Z" fill="#0000ff"/><path d="M2077.62 524.6L2085.92 532.9L2077.62 541.2L2069.32 532.9Z" fill="#0000ff"/><path d="M2101.24 537.5L2109.54 545.8L2101.24 554.1L2092.94 545.8Z" fill="#0000ff"/><path d="M2124.86 555.7L2133.16 564L2124.86 572.3L2116.56 564Z" fill="#0000ff"/><path d="M2148.48 574.1L2156.78 582.4L2148.48 590.7L2140.18 582.4Z" fill="#0000ff"/><path d="M2172.1 591.3L2180.4 599.6L2172.1 607.9L2163.8 599.6Z" fill="#0000ff"/><path d="M2195.72 602.8L2204.02 611.1L2195.72 619.4L2187.42 611.1Z" fill="#0000ff"/><path d="M2219.34 605L2227.64 613.3L2219.34 621.6L2211.04 613.3Z" fill="#0000ff"/><path d="M2242.96 602.5L2251.26 610.8L2242.96 619.1L2234.66 610.8Z" fill="#0000ff"/><path d="M2266.58 598.8L2274.88 607.1L2266.58 615.4L2258.28 607.1Z" fill="#0000ff"/><path d="M2290.2 586.5L2298.5 594.8L2290.2 603.1L2281.9 594.8Z" fill="#0000ff"/></g>
<line x1="1451.4" y1="116.3" x2="2209.8" y2="646.2" stroke="#ff00ff" stroke-width="4.2"/>
<rect x="1725.3" y="55" width="293.9" height="47" fill="#fff" stroke="#000" stroke-width="1.4"/>
<text x="1730.8" y="91.8" font-family='"Liberation Serif", serif' font-size="33.5" textLength="281" lengthAdjust="spacingAndGlyphs">Epoxy resin-Trising</text>
<rect x="2119.5" y="55" width="187" height="456.5" fill="#fff" stroke="#000" stroke-width="1.5"/>
<rect x="2155.3" y="70.19" width="12.6" height="13.23" fill="#000000"/>
<text transform="translate(2211.1,88.6) scale(0.95,1)" font-family='"Liberation Serif", serif' font-size="32.5">20</text>
<text x="2242.67" y="87.7" font-family='"Liberation Serif", "Noto Serif CJK SC", serif' font-size="28">℃</text>
<rect x="2156.05" y="117.01" width="11.1" height="11.73" fill="#fff" stroke="#ff0000" stroke-width="1.5"/>
<text transform="translate(2211.1,134.67) scale(0.95,1)" font-family='"Liberation Serif", serif' font-size="32.5">40</text>
<text x="2242.67" y="133.77" font-family='"Liberation Serif", "Noto Serif CJK SC", serif' font-size="28">℃</text>
<path d="M2161.6 158.84L2170.05 174.04L2153.15 174.04Z" fill="#800000"/>
<text transform="translate(2211.1,180.74) scale(0.95,1)" font-family='"Liberation Serif", serif' font-size="32.5">60</text>
<text x="2242.67" y="179.84" font-family='"Liberation Serif", "Noto Serif CJK SC", serif' font-size="28">℃</text>
<path d="M2161.6 225.11L2170.05 209.91L2153.15 209.91Z" fill="#ff0000"/>
<text transform="translate(2211.1,226.81) scale(0.95,1)" font-family='"Liberation Serif", serif' font-size="32.5">80</text>
<text x="2242.67" y="225.91" font-family='"Liberation Serif", "Noto Serif CJK SC", serif' font-size="28">℃</text>
<path d="M2171.7 261.08L2156.5 252.63L2156.5 269.53Z" fill="#ff8000"/>
<text transform="translate(2211.1,272.88) scale(0.95,1)" font-family='"Liberation Serif", serif' font-size="32.5">100</text>
<text x="2258.11" y="271.98" font-family='"Liberation Serif", "Noto Serif CJK SC", serif' font-size="28">℃</text>
<path d="M2151.5 307.15L2166.7 298.7L2166.7 315.6Z" fill="#008080"/>
<text transform="translate(2211.1,318.95) scale(0.95,1)" font-family='"Liberation Serif", serif' font-size="32.5">120</text>
<text x="2258.11" y="318.05" font-family='"Liberation Serif", "Noto Serif CJK SC", serif' font-size="28">℃</text>
<circle cx="2161.6" cy="353.22" r="6.9" fill="#008000"/>
<text transform="translate(2211.1,365.02) scale(0.95,1)" font-family='"Liberation Serif", serif' font-size="32.5">140</text>
<text x="2258.11" y="364.12" font-family='"Liberation Serif", "Noto Serif CJK SC", serif' font-size="28">℃</text>
<circle cx="2161.6" cy="399.29" r="6.2" fill="#fff" stroke="#ff1493" stroke-width="1.4"/>
<text transform="translate(2211.1,411.09) scale(0.95,1)" font-family='"Liberation Serif", serif' font-size="32.5">160</text>
<text x="2258.11" y="410.19" font-family='"Liberation Serif", "Noto Serif CJK SC", serif' font-size="28">℃</text>
<path d="M2161.6 437.66L2169.3 445.36L2161.6 453.06L2153.9 445.36Z" fill="#fff" stroke="#8b1a1a" stroke-width="1.2"/>
<text transform="translate(2211.1,457.16) scale(0.95,1)" font-family='"Liberation Serif", serif' font-size="32.5">180</text>
<text x="2258.11" y="456.26" font-family='"Liberation Serif", "Noto Serif CJK SC", serif' font-size="28">℃</text>
<path d="M2161.6 483.13L2169.9 491.43L2161.6 499.73L2153.3 491.43Z" fill="#0000ff"/>
<text transform="translate(2211.1,503.23) scale(0.95,1)" font-family='"Liberation Serif", serif' font-size="32.5">200</text>
<text x="2258.11" y="502.33" font-family='"Liberation Serif", "Noto Serif CJK SC", serif' font-size="28">℃</text>
<rect x="1451.4" y="55" width="855.1" height="591.2" fill="none" stroke="#000" stroke-width="2.6"/>
<text transform="translate(1463.5,696.4) scale(1.026,1)" text-anchor="middle" font-family='"Liberation Serif", serif' font-size="40.7">10<tspan dx="-2" dy="-26" font-size="25.8">-2</tspan></text>
<text transform="translate(1581.55,696.4) scale(1.026,1)" text-anchor="middle" font-family='"Liberation Serif", serif' font-size="40.7">10<tspan dx="-2" dy="-26" font-size="25.8">-1</tspan></text>
<text transform="translate(1699.6,696.4) scale(1.026,1)" text-anchor="middle" font-family='"Liberation Serif", serif' font-size="40.7">10<tspan dx="-2" dy="-26" font-size="25.8">0</tspan></text>
<text transform="translate(1817.65,696.4) scale(1.026,1)" text-anchor="middle" font-family='"Liberation Serif", serif' font-size="40.7">10<tspan dx="-2" dy="-26" font-size="25.8">1</tspan></text>
<text transform="translate(1935.7,696.4) scale(1.026,1)" text-anchor="middle" font-family='"Liberation Serif", serif' font-size="40.7">10<tspan dx="-2" dy="-26" font-size="25.8">2</tspan></text>
<text transform="translate(2053.75,696.4) scale(1.026,1)" text-anchor="middle" font-family='"Liberation Serif", serif' font-size="40.7">10<tspan dx="-2" dy="-26" font-size="25.8">3</tspan></text>
<text transform="translate(2171.8,696.4) scale(1.026,1)" text-anchor="middle" font-family='"Liberation Serif", serif' font-size="40.7">10<tspan dx="-2" dy="-26" font-size="25.8">4</tspan></text>
<text transform="translate(2289.85,696.4) scale(1.026,1)" text-anchor="middle" font-family='"Liberation Serif", serif' font-size="40.7">10<tspan dx="-2" dy="-26" font-size="25.8">5</tspan></text>
<text transform="translate(1438.2,659.4) scale(1.026,1)" text-anchor="end" font-family='"Liberation Serif", serif' font-size="40.7">10<tspan dx="-2" dy="-26" font-size="25.8">-2</tspan></text>
<text transform="translate(1438.2,574.94) scale(1.026,1)" text-anchor="end" font-family='"Liberation Serif", serif' font-size="40.7">10<tspan dx="-2" dy="-26" font-size="25.8">-1</tspan></text>
<text transform="translate(1438.2,490.48) scale(1.026,1)" text-anchor="end" font-family='"Liberation Serif", serif' font-size="40.7">10<tspan dx="-2" dy="-26" font-size="25.8">0</tspan></text>
<text transform="translate(1438.2,406.02) scale(1.026,1)" text-anchor="end" font-family='"Liberation Serif", serif' font-size="40.7">10<tspan dx="-2" dy="-26" font-size="25.8">1</tspan></text>
<text transform="translate(1438.2,321.56) scale(1.026,1)" text-anchor="end" font-family='"Liberation Serif", serif' font-size="40.7">10<tspan dx="-2" dy="-26" font-size="25.8">2</tspan></text>
<text transform="translate(1438.2,237.1) scale(1.026,1)" text-anchor="end" font-family='"Liberation Serif", serif' font-size="40.7">10<tspan dx="-2" dy="-26" font-size="25.8">3</tspan></text>
<text transform="translate(1438.2,152.64) scale(1.026,1)" text-anchor="end" font-family='"Liberation Serif", serif' font-size="40.7">10<tspan dx="-2" dy="-26" font-size="25.8">4</tspan></text>
<text transform="translate(1438.2,68.18) scale(1.026,1)" text-anchor="end" font-family='"Liberation Serif", serif' font-size="40.7">10<tspan dx="-2" dy="-26" font-size="25.8">5</tspan></text>
<text x="1733.5" y="744.3" font-family='"Liberation Serif", serif' font-size="40" textLength="282" lengthAdjust="spacingAndGlyphs">Frequency (Hz)</text>
<text transform="translate(1364.5,375.2) rotate(-90) skewX(-12) scale(1.08,1)" font-family='"Liberation Serif", serif' font-size="50" font-style="italic">ε</text>
<text transform="translate(1386.4,353.7) rotate(-90)" font-family='"Liberation Sans", sans-serif' font-size="48">r</text>
<text transform="translate(1370.6,337.9) rotate(-90) scale(0.88,1)" font-family='"Liberation Sans", sans-serif' font-size="70">"</text>
<text transform="translate(1819.4,877.7) scale(0.862,1)" font-family='"Liberation Serif", serif' font-size="61">(</text>
<text transform="translate(1837.36,877.7) scale(1.016,1)" font-family='"Liberation Serif", serif' font-size="62.5" font-weight="bold">b</text>
<text transform="translate(1873.39,877.7) scale(0.933,1)" font-family='"Liberation Serif", serif' font-size="61">)</text>
</g>
<g>
<path d="M169.89 1622.1v-8M169.89 1013.2v8M175.45 1622.1v-13.6M175.45 1013.2v13.6M212.05 1622.1v-8M212.05 1013.2v8M233.45 1622.1v-8M233.45 1013.2v8M248.64 1622.1v-8M248.64 1013.2v8M260.42 1622.1v-8M260.42 1013.2v8M270.05 1622.1v-8M270.05 1013.2v8M278.19 1622.1v-8M278.19 1013.2v8M285.24 1622.1v-8M285.24 1013.2v8M291.46 1622.1v-8M291.46 1013.2v8M297.02 1622.1v-13.6M297.02 1013.2v13.6M333.62 1622.1v-8M333.62 1013.2v8M355.02 1622.1v-8M355.02 1013.2v8M370.21 1622.1v-8M370.21 1013.2v8M381.99 1622.1v-8M381.99 1013.2v8M391.62 1622.1v-8M391.62 1013.2v8M399.76 1622.1v-8M399.76 1013.2v8M406.81 1622.1v-8M406.81 1013.2v8M413.03 1622.1v-8M413.03 1013.2v8M418.59 1622.1v-13.6M418.59 1013.2v13.6M455.19 1622.1v-8M455.19 1013.2v8M476.59 1622.1v-8M476.59 1013.2v8M491.78 1622.1v-8M491.78 1013.2v8M503.56 1622.1v-8M503.56 1013.2v8M513.19 1622.1v-8M513.19 1013.2v8M521.33 1622.1v-8M521.33 1013.2v8M528.38 1622.1v-8M528.38 1013.2v8M534.6 1622.1v-8M534.6 1013.2v8M540.16 1622.1v-13.6M540.16 1013.2v13.6M576.76 1622.1v-8M576.76 1013.2v8M598.16 1622.1v-8M598.16 1013.2v8M613.35 1622.1v-8M613.35 1013.2v8M625.13 1622.1v-8M625.13 1013.2v8M634.76 1622.1v-8M634.76 1013.2v8M642.9 1622.1v-8M642.9 1013.2v8M649.95 1622.1v-8M649.95 1013.2v8M656.17 1622.1v-8M656.17 1013.2v8M661.73 1622.1v-13.6M661.73 1013.2v13.6M698.33 1622.1v-8M698.33 1013.2v8M719.73 1622.1v-8M719.73 1013.2v8M734.92 1622.1v-8M734.92 1013.2v8M746.7 1622.1v-8M746.7 1013.2v8M756.33 1622.1v-8M756.33 1013.2v8M764.47 1622.1v-8M764.47 1013.2v8M771.52 1622.1v-8M771.52 1013.2v8M777.74 1622.1v-8M777.74 1013.2v8M783.3 1622.1v-13.6M783.3 1013.2v13.6M819.9 1622.1v-8M819.9 1013.2v8M841.3 1622.1v-8M841.3 1013.2v8M856.49 1622.1v-8M856.49 1013.2v8M868.27 1622.1v-8M868.27 1013.2v8M877.9 1622.1v-8M877.9 1013.2v8M886.04 1622.1v-8M886.04 1013.2v8M893.09 1622.1v-8M893.09 1013.2v8M899.31 1622.1v-8M899.31 1013.2v8M904.87 1622.1v-13.6M904.87 1013.2v13.6M941.47 1622.1v-8M941.47 1013.2v8M962.87 1622.1v-8M962.87 1013.2v8M978.06 1622.1v-8M978.06 1013.2v8M989.84 1622.1v-8M989.84 1013.2v8M999.47 1622.1v-8M999.47 1013.2v8M1007.61 1622.1v-8M1007.61 1013.2v8M1014.66 1622.1v-8M1014.66 1013.2v8M1020.88 1622.1v-8M1020.88 1013.2v8M1026.44 1622.1v-13.6M1026.44 1013.2v13.6M163.1 1561h8M1044.3 1561h-8M163.1 1525.26h8M1044.3 1525.26h-8M163.1 1499.9h8M1044.3 1499.9h-8M163.1 1480.23h8M1044.3 1480.23h-8M163.1 1464.16h8M1044.3 1464.16h-8M163.1 1450.57h8M1044.3 1450.57h-8M163.1 1438.8h8M1044.3 1438.8h-8M163.1 1428.42h8M1044.3 1428.42h-8M163.1 1419.13h13.6M1044.3 1419.13h-13.6M163.1 1358.03h8M1044.3 1358.03h-8M163.1 1322.29h8M1044.3 1322.29h-8M163.1 1296.93h8M1044.3 1296.93h-8M163.1 1277.26h8M1044.3 1277.26h-8M163.1 1261.19h8M1044.3 1261.19h-8M163.1 1247.6h8M1044.3 1247.6h-8M163.1 1235.83h8M1044.3 1235.83h-8M163.1 1225.45h8M1044.3 1225.45h-8M163.1 1216.16h13.6M1044.3 1216.16h-13.6M163.1 1155.06h8M1044.3 1155.06h-8M163.1 1119.32h8M1044.3 1119.32h-8M163.1 1093.96h8M1044.3 1093.96h-8M163.1 1074.29h8M1044.3 1074.29h-8M163.1 1058.22h8M1044.3 1058.22h-8M163.1 1044.63h8M1044.3 1044.63h-8M163.1 1032.86h8M1044.3 1032.86h-8M163.1 1022.48h8M1044.3 1022.48h-8" stroke="#000" stroke-width="2.3" fill="none"/>
<g><rect x="168.8" y="1518.48" width="12.6" height="13.23" fill="#000000"/><rect x="193.11" y="1519.88" width="12.6" height="13.23" fill="#000000"/><rect x="217.42" y="1520.35" width="12.6" height="13.23" fill="#000000"/><rect x="241.73" y="1520.82" width="12.6" height="13.23" fill="#000000"/><rect x="266.04" y="1521.29" width="12.6" height="13.23" fill="#000000"/><rect x="290.35" y="1521.75" width="12.6" height="13.23" fill="#000000"/><rect x="314.66" y="1522.22" width="12.6" height="13.23" fill="#000000"/><rect x="338.97" y="1522.68" width="12.6" height="13.23" fill="#000000"/><rect x="363.28" y="1522.68" width="12.6" height="13.23" fill="#000000"/><rect x="387.59" y="1522.68" width="12.6" height="13.23" fill="#000000"/><rect x="411.9" y="1522.68" width="12.6" height="13.23" fill="#000000"/><rect x="436.21" y="1523.23" width="12.6" height="13.23" fill="#000000"/><rect x="460.52" y="1523.79" width="12.6" height="13.23" fill="#000000"/><rect x="484.83" y="1524.34" width="12.6" height="13.23" fill="#000000"/><rect x="509.14" y="1524.88" width="12.6" height="13.23" fill="#000000"/><rect x="533.45" y="1525.43" width="12.6" height="13.23" fill="#000000"/><rect x="557.76" y="1525.98" width="12.6" height="13.23" fill="#000000"/><rect x="582.07" y="1526.54" width="12.6" height="13.23" fill="#000000"/><rect x="606.38" y="1527.09" width="12.6" height="13.23" fill="#000000"/><rect x="630.69" y="1527.3" width="12.6" height="13.23" fill="#000000"/><rect x="655" y="1527.52" width="12.6" height="13.23" fill="#000000"/><rect x="679.31" y="1527.73" width="12.6" height="13.23" fill="#000000"/><rect x="703.62" y="1527.95" width="12.6" height="13.23" fill="#000000"/><rect x="727.93" y="1528.17" width="12.6" height="13.23" fill="#000000"/><rect x="752.24" y="1528.38" width="12.6" height="13.23" fill="#000000"/><rect x="776.55" y="1528.48" width="12.6" height="13.23" fill="#000000"/><rect x="800.86" y="1528.57" width="12.6" height="13.23" fill="#000000"/><rect x="825.17" y="1528.66" width="12.6" height="13.23" fill="#000000"/><rect x="849.48" y="1528.75" width="12.6" height="13.23" fill="#000000"/><rect x="873.79" y="1528.84" width="12.6" height="13.23" fill="#000000"/><rect x="898.1" y="1528.93" width="12.6" height="13.23" fill="#000000"/><rect x="922.41" y="1529.02" width="12.6" height="13.23" fill="#000000"/><rect x="946.72" y="1529.11" width="12.6" height="13.23" fill="#000000"/><rect x="971.03" y="1529.2" width="12.6" height="13.23" fill="#000000"/><rect x="995.34" y="1529.29" width="12.6" height="13.23" fill="#000000"/><rect x="1019.65" y="1529.38" width="12.6" height="13.23" fill="#000000"/></g>
<g><rect x="169.55" y="1516.43" width="11.1" height="11.73" fill="#fff" stroke="#ff0000" stroke-width="1.5"/><rect x="193.86" y="1518.23" width="11.1" height="11.73" fill="#fff" stroke="#ff0000" stroke-width="1.5"/><rect x="218.17" y="1518.73" width="11.1" height="11.73" fill="#fff" stroke="#ff0000" stroke-width="1.5"/><rect x="242.48" y="1519.63" width="11.1" height="11.73" fill="#fff" stroke="#ff0000" stroke-width="1.5"/><rect x="266.79" y="1520.34" width="11.1" height="11.73" fill="#fff" stroke="#ff0000" stroke-width="1.5"/><rect x="291.1" y="1521.04" width="11.1" height="11.73" fill="#fff" stroke="#ff0000" stroke-width="1.5"/><rect x="315.41" y="1521.43" width="11.1" height="11.73" fill="#fff" stroke="#ff0000" stroke-width="1.5"/><rect x="339.72" y="1521.43" width="11.1" height="11.73" fill="#fff" stroke="#ff0000" stroke-width="1.5"/><rect x="364.03" y="1521.43" width="11.1" height="11.73" fill="#fff" stroke="#ff0000" stroke-width="1.5"/><rect x="388.34" y="1521.43" width="11.1" height="11.73" fill="#fff" stroke="#ff0000" stroke-width="1.5"/><rect x="412.65" y="1522.07" width="11.1" height="11.73" fill="#fff" stroke="#ff0000" stroke-width="1.5"/><rect x="436.96" y="1522.7" width="11.1" height="11.73" fill="#fff" stroke="#ff0000" stroke-width="1.5"/><rect x="461.27" y="1523.34" width="11.1" height="11.73" fill="#fff" stroke="#ff0000" stroke-width="1.5"/><rect x="485.58" y="1523.97" width="11.1" height="11.73" fill="#fff" stroke="#ff0000" stroke-width="1.5"/><rect x="509.89" y="1524.6" width="11.1" height="11.73" fill="#fff" stroke="#ff0000" stroke-width="1.5"/><rect x="534.2" y="1525.23" width="11.1" height="11.73" fill="#fff" stroke="#ff0000" stroke-width="1.5"/><rect x="558.51" y="1525.87" width="11.1" height="11.73" fill="#fff" stroke="#ff0000" stroke-width="1.5"/><rect x="582.82" y="1526.5" width="11.1" height="11.73" fill="#fff" stroke="#ff0000" stroke-width="1.5"/><rect x="607.13" y="1527.13" width="11.1" height="11.73" fill="#fff" stroke="#ff0000" stroke-width="1.5"/><rect x="631.44" y="1527.3" width="11.1" height="11.73" fill="#fff" stroke="#ff0000" stroke-width="1.5"/><rect x="655.75" y="1527.47" width="11.1" height="11.73" fill="#fff" stroke="#ff0000" stroke-width="1.5"/><rect x="680.06" y="1527.63" width="11.1" height="11.73" fill="#fff" stroke="#ff0000" stroke-width="1.5"/><rect x="704.37" y="1527.8" width="11.1" height="11.73" fill="#fff" stroke="#ff0000" stroke-width="1.5"/><rect x="728.68" y="1527.97" width="11.1" height="11.73" fill="#fff" stroke="#ff0000" stroke-width="1.5"/><rect x="752.99" y="1528.13" width="11.1" height="11.73" fill="#fff" stroke="#ff0000" stroke-width="1.5"/><rect x="777.3" y="1528.23" width="11.1" height="11.73" fill="#fff" stroke="#ff0000" stroke-width="1.5"/><rect x="801.61" y="1528.32" width="11.1" height="11.73" fill="#fff" stroke="#ff0000" stroke-width="1.5"/><rect x="825.92" y="1528.41" width="11.1" height="11.73" fill="#fff" stroke="#ff0000" stroke-width="1.5"/><rect x="850.23" y="1528.5" width="11.1" height="11.73" fill="#fff" stroke="#ff0000" stroke-width="1.5"/><rect x="874.54" y="1528.59" width="11.1" height="11.73" fill="#fff" stroke="#ff0000" stroke-width="1.5"/><rect x="898.85" y="1528.68" width="11.1" height="11.73" fill="#fff" stroke="#ff0000" stroke-width="1.5"/><rect x="923.16" y="1528.77" width="11.1" height="11.73" fill="#fff" stroke="#ff0000" stroke-width="1.5"/><rect x="947.47" y="1528.86" width="11.1" height="11.73" fill="#fff" stroke="#ff0000" stroke-width="1.5"/><rect x="971.78" y="1528.95" width="11.1" height="11.73" fill="#fff" stroke="#ff0000" stroke-width="1.5"/><rect x="996.09" y="1529.04" width="11.1" height="11.73" fill="#fff" stroke="#ff0000" stroke-width="1.5"/><rect x="1020.4" y="1529.13" width="11.1" height="11.73" fill="#fff" stroke="#ff0000" stroke-width="1.5"/></g>
<g><path d="M175.1 1505.4L183.55 1520.6L166.65 1520.6Z" fill="#800000"/><path d="M199.41 1508.2L207.86 1523.4L190.96 1523.4Z" fill="#800000"/><path d="M223.72 1509.3L232.17 1524.5L215.27 1524.5Z" fill="#800000"/><path d="M248.03 1509.6L256.48 1524.8L239.58 1524.8Z" fill="#800000"/><path d="M272.34 1511L280.79 1526.2L263.89 1526.2Z" fill="#800000"/><path d="M296.65 1512.4L305.1 1527.6L288.2 1527.6Z" fill="#800000"/><path d="M320.96 1512.7L329.41 1527.9L312.51 1527.9Z" fill="#800000"/><path d="M345.27 1512.7L353.72 1527.9L336.82 1527.9Z" fill="#800000"/><path d="M369.58 1513.5L378.03 1528.7L361.13 1528.7Z" fill="#800000"/><path d="M393.89 1513.8L402.34 1529L385.44 1529Z" fill="#800000"/><path d="M418.2 1513.8L426.65 1529L409.75 1529Z" fill="#800000"/><path d="M442.51 1513.8L450.96 1529L434.06 1529Z" fill="#800000"/><path d="M466.82 1514.67L475.27 1529.87L458.37 1529.87Z" fill="#800000"/><path d="M491.13 1515.54L499.58 1530.74L482.68 1530.74Z" fill="#800000"/><path d="M515.44 1516.41L523.89 1531.61L506.99 1531.61Z" fill="#800000"/><path d="M539.75 1517.29L548.2 1532.49L531.3 1532.49Z" fill="#800000"/><path d="M564.06 1518.16L572.51 1533.36L555.61 1533.36Z" fill="#800000"/><path d="M588.37 1519.03L596.82 1534.23L579.92 1534.23Z" fill="#800000"/><path d="M612.68 1519.9L621.13 1535.1L604.23 1535.1Z" fill="#800000"/><path d="M636.99 1520.4L645.44 1535.6L628.54 1535.6Z" fill="#800000"/><path d="M661.3 1520.9L669.75 1536.1L652.85 1536.1Z" fill="#800000"/><path d="M685.61 1521.4L694.06 1536.6L677.16 1536.6Z" fill="#800000"/><path d="M709.92 1521.9L718.37 1537.1L701.47 1537.1Z" fill="#800000"/><path d="M734.23 1522.4L742.68 1537.6L725.78 1537.6Z" fill="#800000"/><path d="M758.54 1522.9L766.99 1538.1L750.09 1538.1Z" fill="#800000"/><path d="M782.85 1523.13L791.3 1538.33L774.4 1538.33Z" fill="#800000"/><path d="M807.16 1523.35L815.61 1538.55L798.71 1538.55Z" fill="#800000"/><path d="M831.47 1523.58L839.92 1538.78L823.02 1538.78Z" fill="#800000"/><path d="M855.78 1523.81L864.23 1539.01L847.33 1539.01Z" fill="#800000"/><path d="M880.09 1524.04L888.54 1539.24L871.64 1539.24Z" fill="#800000"/><path d="M904.4 1524.26L912.85 1539.46L895.95 1539.46Z" fill="#800000"/><path d="M928.71 1524.49L937.16 1539.69L920.26 1539.69Z" fill="#800000"/><path d="M953.02 1524.72L961.47 1539.92L944.57 1539.92Z" fill="#800000"/><path d="M977.33 1524.95L985.78 1540.15L968.88 1540.15Z" fill="#800000"/><path d="M1001.64 1525.17L1010.09 1540.37L993.19 1540.37Z" fill="#800000"/><path d="M1025.95 1525.4L1034.4 1540.6L1017.5 1540.6Z" fill="#800000"/></g>
<g><path d="M175.1 1511.3L183.55 1496.1L166.65 1496.1Z" fill="#ff0000"/><path d="M199.41 1516.3L207.86 1501.1L190.96 1501.1Z" fill="#ff0000"/><path d="M223.72 1519L232.17 1503.8L215.27 1503.8Z" fill="#ff0000"/><path d="M248.03 1521.6L256.48 1506.4L239.58 1506.4Z" fill="#ff0000"/><path d="M272.34 1522.1L280.79 1506.9L263.89 1506.9Z" fill="#ff0000"/><path d="M296.65 1524.1L305.1 1508.9L288.2 1508.9Z" fill="#ff0000"/><path d="M320.96 1526.1L329.41 1510.9L312.51 1510.9Z" fill="#ff0000"/><path d="M345.27 1528.3L353.72 1513.1L336.82 1513.1Z" fill="#ff0000"/><path d="M369.58 1529.7L378.03 1514.5L361.13 1514.5Z" fill="#ff0000"/><path d="M393.89 1531.1L402.34 1515.9L385.44 1515.9Z" fill="#ff0000"/><path d="M418.2 1532.1L426.65 1516.9L409.75 1516.9Z" fill="#ff0000"/><path d="M442.51 1533.1L450.96 1517.9L434.06 1517.9Z" fill="#ff0000"/><path d="M466.82 1533.77L475.27 1518.57L458.37 1518.57Z" fill="#ff0000"/><path d="M491.13 1534.43L499.58 1519.23L482.68 1519.23Z" fill="#ff0000"/><path d="M515.44 1535.1L523.89 1519.9L506.99 1519.9Z" fill="#ff0000"/><path d="M539.75 1535.77L548.2 1520.57L531.3 1520.57Z" fill="#ff0000"/><path d="M564.06 1536.43L572.51 1521.23L555.61 1521.23Z" fill="#ff0000"/><path d="M588.37 1537.1L596.82 1521.9L579.92 1521.9Z" fill="#ff0000"/><path d="M612.68 1537.8L621.13 1522.6L604.23 1522.6Z" fill="#ff0000"/><path d="M636.99 1538.18L645.44 1522.98L628.54 1522.98Z" fill="#ff0000"/><path d="M661.3 1538.57L669.75 1523.37L652.85 1523.37Z" fill="#ff0000"/><path d="M685.61 1538.95L694.06 1523.75L677.16 1523.75Z" fill="#ff0000"/><path d="M709.92 1539.33L718.37 1524.13L701.47 1524.13Z" fill="#ff0000"/><path d="M734.23 1539.72L742.68 1524.52L725.78 1524.52Z" fill="#ff0000"/><path d="M758.54 1540.1L766.99 1524.9L750.09 1524.9Z" fill="#ff0000"/><path d="M782.85 1540.37L791.3 1525.17L774.4 1525.17Z" fill="#ff0000"/><path d="M807.16 1540.65L815.61 1525.45L798.71 1525.45Z" fill="#ff0000"/><path d="M831.47 1540.92L839.92 1525.72L823.02 1525.72Z" fill="#ff0000"/><path d="M855.78 1541.19L864.23 1525.99L847.33 1525.99Z" fill="#ff0000"/><path d="M880.09 1541.46L888.54 1526.26L871.64 1526.26Z" fill="#ff0000"/><path d="M904.4 1541.74L912.85 1526.54L895.95 1526.54Z" fill="#ff0000"/><path d="M928.71 1542.01L937.16 1526.81L920.26 1526.81Z" fill="#ff0000"/><path d="M953.02 1542.28L961.47 1527.08L944.57 1527.08Z" fill="#ff0000"/><path d="M977.33 1542.55L985.78 1527.35L968.88 1527.35Z" fill="#ff0000"/><path d="M1001.64 1542.83L1010.09 1527.63L993.19 1527.63Z" fill="#ff0000"/><path d="M1025.95 1543.1L1034.4 1527.9L1017.5 1527.9Z" fill="#ff0000"/></g>
<g><path d="M185.2 1467.2L170 1458.75L170 1475.65Z" fill="#ff8000"/><path d="M209.51 1474.7L194.31 1466.25L194.31 1483.15Z" fill="#ff8000"/><path d="M233.82 1480.8L218.62 1472.35L218.62 1489.25Z" fill="#ff8000"/><path d="M258.13 1489.7L242.93 1481.25L242.93 1498.15Z" fill="#ff8000"/><path d="M282.44 1500L267.24 1491.55L267.24 1508.45Z" fill="#ff8000"/><path d="M306.75 1501L291.55 1492.55L291.55 1509.45Z" fill="#ff8000"/><path d="M331.06 1504L315.86 1495.55L315.86 1512.45Z" fill="#ff8000"/><path d="M355.37 1506.1L340.17 1497.65L340.17 1514.55Z" fill="#ff8000"/><path d="M379.68 1507.9L364.48 1499.45L364.48 1516.35Z" fill="#ff8000"/><path d="M403.99 1508.8L388.79 1500.35L388.79 1517.25Z" fill="#ff8000"/><path d="M428.3 1509.6L413.1 1501.15L413.1 1518.05Z" fill="#ff8000"/><path d="M452.61 1510.7L437.41 1502.25L437.41 1519.15Z" fill="#ff8000"/><path d="M476.92 1511.7L461.72 1503.25L461.72 1520.15Z" fill="#ff8000"/><path d="M501.23 1513.5L486.03 1505.05L486.03 1521.95Z" fill="#ff8000"/><path d="M525.54 1514.9L510.34 1506.45L510.34 1523.35Z" fill="#ff8000"/><path d="M549.85 1516L534.65 1507.55L534.65 1524.45Z" fill="#ff8000"/><path d="M574.16 1517.6L558.96 1509.15L558.96 1526.05Z" fill="#ff8000"/><path d="M598.47 1519.8L583.27 1511.35L583.27 1528.25Z" fill="#ff8000"/><path d="M622.78 1522.3L607.58 1513.85L607.58 1530.75Z" fill="#ff8000"/><path d="M647.09 1522.9L631.89 1514.45L631.89 1531.35Z" fill="#ff8000"/><path d="M671.4 1523.7L656.2 1515.25L656.2 1532.15Z" fill="#ff8000"/><path d="M695.71 1524.7L680.51 1516.25L680.51 1533.15Z" fill="#ff8000"/><path d="M720.02 1525.1L704.82 1516.65L704.82 1533.55Z" fill="#ff8000"/><path d="M744.33 1526.5L729.13 1518.05L729.13 1534.95Z" fill="#ff8000"/><path d="M768.64 1526.8L753.44 1518.35L753.44 1535.25Z" fill="#ff8000"/><path d="M792.95 1527.24L777.75 1518.79L777.75 1535.69Z" fill="#ff8000"/><path d="M817.26 1527.67L802.06 1519.22L802.06 1536.12Z" fill="#ff8000"/><path d="M841.57 1528.11L826.37 1519.66L826.37 1536.56Z" fill="#ff8000"/><path d="M865.88 1528.55L850.68 1520.1L850.68 1537Z" fill="#ff8000"/><path d="M890.19 1528.98L874.99 1520.53L874.99 1537.43Z" fill="#ff8000"/><path d="M914.5 1529.42L899.3 1520.97L899.3 1537.87Z" fill="#ff8000"/><path d="M938.81 1529.85L923.61 1521.4L923.61 1538.3Z" fill="#ff8000"/><path d="M963.12 1530.29L947.92 1521.84L947.92 1538.74Z" fill="#ff8000"/><path d="M987.43 1530.73L972.23 1522.28L972.23 1539.18Z" fill="#ff8000"/><path d="M1011.74 1531.16L996.54 1522.71L996.54 1539.61Z" fill="#ff8000"/><path d="M1036.05 1531.6L1020.85 1523.15L1020.85 1540.05Z" fill="#ff8000"/></g>
<g><path d="M165 1462L180.2 1453.55L180.2 1470.45Z" fill="#008080"/><path d="M189.31 1465L204.51 1456.55L204.51 1473.45Z" fill="#008080"/><path d="M213.62 1469.9L228.82 1461.45L228.82 1478.35Z" fill="#008080"/><path d="M237.93 1473.6L253.13 1465.15L253.13 1482.05Z" fill="#008080"/><path d="M262.24 1478.6L277.44 1470.15L277.44 1487.05Z" fill="#008080"/><path d="M286.55 1485.6L301.75 1477.15L301.75 1494.05Z" fill="#008080"/><path d="M310.86 1493.1L326.06 1484.65L326.06 1501.55Z" fill="#008080"/><path d="M335.17 1500.1L350.37 1491.65L350.37 1508.55Z" fill="#008080"/><path d="M359.48 1507.5L374.68 1499.05L374.68 1515.95Z" fill="#008080"/><path d="M383.79 1513L398.99 1504.55L398.99 1521.45Z" fill="#008080"/><path d="M408.1 1516.5L423.3 1508.05L423.3 1524.95Z" fill="#008080"/><path d="M432.41 1519.6L447.61 1511.15L447.61 1528.05Z" fill="#008080"/><path d="M456.72 1522.6L471.92 1514.15L471.92 1531.05Z" fill="#008080"/><path d="M481.03 1524.3L496.23 1515.85L496.23 1532.75Z" fill="#008080"/><path d="M505.34 1525.1L520.54 1516.65L520.54 1533.55Z" fill="#008080"/><path d="M529.65 1526.8L544.85 1518.35L544.85 1535.25Z" fill="#008080"/><path d="M553.96 1528.2L569.16 1519.75L569.16 1536.65Z" fill="#008080"/><path d="M578.27 1529.3L593.47 1520.85L593.47 1537.75Z" fill="#008080"/><path d="M602.58 1530.2L617.78 1521.75L617.78 1538.65Z" fill="#008080"/><path d="M626.89 1531.6L642.09 1523.15L642.09 1540.05Z" fill="#008080"/><path d="M651.2 1532.6L666.4 1524.15L666.4 1541.05Z" fill="#008080"/><path d="M675.51 1533L690.71 1524.55L690.71 1541.45Z" fill="#008080"/><path d="M699.82 1533.4L715.02 1524.95L715.02 1541.85Z" fill="#008080"/><path d="M724.13 1534.4L739.33 1525.95L739.33 1542.85Z" fill="#008080"/><path d="M748.44 1534.6L763.64 1526.15L763.64 1543.05Z" fill="#008080"/><path d="M772.75 1535.22L787.95 1526.77L787.95 1543.67Z" fill="#008080"/><path d="M797.06 1535.84L812.26 1527.39L812.26 1544.29Z" fill="#008080"/><path d="M821.37 1536.45L836.57 1528L836.57 1544.9Z" fill="#008080"/><path d="M845.68 1537.07L860.88 1528.62L860.88 1545.52Z" fill="#008080"/><path d="M869.99 1537.69L885.19 1529.24L885.19 1546.14Z" fill="#008080"/><path d="M894.3 1538.31L909.5 1529.86L909.5 1546.76Z" fill="#008080"/><path d="M918.61 1538.93L933.81 1530.48L933.81 1547.38Z" fill="#008080"/><path d="M942.92 1539.55L958.12 1531.1L958.12 1548Z" fill="#008080"/><path d="M967.23 1540.16L982.43 1531.71L982.43 1548.61Z" fill="#008080"/><path d="M991.54 1540.78L1006.74 1532.33L1006.74 1549.23Z" fill="#008080"/><path d="M1015.85 1541.4L1031.05 1532.95L1031.05 1549.85Z" fill="#008080"/></g>
<g><circle cx="175.1" cy="1471.3" r="6.9" fill="#008000"/><circle cx="199.41" cy="1480.8" r="6.9" fill="#008000"/><circle cx="223.72" cy="1490" r="6.9" fill="#008000"/><circle cx="248.03" cy="1494.7" r="6.9" fill="#008000"/><circle cx="272.34" cy="1495.6" r="6.9" fill="#008000"/><circle cx="296.65" cy="1502.3" r="6.9" fill="#008000"/><circle cx="320.96" cy="1507.4" r="6.9" fill="#008000"/><circle cx="345.27" cy="1512" r="6.9" fill="#008000"/><circle cx="369.58" cy="1517.1" r="6.9" fill="#008000"/><circle cx="393.89" cy="1522.9" r="6.9" fill="#008000"/><circle cx="418.2" cy="1528.7" r="6.9" fill="#008000"/><circle cx="442.51" cy="1534.9" r="6.9" fill="#008000"/><circle cx="466.82" cy="1540.9" r="6.9" fill="#008000"/><circle cx="491.13" cy="1546.4" r="6.9" fill="#008000"/><circle cx="515.44" cy="1550.5" r="6.9" fill="#008000"/><circle cx="539.75" cy="1553.5" r="6.9" fill="#008000"/><circle cx="564.06" cy="1555.3" r="6.9" fill="#008000"/><circle cx="588.37" cy="1556.5" r="6.9" fill="#008000"/><circle cx="612.68" cy="1556.5" r="6.9" fill="#008000"/><circle cx="636.99" cy="1556.5" r="6.9" fill="#008000"/><circle cx="661.3" cy="1557" r="6.9" fill="#008000"/><circle cx="685.61" cy="1557.4" r="6.9" fill="#008000"/><circle cx="709.92" cy="1558" r="6.9" fill="#008000"/><circle cx="734.23" cy="1559" r="6.9" fill="#008000"/><circle cx="758.54" cy="1559.9" r="6.9" fill="#008000"/><circle cx="782.85" cy="1560.3" r="6.9" fill="#008000"/><circle cx="807.16" cy="1560.7" r="6.9" fill="#008000"/><circle cx="831.47" cy="1561.1" r="6.9" fill="#008000"/><circle cx="855.78" cy="1561.5" r="6.9" fill="#008000"/><circle cx="880.09" cy="1561.9" r="6.9" fill="#008000"/><circle cx="904.4" cy="1562.3" r="6.9" fill="#008000"/><circle cx="928.71" cy="1562.7" r="6.9" fill="#008000"/><circle cx="953.02" cy="1563.1" r="6.9" fill="#008000"/><circle cx="977.33" cy="1563.5" r="6.9" fill="#008000"/><circle cx="1001.64" cy="1563.9" r="6.9" fill="#008000"/><circle cx="1025.95" cy="1564.3" r="6.9" fill="#008000"/></g>
<g><circle cx="175.1" cy="1409.8" r="6.2" fill="#fff" stroke="#00ffff" stroke-width="1.4"/><circle cx="199.41" cy="1447.5" r="6.2" fill="#fff" stroke="#00ffff" stroke-width="1.4"/><circle cx="223.72" cy="1459.5" r="6.2" fill="#fff" stroke="#00ffff" stroke-width="1.4"/><circle cx="248.03" cy="1487.2" r="6.2" fill="#fff" stroke="#00ffff" stroke-width="1.4"/><circle cx="272.34" cy="1488.7" r="6.2" fill="#fff" stroke="#00ffff" stroke-width="1.4"/><circle cx="296.65" cy="1492.6" r="6.2" fill="#fff" stroke="#00ffff" stroke-width="1.4"/><circle cx="320.96" cy="1497.7" r="6.2" fill="#fff" stroke="#00ffff" stroke-width="1.4"/><circle cx="345.27" cy="1502.6" r="6.2" fill="#fff" stroke="#00ffff" stroke-width="1.4"/><circle cx="369.58" cy="1507.5" r="6.2" fill="#fff" stroke="#00ffff" stroke-width="1.4"/><circle cx="393.89" cy="1512.3" r="6.2" fill="#fff" stroke="#00ffff" stroke-width="1.4"/><circle cx="418.2" cy="1516.9" r="6.2" fill="#fff" stroke="#00ffff" stroke-width="1.4"/><circle cx="442.51" cy="1521.8" r="6.2" fill="#fff" stroke="#00ffff" stroke-width="1.4"/><circle cx="466.82" cy="1528.7" r="6.2" fill="#fff" stroke="#00ffff" stroke-width="1.4"/><circle cx="491.13" cy="1535.3" r="6.2" fill="#fff" stroke="#00ffff" stroke-width="1.4"/><circle cx="515.44" cy="1542.2" r="6.2" fill="#fff" stroke="#00ffff" stroke-width="1.4"/><circle cx="539.75" cy="1548.4" r="6.2" fill="#fff" stroke="#00ffff" stroke-width="1.4"/><circle cx="564.06" cy="1553.2" r="6.2" fill="#fff" stroke="#00ffff" stroke-width="1.4"/><circle cx="588.37" cy="1556.2" r="6.2" fill="#fff" stroke="#00ffff" stroke-width="1.4"/><circle cx="612.68" cy="1558.7" r="6.2" fill="#fff" stroke="#00ffff" stroke-width="1.4"/><circle cx="636.99" cy="1560" r="6.2" fill="#fff" stroke="#00ffff" stroke-width="1.4"/><circle cx="661.3" cy="1561" r="6.2" fill="#fff" stroke="#00ffff" stroke-width="1.4"/><circle cx="685.61" cy="1562" r="6.2" fill="#fff" stroke="#00ffff" stroke-width="1.4"/><circle cx="709.92" cy="1562.6" r="6.2" fill="#fff" stroke="#00ffff" stroke-width="1.4"/><circle cx="734.23" cy="1563" r="6.2" fill="#fff" stroke="#00ffff" stroke-width="1.4"/><circle cx="758.54" cy="1563.3" r="6.2" fill="#fff" stroke="#00ffff" stroke-width="1.4"/><circle cx="782.85" cy="1563.52" r="6.2" fill="#fff" stroke="#00ffff" stroke-width="1.4"/><circle cx="807.16" cy="1563.74" r="6.2" fill="#fff" stroke="#00ffff" stroke-width="1.4"/><circle cx="831.47" cy="1563.95" r="6.2" fill="#fff" stroke="#00ffff" stroke-width="1.4"/><circle cx="855.78" cy="1564.17" r="6.2" fill="#fff" stroke="#00ffff" stroke-width="1.4"/><circle cx="880.09" cy="1564.39" r="6.2" fill="#fff" stroke="#00ffff" stroke-width="1.4"/><circle cx="904.4" cy="1564.61" r="6.2" fill="#fff" stroke="#00ffff" stroke-width="1.4"/><circle cx="928.71" cy="1564.83" r="6.2" fill="#fff" stroke="#00ffff" stroke-width="1.4"/><circle cx="953.02" cy="1565.05" r="6.2" fill="#fff" stroke="#00ffff" stroke-width="1.4"/><circle cx="977.33" cy="1565.26" r="6.2" fill="#fff" stroke="#00ffff" stroke-width="1.4"/><circle cx="1001.64" cy="1565.48" r="6.2" fill="#fff" stroke="#00ffff" stroke-width="1.4"/><circle cx="1025.95" cy="1565.7" r="6.2" fill="#fff" stroke="#00ffff" stroke-width="1.4"/></g>
<g><path d="M175.1 1259.6L182.8 1267.3L175.1 1275L167.4 1267.3Z" fill="#fff" stroke="#8b1a1a" stroke-width="1.2"/><path d="M199.41 1321.9L207.11 1329.6L199.41 1337.3L191.71 1329.6Z" fill="#fff" stroke="#8b1a1a" stroke-width="1.2"/><path d="M223.72 1375.9L231.42 1383.6L223.72 1391.3L216.02 1383.6Z" fill="#fff" stroke="#8b1a1a" stroke-width="1.2"/><path d="M248.03 1394.1L255.73 1401.8L248.03 1409.5L240.33 1401.8Z" fill="#fff" stroke="#8b1a1a" stroke-width="1.2"/><path d="M272.34 1445.1L280.04 1452.8L272.34 1460.5L264.64 1452.8Z" fill="#fff" stroke="#8b1a1a" stroke-width="1.2"/><path d="M296.65 1471.9L304.35 1479.6L296.65 1487.3L288.95 1479.6Z" fill="#fff" stroke="#8b1a1a" stroke-width="1.2"/><path d="M320.96 1479.7L328.66 1487.4L320.96 1495.1L313.26 1487.4Z" fill="#fff" stroke="#8b1a1a" stroke-width="1.2"/><path d="M345.27 1487.6L352.97 1495.3L345.27 1503L337.57 1495.3Z" fill="#fff" stroke="#8b1a1a" stroke-width="1.2"/><path d="M369.58 1492.4L377.28 1500.1L369.58 1507.8L361.88 1500.1Z" fill="#fff" stroke="#8b1a1a" stroke-width="1.2"/><path d="M393.89 1496.3L401.59 1504L393.89 1511.7L386.19 1504Z" fill="#fff" stroke="#8b1a1a" stroke-width="1.2"/><path d="M418.2 1499.3L425.9 1507L418.2 1514.7L410.5 1507Z" fill="#fff" stroke="#8b1a1a" stroke-width="1.2"/><path d="M442.51 1504.1L450.21 1511.8L442.51 1519.5L434.81 1511.8Z" fill="#fff" stroke="#8b1a1a" stroke-width="1.2"/><path d="M466.82 1509.7L474.52 1517.4L466.82 1525.1L459.12 1517.4Z" fill="#fff" stroke="#8b1a1a" stroke-width="1.2"/><path d="M491.13 1515.1L498.83 1522.8L491.13 1530.5L483.43 1522.8Z" fill="#fff" stroke="#8b1a1a" stroke-width="1.2"/><path d="M515.44 1521.5L523.14 1529.2L515.44 1536.9L507.74 1529.2Z" fill="#fff" stroke="#8b1a1a" stroke-width="1.2"/><path d="M539.75 1528.2L547.45 1535.9L539.75 1543.6L532.05 1535.9Z" fill="#fff" stroke="#8b1a1a" stroke-width="1.2"/><path d="M564.06 1535.7L571.76 1543.4L564.06 1551.1L556.36 1543.4Z" fill="#fff" stroke="#8b1a1a" stroke-width="1.2"/><path d="M588.37 1543L596.07 1550.7L588.37 1558.4L580.67 1550.7Z" fill="#fff" stroke="#8b1a1a" stroke-width="1.2"/><path d="M612.68 1548.5L620.38 1556.2L612.68 1563.9L604.98 1556.2Z" fill="#fff" stroke="#8b1a1a" stroke-width="1.2"/><path d="M636.99 1552.7L644.69 1560.4L636.99 1568.1L629.29 1560.4Z" fill="#fff" stroke="#8b1a1a" stroke-width="1.2"/><path d="M661.3 1555.9L669 1563.6L661.3 1571.3L653.6 1563.6Z" fill="#fff" stroke="#8b1a1a" stroke-width="1.2"/><path d="M685.61 1558.3L693.31 1566L685.61 1573.7L677.91 1566Z" fill="#fff" stroke="#8b1a1a" stroke-width="1.2"/><path d="M709.92 1559.7L717.62 1567.4L709.92 1575.1L702.22 1567.4Z" fill="#fff" stroke="#8b1a1a" stroke-width="1.2"/><path d="M734.23 1560.1L741.93 1567.8L734.23 1575.5L726.53 1567.8Z" fill="#fff" stroke="#8b1a1a" stroke-width="1.2"/><path d="M758.54 1560.8L766.24 1568.5L758.54 1576.2L750.84 1568.5Z" fill="#fff" stroke="#8b1a1a" stroke-width="1.2"/><path d="M782.85 1560.93L790.55 1568.63L782.85 1576.33L775.15 1568.63Z" fill="#fff" stroke="#8b1a1a" stroke-width="1.2"/><path d="M807.16 1561.05L814.86 1568.75L807.16 1576.45L799.46 1568.75Z" fill="#fff" stroke="#8b1a1a" stroke-width="1.2"/><path d="M831.47 1561.18L839.17 1568.88L831.47 1576.58L823.77 1568.88Z" fill="#fff" stroke="#8b1a1a" stroke-width="1.2"/><path d="M855.78 1561.31L863.48 1569.01L855.78 1576.71L848.08 1569.01Z" fill="#fff" stroke="#8b1a1a" stroke-width="1.2"/><path d="M880.09 1561.44L887.79 1569.14L880.09 1576.84L872.39 1569.14Z" fill="#fff" stroke="#8b1a1a" stroke-width="1.2"/><path d="M904.4 1561.56L912.1 1569.26L904.4 1576.96L896.7 1569.26Z" fill="#fff" stroke="#8b1a1a" stroke-width="1.2"/><path d="M928.71 1561.69L936.41 1569.39L928.71 1577.09L921.01 1569.39Z" fill="#fff" stroke="#8b1a1a" stroke-width="1.2"/><path d="M953.02 1561.82L960.72 1569.52L953.02 1577.22L945.32 1569.52Z" fill="#fff" stroke="#8b1a1a" stroke-width="1.2"/><path d="M977.33 1561.95L985.03 1569.65L977.33 1577.35L969.63 1569.65Z" fill="#fff" stroke="#8b1a1a" stroke-width="1.2"/><path d="M1001.64 1562.07L1009.34 1569.77L1001.64 1577.47L993.94 1569.77Z" fill="#fff" stroke="#8b1a1a" stroke-width="1.2"/><path d="M1025.95 1562.2L1033.65 1569.9L1025.95 1577.6L1018.25 1569.9Z" fill="#fff" stroke="#8b1a1a" stroke-width="1.2"/></g>
<g><path d="M175.1 1148.2L183.4 1156.5L175.1 1164.8L166.8 1156.5Z" fill="#0000ff"/><path d="M199.41 1216.1L207.71 1224.4L199.41 1232.7L191.11 1224.4Z" fill="#0000ff"/><path d="M223.72 1280.3L232.02 1288.6L223.72 1296.9L215.42 1288.6Z" fill="#0000ff"/><path d="M248.03 1342.1L256.33 1350.4L248.03 1358.7L239.73 1350.4Z" fill="#0000ff"/><path d="M272.34 1383.3L280.64 1391.6L272.34 1399.9L264.04 1391.6Z" fill="#0000ff"/><path d="M296.65 1416.5L304.95 1424.8L296.65 1433.1L288.35 1424.8Z" fill="#0000ff"/><path d="M320.96 1451.9L329.26 1460.2L320.96 1468.5L312.66 1460.2Z" fill="#0000ff"/><path d="M345.27 1470.2L353.57 1478.5L345.27 1486.8L336.97 1478.5Z" fill="#0000ff"/><path d="M369.58 1478.6L377.88 1486.9L369.58 1495.2L361.28 1486.9Z" fill="#0000ff"/><path d="M393.89 1484.5L402.19 1492.8L393.89 1501.1L385.59 1492.8Z" fill="#0000ff"/><path d="M418.2 1487L426.5 1495.3L418.2 1503.6L409.9 1495.3Z" fill="#0000ff"/><path d="M442.51 1489.7L450.81 1498L442.51 1506.3L434.21 1498Z" fill="#0000ff"/><path d="M466.82 1493.7L475.12 1502L466.82 1510.3L458.52 1502Z" fill="#0000ff"/><path d="M491.13 1497.4L499.43 1505.7L491.13 1514L482.83 1505.7Z" fill="#0000ff"/><path d="M515.44 1501.9L523.74 1510.2L515.44 1518.5L507.14 1510.2Z" fill="#0000ff"/><path d="M539.75 1507.4L548.05 1515.7L539.75 1524L531.45 1515.7Z" fill="#0000ff"/><path d="M564.06 1514.6L572.36 1522.9L564.06 1531.2L555.76 1522.9Z" fill="#0000ff"/><path d="M588.37 1522.4L596.67 1530.7L588.37 1539L580.07 1530.7Z" fill="#0000ff"/><path d="M612.68 1531.3L620.98 1539.6L612.68 1547.9L604.38 1539.6Z" fill="#0000ff"/><path d="M636.99 1539.6L645.29 1547.9L636.99 1556.2L628.69 1547.9Z" fill="#0000ff"/><path d="M661.3 1546.3L669.6 1554.6L661.3 1562.9L653 1554.6Z" fill="#0000ff"/><path d="M685.61 1551.1L693.91 1559.4L685.61 1567.7L677.31 1559.4Z" fill="#0000ff"/><path d="M709.92 1554.2L718.22 1562.5L709.92 1570.8L701.62 1562.5Z" fill="#0000ff"/><path d="M734.23 1556.3L742.53 1564.6L734.23 1572.9L725.93 1564.6Z" fill="#0000ff"/><path d="M758.54 1557.4L766.84 1565.7L758.54 1574L750.24 1565.7Z" fill="#0000ff"/><path d="M782.85 1557.59L791.15 1565.89L782.85 1574.19L774.55 1565.89Z" fill="#0000ff"/><path d="M807.16 1557.78L815.46 1566.08L807.16 1574.38L798.86 1566.08Z" fill="#0000ff"/><path d="M831.47 1557.97L839.77 1566.27L831.47 1574.57L823.17 1566.27Z" fill="#0000ff"/><path d="M855.78 1558.16L864.08 1566.46L855.78 1574.76L847.48 1566.46Z" fill="#0000ff"/><path d="M880.09 1558.35L888.39 1566.65L880.09 1574.95L871.79 1566.65Z" fill="#0000ff"/><path d="M904.4 1558.55L912.7 1566.85L904.4 1575.15L896.1 1566.85Z" fill="#0000ff"/><path d="M928.71 1558.74L937.01 1567.04L928.71 1575.34L920.41 1567.04Z" fill="#0000ff"/><path d="M953.02 1558.93L961.32 1567.23L953.02 1575.53L944.72 1567.23Z" fill="#0000ff"/><path d="M977.33 1559.12L985.63 1567.42L977.33 1575.72L969.03 1567.42Z" fill="#0000ff"/><path d="M1001.64 1559.31L1009.94 1567.61L1001.64 1575.91L993.34 1567.61Z" fill="#0000ff"/><path d="M1025.95 1559.5L1034.25 1567.8L1025.95 1576.1L1017.65 1567.8Z" fill="#0000ff"/></g>
<rect x="431.4" y="1013.2" width="291.4" height="45.2" fill="#fff" stroke="#000" stroke-width="1.4"/>
<text x="432.6" y="1048.5" font-family='"Liberation Serif", serif' font-size="34.5" textLength="288.3" lengthAdjust="spacingAndGlyphs">Composites-Trising</text>
<rect x="858.2" y="1013.2" width="186.1" height="498.3" fill="#fff" stroke="#000" stroke-width="1.5"/>
<rect x="895.5" y="1051.29" width="12.6" height="13.23" fill="#000000"/>
<text transform="translate(952.4,1070.2) scale(0.95,1)" font-family='"Liberation Serif", serif' font-size="34.6">20</text>
<text x="985.97" y="1069.3" font-family='"Liberation Serif", "Noto Serif CJK SC", serif' font-size="29.7">℃</text>
<rect x="896.25" y="1099.37" width="11.1" height="11.73" fill="#fff" stroke="#ff0000" stroke-width="1.5"/>
<text transform="translate(952.4,1117.53) scale(0.95,1)" font-family='"Liberation Serif", serif' font-size="34.6">40</text>
<text x="985.97" y="1116.63" font-family='"Liberation Serif", "Noto Serif CJK SC", serif' font-size="29.7">℃</text>
<path d="M901.8 1142.46L910.25 1157.66L893.35 1157.66Z" fill="#800000"/>
<text transform="translate(952.4,1164.86) scale(0.95,1)" font-family='"Liberation Serif", serif' font-size="34.6">60</text>
<text x="985.97" y="1163.96" font-family='"Liberation Serif", "Noto Serif CJK SC", serif' font-size="29.7">℃</text>
<path d="M901.8 1209.99L910.25 1194.79L893.35 1194.79Z" fill="#ff0000"/>
<text transform="translate(952.4,1212.19) scale(0.95,1)" font-family='"Liberation Serif", serif' font-size="34.6">80</text>
<text x="985.97" y="1211.29" font-family='"Liberation Serif", "Noto Serif CJK SC", serif' font-size="29.7">℃</text>
<path d="M911.9 1247.22L896.7 1238.77L896.7 1255.67Z" fill="#ff8000"/>
<text transform="translate(952.4,1259.52) scale(0.95,1)" font-family='"Liberation Serif", serif' font-size="34.6">100</text>
<text x="1002.4" y="1258.62" font-family='"Liberation Serif", "Noto Serif CJK SC", serif' font-size="29.7">℃</text>
<path d="M891.7 1294.55L906.9 1286.1L906.9 1303Z" fill="#008080"/>
<text transform="translate(952.4,1306.85) scale(0.95,1)" font-family='"Liberation Serif", serif' font-size="34.6">120</text>
<text x="1002.4" y="1305.95" font-family='"Liberation Serif", "Noto Serif CJK SC", serif' font-size="29.7">℃</text>
<circle cx="901.8" cy="1341.88" r="6.9" fill="#008000"/>
<text transform="translate(952.4,1354.18) scale(0.95,1)" font-family='"Liberation Serif", serif' font-size="34.6">140</text>
<text x="1002.4" y="1353.28" font-family='"Liberation Serif", "Noto Serif CJK SC", serif' font-size="29.7">℃</text>
<circle cx="901.8" cy="1389.21" r="6.2" fill="#fff" stroke="#00ffff" stroke-width="1.4"/>
<text transform="translate(952.4,1401.51) scale(0.95,1)" font-family='"Liberation Serif", serif' font-size="34.6">160</text>
<text x="1002.4" y="1400.61" font-family='"Liberation Serif", "Noto Serif CJK SC", serif' font-size="29.7">℃</text>
<path d="M901.8 1428.84L909.5 1436.54L901.8 1444.24L894.1 1436.54Z" fill="#fff" stroke="#8b1a1a" stroke-width="1.2"/>
<text transform="translate(952.4,1448.84) scale(0.95,1)" font-family='"Liberation Serif", serif' font-size="34.6">180</text>
<text x="1002.4" y="1447.94" font-family='"Liberation Serif", "Noto Serif CJK SC", serif' font-size="29.7">℃</text>
<path d="M901.8 1475.57L910.1 1483.87L901.8 1492.17L893.5 1483.87Z" fill="#0000ff"/>
<text transform="translate(952.4,1496.17) scale(0.95,1)" font-family='"Liberation Serif", serif' font-size="34.6">200</text>
<text x="1002.4" y="1495.27" font-family='"Liberation Serif", "Noto Serif CJK SC", serif' font-size="29.7">℃</text>
<rect x="163.1" y="1013.2" width="881.2" height="608.9" fill="none" stroke="#000" stroke-width="2.6"/>
<text transform="translate(175.45,1670.8) scale(1.0,1)" text-anchor="middle" font-family='"Liberation Sans", sans-serif' font-size="36.5">10<tspan dx="0" dy="-21" font-size="22.5">-2</tspan></text>
<text transform="translate(297.02,1670.8) scale(1.0,1)" text-anchor="middle" font-family='"Liberation Sans", sans-serif' font-size="36.5">10<tspan dx="0" dy="-21" font-size="22.5">-1</tspan></text>
<text transform="translate(418.59,1670.8) scale(1.0,1)" text-anchor="middle" font-family='"Liberation Sans", sans-serif' font-size="36.5">10<tspan dx="0" dy="-21" font-size="22.5">0</tspan></text>
<text transform="translate(540.16,1670.8) scale(1.0,1)" text-anchor="middle" font-family='"Liberation Sans", sans-serif' font-size="36.5">10<tspan dx="0" dy="-21" font-size="22.5">1</tspan></text>
<text transform="translate(661.73,1670.8) scale(1.0,1)" text-anchor="middle" font-family='"Liberation Sans", sans-serif' font-size="36.5">10<tspan dx="0" dy="-21" font-size="22.5">2</tspan></text>
<text transform="translate(783.3,1670.8) scale(1.0,1)" text-anchor="middle" font-family='"Liberation Sans", sans-serif' font-size="36.5">10<tspan dx="0" dy="-21" font-size="22.5">3</tspan></text>
<text transform="translate(904.87,1670.8) scale(1.0,1)" text-anchor="middle" font-family='"Liberation Sans", sans-serif' font-size="36.5">10<tspan dx="0" dy="-21" font-size="22.5">4</tspan></text>
<text transform="translate(1026.44,1670.8) scale(1.0,1)" text-anchor="middle" font-family='"Liberation Sans", sans-serif' font-size="36.5">10<tspan dx="0" dy="-21" font-size="22.5">5</tspan></text>
<text transform="translate(148.9,1636.3) scale(1.0,1)" text-anchor="end" font-family='"Liberation Sans", sans-serif' font-size="36.5">10<tspan dx="0" dy="-21" font-size="22.5">0</tspan></text>
<text transform="translate(148.9,1433.33) scale(1.0,1)" text-anchor="end" font-family='"Liberation Sans", sans-serif' font-size="36.5">10<tspan dx="0" dy="-21" font-size="22.5">1</tspan></text>
<text transform="translate(148.9,1230.36) scale(1.0,1)" text-anchor="end" font-family='"Liberation Sans", sans-serif' font-size="36.5">10<tspan dx="0" dy="-21" font-size="22.5">2</tspan></text>
<text transform="translate(148.9,1027.39) scale(1.0,1)" text-anchor="end" font-family='"Liberation Sans", sans-serif' font-size="36.5">10<tspan dx="0" dy="-21" font-size="22.5">3</tspan></text>
<text x="461.8" y="1705.6" font-family='"Liberation Serif", serif' font-size="40" textLength="281.9" lengthAdjust="spacingAndGlyphs">Frequency (Hz)</text>
<text transform="translate(94.4,1336.4) rotate(-90) scale(1.175,1)" font-family='"Liberation Serif", serif' font-size="49.4">ε</text>
<text transform="translate(118.6,1311.5) rotate(-90)" font-family='"Liberation Sans", sans-serif' font-size="52.6">r</text>
<text transform="translate(99.3,1295.1) rotate(-90) scale(0.9,1)" font-family='"Liberation Sans", sans-serif' font-size="69.5">'</text>
<text transform="translate(548.04,1846.5) scale(0.844,1)" font-family='"Liberation Serif", serif' font-size="61">(</text>
<text transform="translate(566.9,1846.5) scale(0.907,1)" font-family='"Liberation Serif", serif' font-size="62.5" font-weight="bold">c</text>
<text transform="translate(592.82,1846.5) scale(0.864,1)" font-family='"Liberation Serif", serif' font-size="61">)</text>
</g>
<g>
<path d="M1458.1 1613.7v-8M1458.1 1022.6v8M1463.5 1613.7v-13.6M1463.5 1022.6v13.6M1499.04 1613.7v-8M1499.04 1022.6v8M1519.82 1613.7v-8M1519.82 1022.6v8M1534.57 1613.7v-8M1534.57 1022.6v8M1546.01 1613.7v-8M1546.01 1022.6v8M1555.36 1613.7v-8M1555.36 1022.6v8M1563.26 1613.7v-8M1563.26 1022.6v8M1570.11 1613.7v-8M1570.11 1022.6v8M1576.15 1613.7v-8M1576.15 1022.6v8M1581.55 1613.7v-13.6M1581.55 1022.6v13.6M1617.09 1613.7v-8M1617.09 1022.6v8M1637.87 1613.7v-8M1637.87 1022.6v8M1652.62 1613.7v-8M1652.62 1022.6v8M1664.06 1613.7v-8M1664.06 1022.6v8M1673.41 1613.7v-8M1673.41 1022.6v8M1681.31 1613.7v-8M1681.31 1022.6v8M1688.16 1613.7v-8M1688.16 1022.6v8M1694.2 1613.7v-8M1694.2 1022.6v8M1699.6 1613.7v-13.6M1699.6 1022.6v13.6M1735.14 1613.7v-8M1735.14 1022.6v8M1755.92 1613.7v-8M1755.92 1022.6v8M1770.67 1613.7v-8M1770.67 1022.6v8M1782.11 1613.7v-8M1782.11 1022.6v8M1791.46 1613.7v-8M1791.46 1022.6v8M1799.36 1613.7v-8M1799.36 1022.6v8M1806.21 1613.7v-8M1806.21 1022.6v8M1812.25 1613.7v-8M1812.25 1022.6v8M1817.65 1613.7v-13.6M1817.65 1022.6v13.6M1853.19 1613.7v-8M1853.19 1022.6v8M1873.97 1613.7v-8M1873.97 1022.6v8M1888.72 1613.7v-8M1888.72 1022.6v8M1900.16 1613.7v-8M1900.16 1022.6v8M1909.51 1613.7v-8M1909.51 1022.6v8M1917.41 1613.7v-8M1917.41 1022.6v8M1924.26 1613.7v-8M1924.26 1022.6v8M1930.3 1613.7v-8M1930.3 1022.6v8M1935.7 1613.7v-13.6M1935.7 1022.6v13.6M1971.24 1613.7v-8M1971.24 1022.6v8M1992.02 1613.7v-8M1992.02 1022.6v8M2006.77 1613.7v-8M2006.77 1022.6v8M2018.21 1613.7v-8M2018.21 1022.6v8M2027.56 1613.7v-8M2027.56 1022.6v8M2035.46 1613.7v-8M2035.46 1022.6v8M2042.31 1613.7v-8M2042.31 1022.6v8M2048.35 1613.7v-8M2048.35 1022.6v8M2053.75 1613.7v-13.6M2053.75 1022.6v13.6M2089.29 1613.7v-8M2089.29 1022.6v8M2110.07 1613.7v-8M2110.07 1022.6v8M2124.82 1613.7v-8M2124.82 1022.6v8M2136.26 1613.7v-8M2136.26 1022.6v8M2145.61 1613.7v-8M2145.61 1022.6v8M2153.51 1613.7v-8M2153.51 1022.6v8M2160.36 1613.7v-8M2160.36 1022.6v8M2166.4 1613.7v-8M2166.4 1022.6v8M2171.8 1613.7v-13.6M2171.8 1022.6v13.6M2207.34 1613.7v-8M2207.34 1022.6v8M2228.12 1613.7v-8M2228.12 1022.6v8M2242.87 1613.7v-8M2242.87 1022.6v8M2254.31 1613.7v-8M2254.31 1022.6v8M2263.66 1613.7v-8M2263.66 1022.6v8M2271.56 1613.7v-8M2271.56 1022.6v8M2278.41 1613.7v-8M2278.41 1022.6v8M2284.45 1613.7v-8M2284.45 1022.6v8M2289.85 1613.7v-13.6M2289.85 1022.6v13.6M1451.4 1607.57h8M2306.5 1607.57h-8M1451.4 1602.15h8M2306.5 1602.15h-8M1451.4 1597.45h8M2306.5 1597.45h-8M1451.4 1593.31h8M2306.5 1593.31h-8M1451.4 1589.6h13.6M2306.5 1589.6h-13.6M1451.4 1565.22h8M2306.5 1565.22h-8M1451.4 1550.96h8M2306.5 1550.96h-8M1451.4 1540.84h8M2306.5 1540.84h-8M1451.4 1532.99h8M2306.5 1532.99h-8M1451.4 1526.58h8M2306.5 1526.58h-8M1451.4 1521.16h8M2306.5 1521.16h-8M1451.4 1516.46h8M2306.5 1516.46h-8M1451.4 1512.32h8M2306.5 1512.32h-8M1451.4 1508.61h13.6M2306.5 1508.61h-13.6M1451.4 1484.23h8M2306.5 1484.23h-8M1451.4 1469.97h8M2306.5 1469.97h-8M1451.4 1459.85h8M2306.5 1459.85h-8M1451.4 1452h8M2306.5 1452h-8M1451.4 1445.59h8M2306.5 1445.59h-8M1451.4 1440.17h8M2306.5 1440.17h-8M1451.4 1435.47h8M2306.5 1435.47h-8M1451.4 1431.33h8M2306.5 1431.33h-8M1451.4 1427.62h13.6M2306.5 1427.62h-13.6M1451.4 1403.24h8M2306.5 1403.24h-8M1451.4 1388.98h8M2306.5 1388.98h-8M1451.4 1378.86h8M2306.5 1378.86h-8M1451.4 1371.01h8M2306.5 1371.01h-8M1451.4 1364.6h8M2306.5 1364.6h-8M1451.4 1359.18h8M2306.5 1359.18h-8M1451.4 1354.48h8M2306.5 1354.48h-8M1451.4 1350.34h8M2306.5 1350.34h-8M1451.4 1346.63h13.6M2306.5 1346.63h-13.6M1451.4 1322.25h8M2306.5 1322.25h-8M1451.4 1307.99h8M2306.5 1307.99h-8M1451.4 1297.87h8M2306.5 1297.87h-8M1451.4 1290.02h8M2306.5 1290.02h-8M1451.4 1283.61h8M2306.5 1283.61h-8M1451.4 1278.19h8M2306.5 1278.19h-8M1451.4 1273.49h8M2306.5 1273.49h-8M1451.4 1269.35h8M2306.5 1269.35h-8M1451.4 1265.64h13.6M2306.5 1265.64h-13.6M1451.4 1241.26h8M2306.5 1241.26h-8M1451.4 1227h8M2306.5 1227h-8M1451.4 1216.88h8M2306.5 1216.88h-8M1451.4 1209.03h8M2306.5 1209.03h-8M1451.4 1202.62h8M2306.5 1202.62h-8M1451.4 1197.2h8M2306.5 1197.2h-8M1451.4 1192.5h8M2306.5 1192.5h-8M1451.4 1188.36h8M2306.5 1188.36h-8M1451.4 1184.65h13.6M2306.5 1184.65h-13.6M1451.4 1160.27h8M2306.5 1160.27h-8M1451.4 1146.01h8M2306.5 1146.01h-8M1451.4 1135.89h8M2306.5 1135.89h-8M1451.4 1128.04h8M2306.5 1128.04h-8M1451.4 1121.63h8M2306.5 1121.63h-8M1451.4 1116.21h8M2306.5 1116.21h-8M1451.4 1111.51h8M2306.5 1111.51h-8M1451.4 1107.37h8M2306.5 1107.37h-8M1451.4 1103.66h13.6M2306.5 1103.66h-13.6M1451.4 1079.28h8M2306.5 1079.28h-8M1451.4 1065.02h8M2306.5 1065.02h-8M1451.4 1054.9h8M2306.5 1054.9h-8M1451.4 1047.05h8M2306.5 1047.05h-8M1451.4 1040.64h8M2306.5 1040.64h-8M1451.4 1035.22h8M2306.5 1035.22h-8M1451.4 1030.52h8M2306.5 1030.52h-8M1451.4 1026.38h8M2306.5 1026.38h-8" stroke="#000" stroke-width="2.3" fill="none"/>
<g><rect x="1457.1" y="1515.48" width="12.6" height="13.23" fill="#000000"/><rect x="1480.72" y="1517.38" width="12.6" height="13.23" fill="#000000"/><rect x="1504.34" y="1525.38" width="12.6" height="13.23" fill="#000000"/><rect x="1527.96" y="1526.98" width="12.6" height="13.23" fill="#000000"/><rect x="1551.58" y="1526.98" width="12.6" height="13.23" fill="#000000"/><rect x="1575.2" y="1529.38" width="12.6" height="13.23" fill="#000000"/><rect x="1598.82" y="1527.18" width="12.6" height="13.23" fill="#000000"/><rect x="1622.44" y="1524.79" width="12.6" height="13.23" fill="#000000"/><rect x="1646.06" y="1521.09" width="12.6" height="13.23" fill="#000000"/><rect x="1669.68" y="1518.38" width="12.6" height="13.23" fill="#000000"/><rect x="1693.3" y="1516.09" width="12.6" height="13.23" fill="#000000"/><rect x="1716.92" y="1516.48" width="12.6" height="13.23" fill="#000000"/><rect x="1740.54" y="1520.18" width="12.6" height="13.23" fill="#000000"/><rect x="1764.16" y="1526.98" width="12.6" height="13.23" fill="#000000"/><rect x="1787.78" y="1535.38" width="12.6" height="13.23" fill="#000000"/><rect x="1811.4" y="1544.29" width="12.6" height="13.23" fill="#000000"/><rect x="1835.02" y="1551.18" width="12.6" height="13.23" fill="#000000"/><rect x="1858.64" y="1556.79" width="12.6" height="13.23" fill="#000000"/><rect x="1882.26" y="1562.29" width="12.6" height="13.23" fill="#000000"/><rect x="1905.88" y="1564.79" width="12.6" height="13.23" fill="#000000"/><rect x="1929.5" y="1570.29" width="12.6" height="13.23" fill="#000000"/><rect x="1953.12" y="1571.38" width="12.6" height="13.23" fill="#000000"/><rect x="1976.74" y="1566.18" width="12.6" height="13.23" fill="#000000"/><rect x="2000.36" y="1552.48" width="12.6" height="13.23" fill="#000000"/><rect x="2023.98" y="1549.38" width="12.6" height="13.23" fill="#000000"/><rect x="2047.6" y="1545.38" width="12.6" height="13.23" fill="#000000"/><rect x="2071.22" y="1541.38" width="12.6" height="13.23" fill="#000000"/><rect x="2094.84" y="1539.38" width="12.6" height="13.23" fill="#000000"/><rect x="2118.46" y="1539.18" width="12.6" height="13.23" fill="#000000"/><rect x="2142.08" y="1539.09" width="12.6" height="13.23" fill="#000000"/><rect x="2165.7" y="1537.38" width="12.6" height="13.23" fill="#000000"/><rect x="2189.32" y="1535.68" width="12.6" height="13.23" fill="#000000"/><rect x="2212.94" y="1531.29" width="12.6" height="13.23" fill="#000000"/><rect x="2236.56" y="1526.79" width="12.6" height="13.23" fill="#000000"/><rect x="2260.18" y="1523.38" width="12.6" height="13.23" fill="#000000"/><rect x="2283.8" y="1520.18" width="12.6" height="13.23" fill="#000000"/></g>
<g><rect x="1457.85" y="1496.43" width="11.1" height="11.73" fill="#fff" stroke="#ff0000" stroke-width="1.5"/><rect x="1481.47" y="1506.04" width="11.1" height="11.73" fill="#fff" stroke="#ff0000" stroke-width="1.5"/><rect x="1505.09" y="1511.04" width="11.1" height="11.73" fill="#fff" stroke="#ff0000" stroke-width="1.5"/><rect x="1528.71" y="1518.13" width="11.1" height="11.73" fill="#fff" stroke="#ff0000" stroke-width="1.5"/><rect x="1552.33" y="1522.23" width="11.1" height="11.73" fill="#fff" stroke="#ff0000" stroke-width="1.5"/><rect x="1575.95" y="1526.43" width="11.1" height="11.73" fill="#fff" stroke="#ff0000" stroke-width="1.5"/><rect x="1599.57" y="1523.13" width="11.1" height="11.73" fill="#fff" stroke="#ff0000" stroke-width="1.5"/><rect x="1623.19" y="1524.63" width="11.1" height="11.73" fill="#fff" stroke="#ff0000" stroke-width="1.5"/><rect x="1646.81" y="1522.73" width="11.1" height="11.73" fill="#fff" stroke="#ff0000" stroke-width="1.5"/><rect x="1670.43" y="1519.63" width="11.1" height="11.73" fill="#fff" stroke="#ff0000" stroke-width="1.5"/><rect x="1694.05" y="1516.23" width="11.1" height="11.73" fill="#fff" stroke="#ff0000" stroke-width="1.5"/><rect x="1717.67" y="1513.54" width="11.1" height="11.73" fill="#fff" stroke="#ff0000" stroke-width="1.5"/><rect x="1741.29" y="1513.54" width="11.1" height="11.73" fill="#fff" stroke="#ff0000" stroke-width="1.5"/><rect x="1764.91" y="1516.63" width="11.1" height="11.73" fill="#fff" stroke="#ff0000" stroke-width="1.5"/><rect x="1788.53" y="1523.34" width="11.1" height="11.73" fill="#fff" stroke="#ff0000" stroke-width="1.5"/><rect x="1812.15" y="1532.93" width="11.1" height="11.73" fill="#fff" stroke="#ff0000" stroke-width="1.5"/><rect x="1835.77" y="1540.93" width="11.1" height="11.73" fill="#fff" stroke="#ff0000" stroke-width="1.5"/><rect x="1859.39" y="1549.23" width="11.1" height="11.73" fill="#fff" stroke="#ff0000" stroke-width="1.5"/><rect x="1883.01" y="1554.93" width="11.1" height="11.73" fill="#fff" stroke="#ff0000" stroke-width="1.5"/><rect x="1906.63" y="1561.43" width="11.1" height="11.73" fill="#fff" stroke="#ff0000" stroke-width="1.5"/><rect x="1930.25" y="1564.04" width="11.1" height="11.73" fill="#fff" stroke="#ff0000" stroke-width="1.5"/><rect x="1953.87" y="1572.34" width="11.1" height="11.73" fill="#fff" stroke="#ff0000" stroke-width="1.5"/><rect x="1977.49" y="1574.93" width="11.1" height="11.73" fill="#fff" stroke="#ff0000" stroke-width="1.5"/><rect x="2001.11" y="1558.34" width="11.1" height="11.73" fill="#fff" stroke="#ff0000" stroke-width="1.5"/><rect x="2024.73" y="1557.54" width="11.1" height="11.73" fill="#fff" stroke="#ff0000" stroke-width="1.5"/><rect x="2048.35" y="1547.43" width="11.1" height="11.73" fill="#fff" stroke="#ff0000" stroke-width="1.5"/><rect x="2071.97" y="1541.73" width="11.1" height="11.73" fill="#fff" stroke="#ff0000" stroke-width="1.5"/><rect x="2095.59" y="1527.13" width="11.1" height="11.73" fill="#fff" stroke="#ff0000" stroke-width="1.5"/><rect x="2119.21" y="1536.13" width="11.1" height="11.73" fill="#fff" stroke="#ff0000" stroke-width="1.5"/><rect x="2142.83" y="1549.84" width="11.1" height="11.73" fill="#fff" stroke="#ff0000" stroke-width="1.5"/><rect x="2166.45" y="1554.34" width="11.1" height="11.73" fill="#fff" stroke="#ff0000" stroke-width="1.5"/><rect x="2190.07" y="1550.13" width="11.1" height="11.73" fill="#fff" stroke="#ff0000" stroke-width="1.5"/><rect x="2213.69" y="1542.13" width="11.1" height="11.73" fill="#fff" stroke="#ff0000" stroke-width="1.5"/><rect x="2237.31" y="1534.84" width="11.1" height="11.73" fill="#fff" stroke="#ff0000" stroke-width="1.5"/><rect x="2260.93" y="1532.13" width="11.1" height="11.73" fill="#fff" stroke="#ff0000" stroke-width="1.5"/><rect x="2284.55" y="1529.84" width="11.1" height="11.73" fill="#fff" stroke="#ff0000" stroke-width="1.5"/></g>
<g><path d="M1463.4 1471.7L1471.85 1486.9L1454.95 1486.9Z" fill="#800000"/><path d="M1487.02 1483.2L1495.47 1498.4L1478.57 1498.4Z" fill="#800000"/><path d="M1510.64 1505.1L1519.09 1520.3L1502.19 1520.3Z" fill="#800000"/><path d="M1534.26 1492.1L1542.71 1507.3L1525.81 1507.3Z" fill="#800000"/><path d="M1557.88 1499.9L1566.33 1515.1L1549.43 1515.1Z" fill="#800000"/><path d="M1581.5 1503.6L1589.95 1518.8L1573.05 1518.8Z" fill="#800000"/><path d="M1605.12 1508.2L1613.57 1523.4L1596.67 1523.4Z" fill="#800000"/><path d="M1628.74 1511.6L1637.19 1526.8L1620.29 1526.8Z" fill="#800000"/><path d="M1652.36 1511.4L1660.81 1526.6L1643.91 1526.6Z" fill="#800000"/><path d="M1675.98 1510.1L1684.43 1525.3L1667.53 1525.3Z" fill="#800000"/><path d="M1699.6 1507.3L1708.05 1522.5L1691.15 1522.5Z" fill="#800000"/><path d="M1723.22 1503.4L1731.67 1518.6L1714.77 1518.6Z" fill="#800000"/><path d="M1746.84 1500.6L1755.29 1515.8L1738.39 1515.8Z" fill="#800000"/><path d="M1770.46 1500.6L1778.91 1515.8L1762.01 1515.8Z" fill="#800000"/><path d="M1794.08 1504.5L1802.53 1519.7L1785.63 1519.7Z" fill="#800000"/><path d="M1817.7 1511L1826.15 1526.2L1809.25 1526.2Z" fill="#800000"/><path d="M1841.32 1518.3L1849.77 1533.5L1832.87 1533.5Z" fill="#800000"/><path d="M1864.94 1527.8L1873.39 1543L1856.49 1543Z" fill="#800000"/><path d="M1888.56 1535.9L1897.01 1551.1L1880.11 1551.1Z" fill="#800000"/><path d="M1912.18 1542L1920.63 1557.2L1903.73 1557.2Z" fill="#800000"/><path d="M1935.8 1549.1L1944.25 1564.3L1927.35 1564.3Z" fill="#800000"/><path d="M1959.42 1556.3L1967.87 1571.5L1950.97 1571.5Z" fill="#800000"/><path d="M1983.04 1563.2L1991.49 1578.4L1974.59 1578.4Z" fill="#800000"/><path d="M2006.66 1549.2L2015.11 1564.4L1998.21 1564.4Z" fill="#800000"/><path d="M2030.28 1545.7L2038.73 1560.9L2021.83 1560.9Z" fill="#800000"/><path d="M2053.9 1544.3L2062.35 1559.5L2045.45 1559.5Z" fill="#800000"/><path d="M2077.52 1540.4L2085.97 1555.6L2069.07 1555.6Z" fill="#800000"/><path d="M2101.14 1537.4L2109.59 1552.6L2092.69 1552.6Z" fill="#800000"/><path d="M2124.76 1539.2L2133.21 1554.4L2116.31 1554.4Z" fill="#800000"/><path d="M2148.38 1548.4L2156.83 1563.6L2139.93 1563.6Z" fill="#800000"/><path d="M2172 1552.4L2180.45 1567.6L2163.55 1567.6Z" fill="#800000"/><path d="M2195.62 1557L2204.07 1572.2L2187.17 1572.2Z" fill="#800000"/><path d="M2219.24 1547L2227.69 1562.2L2210.79 1562.2Z" fill="#800000"/><path d="M2242.86 1542.5L2251.31 1557.7L2234.41 1557.7Z" fill="#800000"/><path d="M2266.48 1537L2274.93 1552.2L2258.03 1552.2Z" fill="#800000"/><path d="M2290.1 1533.1L2298.55 1548.3L2281.65 1548.3Z" fill="#800000"/></g>
<g><path d="M1463.4 1429.5L1471.85 1414.3L1454.95 1414.3Z" fill="#ff0000"/><path d="M1487.02 1439.2L1495.47 1424L1478.57 1424Z" fill="#ff0000"/><path d="M1510.64 1452.4L1519.09 1437.2L1502.19 1437.2Z" fill="#ff0000"/><path d="M1534.26 1452.7L1542.71 1437.5L1525.81 1437.5Z" fill="#ff0000"/><path d="M1557.88 1474.1L1566.33 1458.9L1549.43 1458.9Z" fill="#ff0000"/><path d="M1581.5 1482.8L1589.95 1467.6L1573.05 1467.6Z" fill="#ff0000"/><path d="M1605.12 1490.2L1613.57 1475L1596.67 1475Z" fill="#ff0000"/><path d="M1628.74 1496.9L1637.19 1481.7L1620.29 1481.7Z" fill="#ff0000"/><path d="M1652.36 1502.3L1660.81 1487.1L1643.91 1487.1Z" fill="#ff0000"/><path d="M1675.98 1505.2L1684.43 1490L1667.53 1490Z" fill="#ff0000"/><path d="M1699.6 1506.5L1708.05 1491.3L1691.15 1491.3Z" fill="#ff0000"/><path d="M1723.22 1506.5L1731.67 1491.3L1714.77 1491.3Z" fill="#ff0000"/><path d="M1746.84 1506.4L1755.29 1491.2L1738.39 1491.2Z" fill="#ff0000"/><path d="M1770.46 1505.2L1778.91 1490L1762.01 1490Z" fill="#ff0000"/><path d="M1794.08 1505.1L1802.53 1489.9L1785.63 1489.9Z" fill="#ff0000"/><path d="M1817.7 1506.9L1826.15 1491.7L1809.25 1491.7Z" fill="#ff0000"/><path d="M1841.32 1510.8L1849.77 1495.6L1832.87 1495.6Z" fill="#ff0000"/><path d="M1864.94 1518.2L1873.39 1503L1856.49 1503Z" fill="#ff0000"/><path d="M1888.56 1525.7L1897.01 1510.5L1880.11 1510.5Z" fill="#ff0000"/><path d="M1912.18 1531.5L1920.63 1516.3L1903.73 1516.3Z" fill="#ff0000"/><path d="M1935.8 1540.3L1944.25 1525.1L1927.35 1525.1Z" fill="#ff0000"/><path d="M1959.42 1543.6L1967.87 1528.4L1950.97 1528.4Z" fill="#ff0000"/><path d="M1983.04 1549.7L1991.49 1534.5L1974.59 1534.5Z" fill="#ff0000"/><path d="M2006.66 1546.8L2015.11 1531.6L1998.21 1531.6Z" fill="#ff0000"/><path d="M2030.28 1548.6L2038.73 1533.4L2021.83 1533.4Z" fill="#ff0000"/><path d="M2053.9 1546.5L2062.35 1531.3L2045.45 1531.3Z" fill="#ff0000"/><path d="M2077.52 1544.2L2085.97 1529L2069.07 1529Z" fill="#ff0000"/><path d="M2101.14 1542.3L2109.59 1527.1L2092.69 1527.1Z" fill="#ff0000"/><path d="M2124.76 1542L2133.21 1526.8L2116.31 1526.8Z" fill="#ff0000"/><path d="M2148.38 1561.1L2156.83 1545.9L2139.93 1545.9Z" fill="#ff0000"/><path d="M2172 1564.4L2180.45 1549.2L2163.55 1549.2Z" fill="#ff0000"/><path d="M2195.62 1564.4L2204.07 1549.2L2187.17 1549.2Z" fill="#ff0000"/><path d="M2219.24 1558.8L2227.69 1543.6L2210.79 1543.6Z" fill="#ff0000"/><path d="M2242.86 1554.4L2251.31 1539.2L2234.41 1539.2Z" fill="#ff0000"/><path d="M2266.48 1547.7L2274.93 1532.5L2258.03 1532.5Z" fill="#ff0000"/><path d="M2290.1 1545.5L2298.55 1530.3L2281.65 1530.3Z" fill="#ff0000"/></g>
<g><path d="M1473.5 1337.1L1458.3 1328.65L1458.3 1345.55Z" fill="#ff8000"/><path d="M1497.12 1351L1481.92 1342.55L1481.92 1359.45Z" fill="#ff8000"/><path d="M1520.74 1364.4L1505.54 1355.95L1505.54 1372.85Z" fill="#ff8000"/><path d="M1544.36 1377.7L1529.16 1369.25L1529.16 1386.15Z" fill="#ff8000"/><path d="M1567.98 1391.8L1552.78 1383.35L1552.78 1400.25Z" fill="#ff8000"/><path d="M1591.6 1405.3L1576.4 1396.85L1576.4 1413.75Z" fill="#ff8000"/><path d="M1615.22 1419.2L1600.02 1410.75L1600.02 1427.65Z" fill="#ff8000"/><path d="M1638.84 1432.5L1623.64 1424.05L1623.64 1440.95Z" fill="#ff8000"/><path d="M1662.46 1444.8L1647.26 1436.35L1647.26 1453.25Z" fill="#ff8000"/><path d="M1686.08 1455.7L1670.88 1447.25L1670.88 1464.15Z" fill="#ff8000"/><path d="M1709.7 1465.2L1694.5 1456.75L1694.5 1473.65Z" fill="#ff8000"/><path d="M1733.32 1472L1718.12 1463.55L1718.12 1480.45Z" fill="#ff8000"/><path d="M1756.94 1476.7L1741.74 1468.25L1741.74 1485.15Z" fill="#ff8000"/><path d="M1780.56 1479.5L1765.36 1471.05L1765.36 1487.95Z" fill="#ff8000"/><path d="M1804.18 1480.8L1788.98 1472.35L1788.98 1489.25Z" fill="#ff8000"/><path d="M1827.8 1481.3L1812.6 1472.85L1812.6 1489.75Z" fill="#ff8000"/><path d="M1851.42 1482L1836.22 1473.55L1836.22 1490.45Z" fill="#ff8000"/><path d="M1875.04 1485.5L1859.84 1477.05L1859.84 1493.95Z" fill="#ff8000"/><path d="M1898.66 1490.1L1883.46 1481.65L1883.46 1498.55Z" fill="#ff8000"/><path d="M1922.28 1495.9L1907.08 1487.45L1907.08 1504.35Z" fill="#ff8000"/><path d="M1945.9 1499.9L1930.7 1491.45L1930.7 1508.35Z" fill="#ff8000"/><path d="M1969.52 1506L1954.32 1497.55L1954.32 1514.45Z" fill="#ff8000"/><path d="M1993.14 1508.3L1977.94 1499.85L1977.94 1516.75Z" fill="#ff8000"/><path d="M2016.76 1510.8L2001.56 1502.35L2001.56 1519.25Z" fill="#ff8000"/><path d="M2040.38 1511.2L2025.18 1502.75L2025.18 1519.65Z" fill="#ff8000"/><path d="M2064 1512.2L2048.8 1503.75L2048.8 1520.65Z" fill="#ff8000"/><path d="M2087.62 1513.6L2072.42 1505.15L2072.42 1522.05Z" fill="#ff8000"/><path d="M2111.24 1512.8L2096.04 1504.35L2096.04 1521.25Z" fill="#ff8000"/><path d="M2134.86 1519.3L2119.66 1510.85L2119.66 1527.75Z" fill="#ff8000"/><path d="M2158.48 1527.9L2143.28 1519.45L2143.28 1536.35Z" fill="#ff8000"/><path d="M2182.1 1532.9L2166.9 1524.45L2166.9 1541.35Z" fill="#ff8000"/><path d="M2205.72 1535.7L2190.52 1527.25L2190.52 1544.15Z" fill="#ff8000"/><path d="M2229.34 1534.5L2214.14 1526.05L2214.14 1542.95Z" fill="#ff8000"/><path d="M2252.96 1522.3L2237.76 1513.85L2237.76 1530.75Z" fill="#ff8000"/><path d="M2276.58 1527.9L2261.38 1519.45L2261.38 1536.35Z" fill="#ff8000"/><path d="M2300.2 1529L2285 1520.55L2285 1537.45Z" fill="#ff8000"/></g>
<g><path d="M1453.3 1279.4L1468.5 1270.95L1468.5 1287.85Z" fill="#008080"/><path d="M1476.92 1293.5L1492.12 1285.05L1492.12 1301.95Z" fill="#008080"/><path d="M1500.54 1309.6L1515.74 1301.15L1515.74 1318.05Z" fill="#008080"/><path d="M1524.16 1324.5L1539.36 1316.05L1539.36 1332.95Z" fill="#008080"/><path d="M1547.78 1340.3L1562.98 1331.85L1562.98 1348.75Z" fill="#008080"/><path d="M1571.4 1354.2L1586.6 1345.75L1586.6 1362.65Z" fill="#008080"/><path d="M1595.02 1367.7L1610.22 1359.25L1610.22 1376.15Z" fill="#008080"/><path d="M1618.64 1380.8L1633.84 1372.35L1633.84 1389.25Z" fill="#008080"/><path d="M1642.26 1393.5L1657.46 1385.05L1657.46 1401.95Z" fill="#008080"/><path d="M1665.88 1406.2L1681.08 1397.75L1681.08 1414.65Z" fill="#008080"/><path d="M1689.5 1419.2L1704.7 1410.75L1704.7 1427.65Z" fill="#008080"/><path d="M1713.12 1432.5L1728.32 1424.05L1728.32 1440.95Z" fill="#008080"/><path d="M1736.74 1445.1L1751.94 1436.65L1751.94 1453.55Z" fill="#008080"/><path d="M1760.36 1456.8L1775.56 1448.35L1775.56 1465.25Z" fill="#008080"/><path d="M1783.98 1467.8L1799.18 1459.35L1799.18 1476.25Z" fill="#008080"/><path d="M1807.6 1476.1L1822.8 1467.65L1822.8 1484.55Z" fill="#008080"/><path d="M1831.22 1481.9L1846.42 1473.45L1846.42 1490.35Z" fill="#008080"/><path d="M1854.84 1487.7L1870.04 1479.25L1870.04 1496.15Z" fill="#008080"/><path d="M1878.46 1493.4L1893.66 1484.95L1893.66 1501.85Z" fill="#008080"/><path d="M1902.08 1499.2L1917.28 1490.75L1917.28 1507.65Z" fill="#008080"/><path d="M1925.7 1506.4L1940.9 1497.95L1940.9 1514.85Z" fill="#008080"/><path d="M1949.32 1512.9L1964.52 1504.45L1964.52 1521.35Z" fill="#008080"/><path d="M1972.94 1520.9L1988.14 1512.45L1988.14 1529.35Z" fill="#008080"/><path d="M1996.56 1517.2L2011.76 1508.75L2011.76 1525.65Z" fill="#008080"/><path d="M2020.18 1520.1L2035.38 1511.65L2035.38 1528.55Z" fill="#008080"/><path d="M2043.8 1517L2059 1508.55L2059 1525.45Z" fill="#008080"/><path d="M2067.42 1518L2082.62 1509.55L2082.62 1526.45Z" fill="#008080"/><path d="M2091.04 1513.6L2106.24 1505.15L2106.24 1522.05Z" fill="#008080"/><path d="M2114.66 1519.4L2129.86 1510.95L2129.86 1527.85Z" fill="#008080"/><path d="M2138.28 1523.4L2153.48 1514.95L2153.48 1531.85Z" fill="#008080"/><path d="M2161.9 1527.3L2177.1 1518.85L2177.1 1535.75Z" fill="#008080"/><path d="M2185.52 1528.4L2200.72 1519.95L2200.72 1536.85Z" fill="#008080"/><path d="M2209.14 1527.9L2224.34 1519.45L2224.34 1536.35Z" fill="#008080"/><path d="M2232.76 1528.4L2247.96 1519.95L2247.96 1536.85Z" fill="#008080"/><path d="M2256.38 1526.8L2271.58 1518.35L2271.58 1535.25Z" fill="#008080"/><path d="M2280 1529L2295.2 1520.55L2295.2 1537.45Z" fill="#008080"/></g>
<g><circle cx="1463.4" cy="1247.5" r="6.9" fill="#008000"/><circle cx="1487.02" cy="1264.6" r="6.9" fill="#008000"/><circle cx="1510.64" cy="1280.9" r="6.9" fill="#008000"/><circle cx="1534.26" cy="1296.7" r="6.9" fill="#008000"/><circle cx="1557.88" cy="1312.1" r="6.9" fill="#008000"/><circle cx="1581.5" cy="1328.2" r="6.9" fill="#008000"/><circle cx="1605.12" cy="1343.6" r="6.9" fill="#008000"/><circle cx="1628.74" cy="1358.8" r="6.9" fill="#008000"/><circle cx="1652.36" cy="1373.2" r="6.9" fill="#008000"/><circle cx="1675.98" cy="1386.4" r="6.9" fill="#008000"/><circle cx="1699.6" cy="1398.9" r="6.9" fill="#008000"/><circle cx="1723.22" cy="1411.2" r="6.9" fill="#008000"/><circle cx="1746.84" cy="1423.4" r="6.9" fill="#008000"/><circle cx="1770.46" cy="1435.3" r="6.9" fill="#008000"/><circle cx="1794.08" cy="1447.6" r="6.9" fill="#008000"/><circle cx="1817.7" cy="1460.4" r="6.9" fill="#008000"/><circle cx="1841.32" cy="1463.4" r="6.9" fill="#008000"/><circle cx="1864.94" cy="1481.9" r="6.9" fill="#008000"/><circle cx="1888.56" cy="1491.3" r="6.9" fill="#008000"/><circle cx="1912.18" cy="1501.1" r="6.9" fill="#008000"/><circle cx="1935.8" cy="1512.2" r="6.9" fill="#008000"/><circle cx="1959.42" cy="1523" r="6.9" fill="#008000"/><circle cx="1983.04" cy="1536" r="6.9" fill="#008000"/><circle cx="2006.66" cy="1538" r="6.9" fill="#008000"/><circle cx="2030.28" cy="1543.2" r="6.9" fill="#008000"/><circle cx="2053.9" cy="1544" r="6.9" fill="#008000"/><circle cx="2077.52" cy="1540" r="6.9" fill="#008000"/><circle cx="2101.14" cy="1537" r="6.9" fill="#008000"/><circle cx="2124.76" cy="1543.4" r="6.9" fill="#008000"/><circle cx="2148.38" cy="1549.6" r="6.9" fill="#008000"/><circle cx="2172" cy="1549" r="6.9" fill="#008000"/><circle cx="2195.62" cy="1549.6" r="6.9" fill="#008000"/><circle cx="2219.24" cy="1546.8" r="6.9" fill="#008000"/><circle cx="2242.86" cy="1542.3" r="6.9" fill="#008000"/><circle cx="2266.48" cy="1542.3" r="6.9" fill="#008000"/><circle cx="2290.1" cy="1545.1" r="6.9" fill="#008000"/></g>
<g><circle cx="1463.4" cy="1203.5" r="6.2" fill="#fff" stroke="#00ffff" stroke-width="1.4"/><circle cx="1487.02" cy="1221.9" r="6.2" fill="#fff" stroke="#00ffff" stroke-width="1.4"/><circle cx="1510.64" cy="1240.4" r="6.2" fill="#fff" stroke="#00ffff" stroke-width="1.4"/><circle cx="1534.26" cy="1256.8" r="6.2" fill="#fff" stroke="#00ffff" stroke-width="1.4"/><circle cx="1557.88" cy="1273.8" r="6.2" fill="#fff" stroke="#00ffff" stroke-width="1.4"/><circle cx="1581.5" cy="1290.5" r="6.2" fill="#fff" stroke="#00ffff" stroke-width="1.4"/><circle cx="1605.12" cy="1306.9" r="6.2" fill="#fff" stroke="#00ffff" stroke-width="1.4"/><circle cx="1628.74" cy="1323" r="6.2" fill="#fff" stroke="#00ffff" stroke-width="1.4"/><circle cx="1652.36" cy="1338.8" r="6.2" fill="#fff" stroke="#00ffff" stroke-width="1.4"/><circle cx="1675.98" cy="1353.6" r="6.2" fill="#fff" stroke="#00ffff" stroke-width="1.4"/><circle cx="1699.6" cy="1369.5" r="6.2" fill="#fff" stroke="#00ffff" stroke-width="1.4"/><circle cx="1723.22" cy="1381.8" r="6.2" fill="#fff" stroke="#00ffff" stroke-width="1.4"/><circle cx="1746.84" cy="1394.4" r="6.2" fill="#fff" stroke="#00ffff" stroke-width="1.4"/><circle cx="1770.46" cy="1406.5" r="6.2" fill="#fff" stroke="#00ffff" stroke-width="1.4"/><circle cx="1794.08" cy="1418.2" r="6.2" fill="#fff" stroke="#00ffff" stroke-width="1.4"/><circle cx="1817.7" cy="1429.9" r="6.2" fill="#fff" stroke="#00ffff" stroke-width="1.4"/><circle cx="1841.32" cy="1442.3" r="6.2" fill="#fff" stroke="#00ffff" stroke-width="1.4"/><circle cx="1864.94" cy="1454.2" r="6.2" fill="#fff" stroke="#00ffff" stroke-width="1.4"/><circle cx="1888.56" cy="1466.3" r="6.2" fill="#fff" stroke="#00ffff" stroke-width="1.4"/><circle cx="1912.18" cy="1477.8" r="6.2" fill="#fff" stroke="#00ffff" stroke-width="1.4"/><circle cx="1935.8" cy="1489.5" r="6.2" fill="#fff" stroke="#00ffff" stroke-width="1.4"/><circle cx="1959.42" cy="1502.8" r="6.2" fill="#fff" stroke="#00ffff" stroke-width="1.4"/><circle cx="1983.04" cy="1516.5" r="6.2" fill="#fff" stroke="#00ffff" stroke-width="1.4"/><circle cx="2006.66" cy="1527.4" r="6.2" fill="#fff" stroke="#00ffff" stroke-width="1.4"/><circle cx="2030.28" cy="1539.2" r="6.2" fill="#fff" stroke="#00ffff" stroke-width="1.4"/><circle cx="2053.9" cy="1545.1" r="6.2" fill="#fff" stroke="#00ffff" stroke-width="1.4"/><circle cx="2077.52" cy="1548.3" r="6.2" fill="#fff" stroke="#00ffff" stroke-width="1.4"/><circle cx="2101.14" cy="1550.3" r="6.2" fill="#fff" stroke="#00ffff" stroke-width="1.4"/><circle cx="2124.76" cy="1557.8" r="6.2" fill="#fff" stroke="#00ffff" stroke-width="1.4"/><circle cx="2148.38" cy="1573.5" r="6.2" fill="#fff" stroke="#00ffff" stroke-width="1.4"/><circle cx="2172" cy="1576.3" r="6.2" fill="#fff" stroke="#00ffff" stroke-width="1.4"/><circle cx="2195.62" cy="1572.4" r="6.2" fill="#fff" stroke="#00ffff" stroke-width="1.4"/><circle cx="2219.24" cy="1567.4" r="6.2" fill="#fff" stroke="#00ffff" stroke-width="1.4"/><circle cx="2242.86" cy="1559" r="6.2" fill="#fff" stroke="#00ffff" stroke-width="1.4"/><circle cx="2266.48" cy="1555.7" r="6.2" fill="#fff" stroke="#00ffff" stroke-width="1.4"/><circle cx="2290.1" cy="1555.1" r="6.2" fill="#fff" stroke="#00ffff" stroke-width="1.4"/></g>
<g><path d="M1463.4 1151.7L1471.1 1159.4L1463.4 1167.1L1455.7 1159.4Z" fill="#fff" stroke="#8b1a1a" stroke-width="1.2"/><path d="M1487.02 1169.3L1494.72 1177L1487.02 1184.7L1479.32 1177Z" fill="#fff" stroke="#8b1a1a" stroke-width="1.2"/><path d="M1510.64 1187.8L1518.34 1195.5L1510.64 1203.2L1502.94 1195.5Z" fill="#fff" stroke="#8b1a1a" stroke-width="1.2"/><path d="M1534.26 1205.8L1541.96 1213.5L1534.26 1221.2L1526.56 1213.5Z" fill="#fff" stroke="#8b1a1a" stroke-width="1.2"/><path d="M1557.88 1224.4L1565.58 1232.1L1557.88 1239.8L1550.18 1232.1Z" fill="#fff" stroke="#8b1a1a" stroke-width="1.2"/><path d="M1581.5 1242.2L1589.2 1249.9L1581.5 1257.6L1573.8 1249.9Z" fill="#fff" stroke="#8b1a1a" stroke-width="1.2"/><path d="M1605.12 1259.3L1612.82 1267L1605.12 1274.7L1597.42 1267Z" fill="#fff" stroke="#8b1a1a" stroke-width="1.2"/><path d="M1628.74 1276L1636.44 1283.7L1628.74 1291.4L1621.04 1283.7Z" fill="#fff" stroke="#8b1a1a" stroke-width="1.2"/><path d="M1652.36 1293L1660.06 1300.7L1652.36 1308.4L1644.66 1300.7Z" fill="#fff" stroke="#8b1a1a" stroke-width="1.2"/><path d="M1675.98 1309L1683.68 1316.7L1675.98 1324.4L1668.28 1316.7Z" fill="#fff" stroke="#8b1a1a" stroke-width="1.2"/><path d="M1699.6 1326.1L1707.3 1333.8L1699.6 1341.5L1691.9 1333.8Z" fill="#fff" stroke="#8b1a1a" stroke-width="1.2"/><path d="M1723.22 1341.3L1730.92 1349L1723.22 1356.7L1715.52 1349Z" fill="#fff" stroke="#8b1a1a" stroke-width="1.2"/><path d="M1746.84 1356.7L1754.54 1364.4L1746.84 1372.1L1739.14 1364.4Z" fill="#fff" stroke="#8b1a1a" stroke-width="1.2"/><path d="M1770.46 1370.6L1778.16 1378.3L1770.46 1386L1762.76 1378.3Z" fill="#fff" stroke="#8b1a1a" stroke-width="1.2"/><path d="M1794.08 1384.1L1801.78 1391.8L1794.08 1399.5L1786.38 1391.8Z" fill="#fff" stroke="#8b1a1a" stroke-width="1.2"/><path d="M1817.7 1395.9L1825.4 1403.6L1817.7 1411.3L1810 1403.6Z" fill="#fff" stroke="#8b1a1a" stroke-width="1.2"/><path d="M1841.32 1407.3L1849.02 1415L1841.32 1422.7L1833.62 1415Z" fill="#fff" stroke="#8b1a1a" stroke-width="1.2"/><path d="M1864.94 1418.9L1872.64 1426.6L1864.94 1434.3L1857.24 1426.6Z" fill="#fff" stroke="#8b1a1a" stroke-width="1.2"/><path d="M1888.56 1430.4L1896.26 1438.1L1888.56 1445.8L1880.86 1438.1Z" fill="#fff" stroke="#8b1a1a" stroke-width="1.2"/><path d="M1912.18 1443.1L1919.88 1450.8L1912.18 1458.5L1904.48 1450.8Z" fill="#fff" stroke="#8b1a1a" stroke-width="1.2"/><path d="M1935.8 1456.1L1943.5 1463.8L1935.8 1471.5L1928.1 1463.8Z" fill="#fff" stroke="#8b1a1a" stroke-width="1.2"/><path d="M1959.42 1469.8L1967.12 1477.5L1959.42 1485.2L1951.72 1477.5Z" fill="#fff" stroke="#8b1a1a" stroke-width="1.2"/><path d="M1983.04 1483.3L1990.74 1491L1983.04 1498.7L1975.34 1491Z" fill="#fff" stroke="#8b1a1a" stroke-width="1.2"/><path d="M2006.66 1495.8L2014.36 1503.5L2006.66 1511.2L1998.96 1503.5Z" fill="#fff" stroke="#8b1a1a" stroke-width="1.2"/><path d="M2030.28 1509.5L2037.98 1517.2L2030.28 1524.9L2022.58 1517.2Z" fill="#fff" stroke="#8b1a1a" stroke-width="1.2"/><path d="M2053.9 1520.8L2061.6 1528.5L2053.9 1536.2L2046.2 1528.5Z" fill="#fff" stroke="#8b1a1a" stroke-width="1.2"/><path d="M2077.52 1529.8L2085.22 1537.5L2077.52 1545.2L2069.82 1537.5Z" fill="#fff" stroke="#8b1a1a" stroke-width="1.2"/><path d="M2101.14 1537.6L2108.84 1545.3L2101.14 1553L2093.44 1545.3Z" fill="#fff" stroke="#8b1a1a" stroke-width="1.2"/><path d="M2124.76 1548.7L2132.46 1556.4L2124.76 1564.1L2117.06 1556.4Z" fill="#fff" stroke="#8b1a1a" stroke-width="1.2"/><path d="M2148.38 1583.1L2156.08 1590.8L2148.38 1598.5L2140.68 1590.8Z" fill="#fff" stroke="#8b1a1a" stroke-width="1.2"/><path d="M2172 1588.6L2179.7 1596.3L2172 1604L2164.3 1596.3Z" fill="#fff" stroke="#8b1a1a" stroke-width="1.2"/><path d="M2195.62 1588.6L2203.32 1596.3L2195.62 1604L2187.92 1596.3Z" fill="#fff" stroke="#8b1a1a" stroke-width="1.2"/><path d="M2219.24 1583.1L2226.94 1590.8L2219.24 1598.5L2211.54 1590.8Z" fill="#fff" stroke="#8b1a1a" stroke-width="1.2"/><path d="M2242.86 1570.8L2250.56 1578.5L2242.86 1586.2L2235.16 1578.5Z" fill="#fff" stroke="#8b1a1a" stroke-width="1.2"/><path d="M2266.48 1564.1L2274.18 1571.8L2266.48 1579.5L2258.78 1571.8Z" fill="#fff" stroke="#8b1a1a" stroke-width="1.2"/><path d="M2290.1 1570.3L2297.8 1578L2290.1 1585.7L2282.4 1578Z" fill="#fff" stroke="#8b1a1a" stroke-width="1.2"/></g>
<g><path d="M1463.4 1120.5L1471.7 1128.8L1463.4 1137.1L1455.1 1128.8Z" fill="#0000ff"/><path d="M1487.02 1138.1L1495.32 1146.4L1487.02 1154.7L1478.72 1146.4Z" fill="#0000ff"/><path d="M1510.64 1155.3L1518.94 1163.6L1510.64 1171.9L1502.34 1163.6Z" fill="#0000ff"/><path d="M1534.26 1172.8L1542.56 1181.1L1534.26 1189.4L1525.96 1181.1Z" fill="#0000ff"/><path d="M1557.88 1189.1L1566.18 1197.4L1557.88 1205.7L1549.58 1197.4Z" fill="#0000ff"/><path d="M1581.5 1206.7L1589.8 1215L1581.5 1223.3L1573.2 1215Z" fill="#0000ff"/><path d="M1605.12 1223.1L1613.42 1231.4L1605.12 1239.7L1596.82 1231.4Z" fill="#0000ff"/><path d="M1628.74 1240.1L1637.04 1248.4L1628.74 1256.7L1620.44 1248.4Z" fill="#0000ff"/><path d="M1652.36 1256.4L1660.66 1264.7L1652.36 1273L1644.06 1264.7Z" fill="#0000ff"/><path d="M1675.98 1272.6L1684.28 1280.9L1675.98 1289.2L1667.68 1280.9Z" fill="#0000ff"/><path d="M1699.6 1288.4L1707.9 1296.7L1699.6 1305L1691.3 1296.7Z" fill="#0000ff"/><path d="M1723.22 1305.1L1731.52 1313.4L1723.22 1321.7L1714.92 1313.4Z" fill="#0000ff"/><path d="M1746.84 1320.8L1755.14 1329.1L1746.84 1337.4L1738.54 1329.1Z" fill="#0000ff"/><path d="M1770.46 1336.6L1778.76 1344.9L1770.46 1353.2L1762.16 1344.9Z" fill="#0000ff"/><path d="M1794.08 1351.1L1802.38 1359.4L1794.08 1367.7L1785.78 1359.4Z" fill="#0000ff"/><path d="M1817.7 1365.7L1826 1374L1817.7 1382.3L1809.4 1374Z" fill="#0000ff"/><path d="M1841.32 1377.3L1849.62 1385.6L1841.32 1393.9L1833.02 1385.6Z" fill="#0000ff"/><path d="M1864.94 1389.1L1873.24 1397.4L1864.94 1405.7L1856.64 1397.4Z" fill="#0000ff"/><path d="M1888.56 1400.7L1896.86 1409L1888.56 1417.3L1880.26 1409Z" fill="#0000ff"/><path d="M1912.18 1411.5L1920.48 1419.8L1912.18 1428.1L1903.88 1419.8Z" fill="#0000ff"/><path d="M1935.8 1424.2L1944.1 1432.5L1935.8 1440.8L1927.5 1432.5Z" fill="#0000ff"/><path d="M1959.42 1436.5L1967.72 1444.8L1959.42 1453.1L1951.12 1444.8Z" fill="#0000ff"/><path d="M1983.04 1450.5L1991.34 1458.8L1983.04 1467.1L1974.74 1458.8Z" fill="#0000ff"/><path d="M2006.66 1463.9L2014.96 1472.2L2006.66 1480.5L1998.36 1472.2Z" fill="#0000ff"/><path d="M2030.28 1478.3L2038.58 1486.6L2030.28 1494.9L2021.98 1486.6Z" fill="#0000ff"/><path d="M2053.9 1491.6L2062.2 1499.9L2053.9 1508.2L2045.6 1499.9Z" fill="#0000ff"/><path d="M2077.52 1504.3L2085.82 1512.6L2077.52 1520.9L2069.22 1512.6Z" fill="#0000ff"/><path d="M2101.14 1516.2L2109.44 1524.5L2101.14 1532.8L2092.84 1524.5Z" fill="#0000ff"/><path d="M2124.76 1529.3L2133.06 1537.6L2124.76 1545.9L2116.46 1537.6Z" fill="#0000ff"/><path d="M2148.38 1558.3L2156.68 1566.6L2148.38 1574.9L2140.08 1566.6Z" fill="#0000ff"/><path d="M2172 1563L2180.3 1571.3L2172 1579.6L2163.7 1571.3Z" fill="#0000ff"/><path d="M2195.62 1578.3L2203.92 1586.6L2195.62 1594.9L2187.32 1586.6Z" fill="#0000ff"/><path d="M2219.24 1583.6L2227.54 1591.9L2219.24 1600.2L2210.94 1591.9Z" fill="#0000ff"/><path d="M2242.86 1573.2L2251.16 1581.5L2242.86 1589.8L2234.56 1581.5Z" fill="#0000ff"/><path d="M2266.48 1573.2L2274.78 1581.5L2266.48 1589.8L2258.18 1581.5Z" fill="#0000ff"/><path d="M2290.1 1586.1L2298.4 1594.4L2290.1 1602.7L2281.8 1594.4Z" fill="#0000ff"/></g>
<line x1="1451.4" y1="1123.6" x2="2135.4" y2="1588" stroke="#ff80ff" stroke-width="4.2"/>
<rect x="1710.5" y="1022.6" width="283.2" height="45.1" fill="#fff" stroke="#000" stroke-width="1.4"/>
<text x="1711.6" y="1057.4" font-family='"Liberation Serif", serif' font-size="33.5" textLength="279.1" lengthAdjust="spacingAndGlyphs">Composites-Trising</text>
<rect x="2120.7" y="1022.6" width="185.8" height="488.5" fill="#fff" stroke="#000" stroke-width="1.5"/>
<rect x="2157.8" y="1047.98" width="12.6" height="13.23" fill="#000000"/>
<text transform="translate(2214.9,1066.9) scale(0.95,1)" font-family='"Liberation Serif", serif' font-size="34">20</text>
<text x="2247.9" y="1066" font-family='"Liberation Serif", "Noto Serif CJK SC", serif' font-size="29.2">℃</text>
<rect x="2158.55" y="1096.38" width="11.1" height="11.73" fill="#fff" stroke="#ff0000" stroke-width="1.5"/>
<text transform="translate(2214.9,1114.55) scale(0.95,1)" font-family='"Liberation Serif", serif' font-size="34">40</text>
<text x="2247.9" y="1113.65" font-family='"Liberation Serif", "Noto Serif CJK SC", serif' font-size="29.2">℃</text>
<path d="M2164.1 1139.8L2172.55 1155L2155.65 1155Z" fill="#800000"/>
<text transform="translate(2214.9,1162.2) scale(0.95,1)" font-family='"Liberation Serif", serif' font-size="34">60</text>
<text x="2247.9" y="1161.3" font-family='"Liberation Serif", "Noto Serif CJK SC", serif' font-size="29.2">℃</text>
<path d="M2164.1 1207.65L2172.55 1192.45L2155.65 1192.45Z" fill="#ff0000"/>
<text transform="translate(2214.9,1209.85) scale(0.95,1)" font-family='"Liberation Serif", serif' font-size="34">80</text>
<text x="2247.9" y="1208.95" font-family='"Liberation Serif", "Noto Serif CJK SC", serif' font-size="29.2">℃</text>
<path d="M2174.2 1245.2L2159 1236.75L2159 1253.65Z" fill="#ff8000"/>
<text transform="translate(2214.9,1257.5) scale(0.95,1)" font-family='"Liberation Serif", serif' font-size="34">100</text>
<text x="2264.05" y="1256.6" font-family='"Liberation Serif", "Noto Serif CJK SC", serif' font-size="29.2">℃</text>
<path d="M2154 1292.85L2169.2 1284.4L2169.2 1301.3Z" fill="#008080"/>
<text transform="translate(2214.9,1305.15) scale(0.95,1)" font-family='"Liberation Serif", serif' font-size="34">120</text>
<text x="2264.05" y="1304.25" font-family='"Liberation Serif", "Noto Serif CJK SC", serif' font-size="29.2">℃</text>
<circle cx="2164.1" cy="1340.5" r="6.9" fill="#008000"/>
<text transform="translate(2214.9,1352.8) scale(0.95,1)" font-family='"Liberation Serif", serif' font-size="34">140</text>
<text x="2264.05" y="1351.9" font-family='"Liberation Serif", "Noto Serif CJK SC", serif' font-size="29.2">℃</text>
<circle cx="2164.1" cy="1388.15" r="6.2" fill="#fff" stroke="#00ffff" stroke-width="1.4"/>
<text transform="translate(2214.9,1400.45) scale(0.95,1)" font-family='"Liberation Serif", serif' font-size="34">160</text>
<text x="2264.05" y="1399.55" font-family='"Liberation Serif", "Noto Serif CJK SC", serif' font-size="29.2">℃</text>
<path d="M2164.1 1428.1L2171.8 1435.8L2164.1 1443.5L2156.4 1435.8Z" fill="#fff" stroke="#8b1a1a" stroke-width="1.2"/>
<text transform="translate(2214.9,1448.1) scale(0.95,1)" font-family='"Liberation Serif", serif' font-size="34">180</text>
<text x="2264.05" y="1447.2" font-family='"Liberation Serif", "Noto Serif CJK SC", serif' font-size="29.2">℃</text>
<path d="M2164.1 1475.15L2172.4 1483.45L2164.1 1491.75L2155.8 1483.45Z" fill="#0000ff"/>
<text transform="translate(2214.9,1495.75) scale(0.95,1)" font-family='"Liberation Serif", serif' font-size="34">200</text>
<text x="2264.05" y="1494.85" font-family='"Liberation Serif", "Noto Serif CJK SC", serif' font-size="29.2">℃</text>
<rect x="1451.4" y="1022.6" width="855.1" height="591.1" fill="none" stroke="#000" stroke-width="2.6"/>
<text transform="translate(1463.5,1662.5) scale(1.0,1)" text-anchor="middle" font-family='"Liberation Sans", sans-serif' font-size="36.5">10<tspan dx="0" dy="-21" font-size="22.5">-2</tspan></text>
<text transform="translate(1581.55,1662.5) scale(1.0,1)" text-anchor="middle" font-family='"Liberation Sans", sans-serif' font-size="36.5">10<tspan dx="0" dy="-21" font-size="22.5">-1</tspan></text>
<text transform="translate(1699.6,1662.5) scale(1.0,1)" text-anchor="middle" font-family='"Liberation Sans", sans-serif' font-size="36.5">10<tspan dx="0" dy="-21" font-size="22.5">0</tspan></text>
<text transform="translate(1817.65,1662.5) scale(1.0,1)" text-anchor="middle" font-family='"Liberation Sans", sans-serif' font-size="36.5">10<tspan dx="0" dy="-21" font-size="22.5">1</tspan></text>
<text transform="translate(1935.7,1662.5) scale(1.0,1)" text-anchor="middle" font-family='"Liberation Sans", sans-serif' font-size="36.5">10<tspan dx="0" dy="-21" font-size="22.5">2</tspan></text>
<text transform="translate(2053.75,1662.5) scale(1.0,1)" text-anchor="middle" font-family='"Liberation Sans", sans-serif' font-size="36.5">10<tspan dx="0" dy="-21" font-size="22.5">3</tspan></text>
<text transform="translate(2171.8,1662.5) scale(1.0,1)" text-anchor="middle" font-family='"Liberation Sans", sans-serif' font-size="36.5">10<tspan dx="0" dy="-21" font-size="22.5">4</tspan></text>
<text transform="translate(2289.85,1662.5) scale(1.0,1)" text-anchor="middle" font-family='"Liberation Sans", sans-serif' font-size="36.5">10<tspan dx="0" dy="-21" font-size="22.5">5</tspan></text>
<text transform="translate(1437.2,1602.8) scale(1.0,1)" text-anchor="end" font-family='"Liberation Sans", sans-serif' font-size="36.5">10<tspan dx="0" dy="-21" font-size="22.5">-2</tspan></text>
<text transform="translate(1437.2,1521.81) scale(1.0,1)" text-anchor="end" font-family='"Liberation Sans", sans-serif' font-size="36.5">10<tspan dx="0" dy="-21" font-size="22.5">-1</tspan></text>
<text transform="translate(1437.2,1440.82) scale(1.0,1)" text-anchor="end" font-family='"Liberation Sans", sans-serif' font-size="36.5">10<tspan dx="0" dy="-21" font-size="22.5">0</tspan></text>
<text transform="translate(1437.2,1359.83) scale(1.0,1)" text-anchor="end" font-family='"Liberation Sans", sans-serif' font-size="36.5">10<tspan dx="0" dy="-21" font-size="22.5">1</tspan></text>
<text transform="translate(1437.2,1278.84) scale(1.0,1)" text-anchor="end" font-family='"Liberation Sans", sans-serif' font-size="36.5">10<tspan dx="0" dy="-21" font-size="22.5">2</tspan></text>
<text transform="translate(1437.2,1197.85) scale(1.0,1)" text-anchor="end" font-family='"Liberation Sans", sans-serif' font-size="36.5">10<tspan dx="0" dy="-21" font-size="22.5">3</tspan></text>
<text transform="translate(1437.2,1116.86) scale(1.0,1)" text-anchor="end" font-family='"Liberation Sans", sans-serif' font-size="36.5">10<tspan dx="0" dy="-21" font-size="22.5">4</tspan></text>
<text transform="translate(1437.2,1035.87) scale(1.0,1)" text-anchor="end" font-family='"Liberation Sans", sans-serif' font-size="36.5">10<tspan dx="0" dy="-21" font-size="22.5">5</tspan></text>
<text x="1733.5" y="1698.1" font-family='"Liberation Serif", serif' font-size="40" textLength="282" lengthAdjust="spacingAndGlyphs">Frequency (Hz)</text>
<text transform="translate(1376.2,1349.8) rotate(-90) scale(1.17,1)" font-family='"Liberation Serif", serif' font-size="49.8">ε</text>
<text transform="translate(1398.4,1326) rotate(-90)" font-family='"Liberation Sans", sans-serif' font-size="48">r</text>
<text transform="translate(1382.5,1309.4) rotate(-90) scale(0.87,1)" font-family='"Liberation Sans", sans-serif' font-size="70">"</text>
<text transform="translate(1819.4,1846.3) scale(0.862,1)" font-family='"Liberation Serif", serif' font-size="61">(</text>
<text transform="translate(1837.86,1846.3) scale(0.976,1)" font-family='"Liberation Serif", serif' font-size="62.5" font-weight="bold">d</text>
<text transform="translate(1873.39,1846.3) scale(0.933,1)" font-family='"Liberation Serif", serif' font-size="61">)</text>
</g>
</svg></body></html>
